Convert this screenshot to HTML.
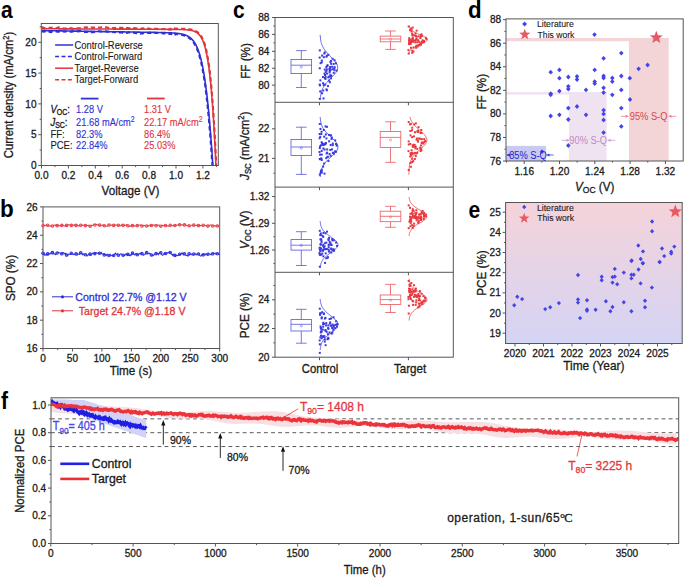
<!DOCTYPE html>
<html><head><meta charset="utf-8"><style>
html,body{margin:0;padding:0;background:#fff;width:685px;height:578px;overflow:hidden}
svg{display:block;font-family:'Liberation Sans', sans-serif}
text{stroke-width:0.28px}
</style></head><body>
<svg width="685" height="578" viewBox="0 0 685 578">
<rect width="685" height="578" fill="#fff"/>
<text transform="translate(1,17.5) scale(1,1.17)" font-size="21" text-anchor="start" fill="#000"  font-weight="bold" >a</text>
<text transform="translate(0,217.2) scale(1,1.05)" font-size="22.5" text-anchor="start" fill="#000"  font-weight="bold" >b</text>
<text transform="translate(233,18) scale(1,1.17)" font-size="21" text-anchor="start" fill="#000"  font-weight="bold" >c</text>
<text transform="translate(467.9,17.8) scale(1,1.04)" font-size="22.3" text-anchor="start" fill="#000"  font-weight="bold" >d</text>
<text transform="translate(468.5,217.5) scale(1,1.17)" font-size="21" text-anchor="start" fill="#000"  font-weight="bold" >e</text>
<text transform="translate(1,408.5) scale(1,1.17)" font-size="21" text-anchor="start" fill="#000"  font-weight="bold" >f</text>
<clipPath id="clipa"><rect x="41.3" y="23.5" width="177" height="142"/></clipPath>
<g clip-path="url(#clipa)">
<path d="M41.50,27.67 L42.58,27.39 L43.65,27.82 L44.73,28.16 L45.80,27.90 L46.88,27.75 L47.96,27.67 L49.03,27.87 L50.11,27.82 L51.18,27.78 L52.26,27.77 L53.34,28.07 L54.41,28.12 L55.49,28.20 L56.56,28.02 L57.64,27.67 L58.72,27.40 L59.79,27.48 L60.87,27.62 L61.94,27.86 L63.02,28.25 L64.10,28.58 L65.17,28.54 L66.25,28.62 L67.32,28.64 L68.40,28.27 L69.48,28.24 L70.55,28.18 L71.63,28.38 L72.70,28.70 L73.78,28.75 L74.86,28.94 L75.93,28.82 L77.01,28.35 L78.08,28.20 L79.16,28.44 L80.24,28.11 L81.31,27.91 L82.39,27.78 L83.46,27.55 L84.54,27.46 L85.62,27.36 L86.69,27.60 L87.77,27.34 L88.84,27.14 L89.92,27.56 L91.00,27.47 L92.07,27.43 L93.15,27.59 L94.22,27.67 L95.30,27.77 L96.38,27.53 L97.45,27.65 L98.53,27.50 L99.60,27.73 L100.68,27.53 L101.76,27.35 L102.83,27.53 L103.91,27.59 L104.98,27.39 L106.06,27.37 L107.14,27.52 L108.21,27.85 L109.29,28.06 L110.36,27.95 L111.44,28.26 L112.52,27.97 L113.59,28.20 L114.67,27.92 L115.74,28.13 L116.82,27.83 L117.90,27.76 L118.97,27.85 L120.05,27.92 L121.12,27.88 L122.20,27.90 L123.28,28.11 L124.35,28.37 L125.43,28.37 L126.50,28.06 L127.58,28.02 L128.66,28.40 L129.73,28.17 L130.81,28.04 L131.88,27.80 L132.96,28.13 L134.04,28.00 L135.11,28.39 L136.19,28.29 L137.26,28.49 L138.34,28.69 L139.42,28.38 L140.49,28.69 L141.57,28.64 L142.64,28.36 L143.72,28.57 L144.80,28.77 L145.87,28.45 L146.95,28.52 L148.02,28.36 L149.10,28.73 L150.18,28.80 L151.25,29.01 L152.33,28.81 L153.40,29.08 L154.48,28.66 L155.56,29.00 L156.63,28.76 L157.71,29.09 L158.78,29.19 L159.86,28.87 L160.94,29.08 L162.01,29.24 L163.09,29.00 L164.16,29.03 L165.24,29.30 L166.32,28.84 L167.39,29.06 L168.47,29.34 L169.54,29.35 L169.81,29.16 L170.08,28.90 L170.35,29.14 L170.62,29.18 L170.89,29.45 L171.16,29.36 L171.43,29.05 L171.70,28.81 L171.97,28.49 L172.23,28.32 L172.50,28.10 L172.77,28.03 L173.04,28.14 L173.31,28.42 L173.58,28.34 L173.85,28.52 L174.12,28.83 L174.39,28.85 L174.66,28.54 L174.92,28.83 L175.19,28.75 L175.46,28.81 L175.73,28.78 L176.00,28.66 L176.27,28.66 L176.54,28.67 L176.81,28.67 L177.08,28.67 L177.35,28.68 L177.61,28.68 L177.88,28.69 L178.15,28.69 L178.42,28.70 L178.69,28.70 L178.96,28.71 L179.23,28.71 L179.50,28.72 L179.77,28.72 L180.04,28.73 L180.30,28.73 L180.57,28.74 L180.84,28.75 L181.11,28.75 L181.38,28.76 L181.65,28.77 L181.92,28.78 L182.19,28.79 L182.46,28.80 L182.73,28.81 L182.99,28.82 L183.26,28.83 L183.53,28.84 L183.80,28.85 L184.07,28.86 L184.34,28.88 L184.61,28.89 L184.88,28.90 L185.15,28.92 L185.42,28.94 L185.68,28.95 L185.95,28.97 L186.22,28.99 L186.49,29.01 L186.76,29.03 L187.03,29.05 L187.30,29.08 L187.57,29.10 L187.84,29.13 L188.11,29.15 L188.37,29.18 L188.64,29.21 L188.91,29.25 L189.18,29.28 L189.45,29.32 L189.72,29.36 L189.99,29.40 L190.26,29.44 L190.53,29.48 L190.80,29.53 L191.06,29.58 L191.33,29.64 L191.60,29.69 L191.87,29.75 L192.14,29.81 L192.41,29.88 L192.68,29.95 L192.95,30.03 L193.22,30.11 L193.49,30.19 L193.75,30.28 L194.02,30.37 L194.29,30.47 L194.56,30.57 L194.83,30.68 L195.10,30.80 L195.37,30.92 L195.64,31.06 L195.91,31.19 L196.18,31.34 L196.44,31.49 L196.71,31.66 L196.98,31.83 L197.25,32.01 L197.52,32.21 L197.79,32.41 L198.06,32.63 L198.33,32.86 L198.60,33.10 L198.87,33.35 L199.13,33.62 L199.40,33.91 L199.67,34.21 L199.94,34.53 L200.21,34.87 L200.48,35.22 L200.75,35.60 L201.02,36.00 L201.29,36.42 L201.56,36.86 L201.82,37.33 L202.09,37.83 L202.36,38.35 L202.63,38.91 L202.90,39.49 L203.17,40.11 L203.44,40.76 L203.71,41.44 L203.98,42.17 L204.25,42.94 L204.51,43.74 L204.78,44.59 L205.05,45.49 L205.32,46.44 L205.59,47.44 L205.86,48.49 L206.13,49.59 L206.40,50.76 L206.67,51.99 L206.94,53.28 L207.20,54.64 L207.47,56.08 L207.74,57.58 L208.01,59.17 L208.28,60.83 L208.55,62.58 L208.82,64.42 L209.09,66.35 L209.36,68.37 L209.63,70.50 L209.89,72.72 L210.16,75.06 L210.43,77.50 L210.70,80.06 L210.97,82.74 L211.24,85.55 L211.51,88.48 L211.78,91.54 L212.05,94.74 L212.32,98.08 L212.58,101.57 L212.85,105.20 L213.12,108.99 L213.39,112.94 L213.66,117.04 L213.93,121.31 L214.20,125.75 L214.47,130.36 L214.74,135.15 L215.01,140.11 L215.27,145.26 L215.54,150.60 L215.81,156.12 L216.08,161.83 L216.35,167.74 L216.62,171.66" stroke="#e0353b" stroke-width="2.1" fill="none" stroke-dasharray="4.2,3"/>
<path d="M41.50,28.75 L42.58,28.75 L43.65,28.76 L44.73,28.76 L45.80,28.77 L46.88,28.77 L47.96,28.78 L49.03,28.78 L50.11,28.79 L51.18,28.79 L52.26,28.80 L53.34,28.80 L54.41,28.81 L55.49,28.81 L56.56,28.82 L57.64,28.82 L58.72,28.83 L59.79,28.83 L60.87,28.84 L61.94,28.84 L63.02,28.85 L64.10,28.85 L65.17,28.86 L66.25,28.86 L67.32,28.87 L68.40,28.87 L69.48,28.88 L70.55,28.88 L71.63,28.89 L72.70,28.89 L73.78,28.90 L74.86,28.90 L75.93,28.91 L77.01,28.91 L78.08,28.92 L79.16,28.92 L80.24,28.93 L81.31,28.93 L82.39,28.94 L83.46,28.94 L84.54,28.95 L85.62,28.95 L86.69,28.95 L87.77,28.96 L88.84,28.96 L89.92,28.97 L91.00,28.97 L92.07,28.98 L93.15,28.98 L94.22,28.99 L95.30,28.99 L96.38,29.00 L97.45,29.00 L98.53,29.01 L99.60,29.01 L100.68,29.02 L101.76,29.02 L102.83,29.03 L103.91,29.03 L104.98,29.04 L106.06,29.04 L107.14,29.05 L108.21,29.05 L109.29,29.06 L110.36,29.06 L111.44,29.07 L112.52,29.07 L113.59,29.08 L114.67,29.08 L115.74,29.09 L116.82,29.09 L117.90,29.10 L118.97,29.10 L120.05,29.11 L121.12,29.11 L122.20,29.12 L123.28,29.12 L124.35,29.13 L125.43,29.13 L126.50,29.14 L127.58,29.14 L128.66,29.15 L129.73,29.15 L130.81,29.16 L131.88,29.16 L132.96,29.17 L134.04,29.17 L135.11,29.18 L136.19,29.18 L137.26,29.19 L138.34,29.19 L139.42,29.20 L140.49,29.20 L141.57,29.21 L142.64,29.21 L143.72,29.22 L144.80,29.22 L145.87,29.23 L146.95,29.23 L148.02,29.24 L149.10,29.24 L150.18,29.25 L151.25,29.25 L152.33,29.26 L153.40,29.26 L154.48,29.27 L155.56,29.27 L156.63,29.28 L157.71,29.28 L158.78,29.29 L159.86,29.29 L160.94,29.30 L162.01,29.30 L163.09,29.31 L164.16,29.31 L165.24,29.32 L166.32,29.32 L167.39,29.33 L168.47,29.34 L169.54,29.34 L169.81,29.35 L170.08,29.35 L170.35,29.35 L170.62,29.35 L170.89,29.35 L171.16,29.36 L171.43,29.36 L171.70,29.36 L171.97,29.36 L172.23,29.36 L172.50,29.37 L172.77,29.37 L173.04,29.37 L173.31,29.37 L173.58,29.38 L173.85,29.38 L174.12,29.38 L174.39,29.38 L174.66,29.39 L174.92,29.39 L175.19,29.39 L175.46,29.40 L175.73,29.40 L176.00,29.40 L176.27,29.41 L176.54,29.41 L176.81,29.41 L177.08,29.42 L177.35,29.42 L177.61,29.43 L177.88,29.43 L178.15,29.43 L178.42,29.44 L178.69,29.44 L178.96,29.45 L179.23,29.46 L179.50,29.46 L179.77,29.47 L180.04,29.47 L180.30,29.48 L180.57,29.49 L180.84,29.49 L181.11,29.50 L181.38,29.51 L181.65,29.52 L181.92,29.53 L182.19,29.54 L182.46,29.55 L182.73,29.56 L182.99,29.57 L183.26,29.58 L183.53,29.59 L183.80,29.60 L184.07,29.61 L184.34,29.63 L184.61,29.64 L184.88,29.66 L185.15,29.67 L185.42,29.69 L185.68,29.71 L185.95,29.73 L186.22,29.75 L186.49,29.77 L186.76,29.79 L187.03,29.81 L187.30,29.84 L187.57,29.87 L187.84,29.89 L188.11,29.92 L188.37,29.95 L188.64,29.99 L188.91,30.02 L189.18,30.06 L189.45,30.09 L189.72,30.13 L189.99,30.18 L190.26,30.22 L190.53,30.27 L190.80,30.32 L191.06,30.37 L191.33,30.43 L191.60,30.49 L191.87,30.55 L192.14,30.62 L192.41,30.69 L192.68,30.77 L192.95,30.84 L193.22,30.93 L193.49,31.02 L193.75,31.11 L194.02,31.21 L194.29,31.31 L194.56,31.42 L194.83,31.54 L195.10,31.66 L195.37,31.79 L195.64,31.93 L195.91,32.08 L196.18,32.23 L196.44,32.40 L196.71,32.57 L196.98,32.75 L197.25,32.95 L197.52,33.15 L197.79,33.37 L198.06,33.59 L198.33,33.84 L198.60,34.09 L198.87,34.36 L199.13,34.65 L199.40,34.95 L199.67,35.27 L199.94,35.61 L200.21,35.96 L200.48,36.34 L200.75,36.74 L201.02,37.16 L201.29,37.60 L201.56,38.07 L201.82,38.57 L202.09,39.09 L202.36,39.64 L202.63,40.23 L202.90,40.85 L203.17,41.50 L203.44,42.18 L203.71,42.91 L203.98,43.67 L204.25,44.48 L204.51,45.33 L204.78,46.23 L205.05,47.18 L205.32,48.17 L205.59,49.23 L205.86,50.33 L206.13,51.50 L206.40,52.73 L206.67,54.02 L206.94,55.38 L207.20,56.82 L207.47,58.32 L207.74,59.91 L208.01,61.57 L208.28,63.32 L208.55,65.16 L208.82,67.09 L209.09,69.11 L209.36,71.23 L209.63,73.46 L209.89,75.80 L210.16,78.24 L210.43,80.80 L210.70,83.48 L210.97,86.29 L211.24,89.22 L211.51,92.28 L211.78,95.48 L212.05,98.82 L212.32,102.31 L212.58,105.94 L212.85,109.73 L213.12,113.68 L213.39,117.78 L213.66,122.05 L213.93,126.49 L214.20,131.10 L214.47,135.89 L214.74,140.85 L215.01,146.00 L215.27,151.33 L215.54,156.86 L215.81,162.57 L216.08,168.48 L216.35,171.66" stroke="#e0353b" stroke-width="1.6" fill="none" />
<path d="M41.50,30.60 L42.58,30.61 L43.65,30.63 L44.73,30.65 L45.80,30.66 L46.88,30.68 L47.96,30.70 L49.03,30.72 L50.11,30.73 L51.18,30.75 L52.26,30.77 L53.34,30.79 L54.41,30.80 L55.49,30.82 L56.56,30.84 L57.64,30.85 L58.72,30.87 L59.79,30.89 L60.87,30.91 L61.94,30.92 L63.02,30.94 L64.10,30.96 L65.17,30.98 L66.25,30.99 L67.32,31.01 L68.40,31.03 L69.48,31.04 L70.55,31.06 L71.63,31.08 L72.70,31.10 L73.78,31.11 L74.86,31.13 L75.93,31.15 L77.01,31.17 L78.08,31.18 L79.16,31.20 L80.24,31.22 L81.31,31.23 L82.39,31.25 L83.46,31.27 L84.54,31.29 L85.62,31.30 L86.69,31.32 L87.77,31.34 L88.84,31.35 L89.92,31.37 L91.00,31.39 L92.07,31.41 L93.15,31.42 L94.22,31.44 L95.30,31.46 L96.38,31.48 L97.45,31.49 L98.53,31.51 L99.60,31.53 L100.68,31.54 L101.76,31.56 L102.83,31.58 L103.91,31.60 L104.98,31.61 L106.06,31.63 L107.14,31.65 L108.21,31.67 L109.29,31.68 L110.36,31.70 L111.44,31.72 L112.52,31.73 L113.59,31.75 L114.67,31.77 L115.74,31.79 L116.82,31.80 L117.90,31.82 L118.97,31.84 L120.05,31.86 L121.12,31.87 L122.20,31.89 L123.28,31.91 L124.35,31.92 L125.43,31.94 L126.50,31.96 L127.58,31.98 L128.66,31.99 L129.73,32.01 L130.81,32.03 L131.88,32.05 L132.96,32.06 L134.04,32.08 L135.11,32.10 L136.19,32.11 L137.26,32.13 L138.34,32.15 L139.42,32.17 L140.49,32.18 L141.57,32.20 L142.64,32.22 L143.72,32.24 L144.80,32.25 L145.87,32.27 L146.95,32.29 L148.02,32.31 L149.10,32.33 L150.18,32.34 L151.25,32.36 L152.33,32.38 L153.40,32.40 L154.48,32.42 L155.56,32.44 L156.63,32.46 L157.71,32.48 L158.78,32.50 L159.86,32.53 L160.94,32.55 L162.01,32.57 L163.09,32.60 L164.16,32.63 L165.24,32.66 L166.32,32.69 L167.39,32.73 L168.47,32.76 L169.54,32.81 L169.81,32.82 L170.08,32.83 L170.35,32.84 L170.62,32.86 L170.89,32.87 L171.16,32.88 L171.43,32.90 L171.70,32.91 L171.97,32.92 L172.23,32.94 L172.50,32.95 L172.77,32.97 L173.04,32.99 L173.31,33.00 L173.58,33.02 L173.85,33.04 L174.12,33.06 L174.39,33.08 L174.66,33.10 L174.92,33.12 L175.19,33.14 L175.46,33.16 L175.73,33.19 L176.00,33.21 L176.27,33.24 L176.54,33.26 L176.81,33.29 L177.08,33.32 L177.35,33.35 L177.61,33.38 L177.88,33.41 L178.15,33.44 L178.42,33.48 L178.69,33.51 L178.96,33.55 L179.23,33.59 L179.50,33.63 L179.77,33.67 L180.04,33.71 L180.30,33.76 L180.57,33.80 L180.84,33.85 L181.11,33.90 L181.38,33.96 L181.65,34.01 L181.92,34.07 L182.19,34.13 L182.46,34.19 L182.73,34.25 L182.99,34.32 L183.26,34.39 L183.53,34.46 L183.80,34.54 L184.07,34.62 L184.34,34.70 L184.61,34.79 L184.88,34.88 L185.15,34.97 L185.42,35.07 L185.68,35.17 L185.95,35.28 L186.22,35.39 L186.49,35.51 L186.76,35.63 L187.03,35.75 L187.30,35.89 L187.57,36.02 L187.84,36.17 L188.11,36.31 L188.37,36.47 L188.64,36.63 L188.91,36.80 L189.18,36.98 L189.45,37.16 L189.72,37.36 L189.99,37.56 L190.26,37.77 L190.53,37.98 L190.80,38.21 L191.06,38.45 L191.33,38.70 L191.60,38.95 L191.87,39.22 L192.14,39.50 L192.41,39.80 L192.68,40.10 L192.95,40.42 L193.22,40.75 L193.49,41.10 L193.75,41.46 L194.02,41.84 L194.29,42.23 L194.56,42.64 L194.83,43.07 L195.10,43.51 L195.37,43.97 L195.64,44.45 L195.91,44.96 L196.18,45.48 L196.44,46.03 L196.71,46.59 L196.98,47.18 L197.25,47.80 L197.52,48.44 L197.79,49.11 L198.06,49.80 L198.33,50.52 L198.60,51.28 L198.87,52.06 L199.13,52.87 L199.40,53.72 L199.67,54.59 L199.94,55.51 L200.21,56.46 L200.48,57.44 L200.75,58.47 L201.02,59.53 L201.29,60.63 L201.56,61.78 L201.82,62.97 L202.09,64.20 L202.36,65.48 L202.63,66.81 L202.90,68.19 L203.17,69.61 L203.44,71.09 L203.71,72.62 L203.98,74.21 L204.25,75.85 L204.51,77.54 L204.78,79.30 L205.05,81.12 L205.32,82.99 L205.59,84.93 L205.86,86.94 L206.13,89.01 L206.40,91.14 L206.67,93.35 L206.94,95.62 L207.20,97.96 L207.47,100.38 L207.74,102.87 L208.01,105.43 L208.28,108.07 L208.55,110.79 L208.82,113.59 L209.09,116.46 L209.36,119.42 L209.63,122.45 L209.89,125.57 L210.16,128.77 L210.43,132.05 L210.70,135.42 L210.97,138.88 L211.24,142.42 L211.51,146.04 L211.78,149.76 L212.05,153.56 L212.32,157.45 L212.58,161.43 L212.85,165.50 L213.12,169.66 L213.39,171.66" stroke="#2f2fd6" stroke-width="1.6" fill="none" />
<path d="M41.50,31.54 L42.58,31.49 L43.65,31.58 L44.73,31.49 L45.80,31.40 L46.88,31.74 L47.96,32.07 L49.03,31.75 L50.11,31.90 L51.18,32.05 L52.26,31.62 L53.34,31.64 L54.41,31.39 L55.49,31.45 L56.56,31.38 L57.64,31.69 L58.72,31.59 L59.79,31.34 L60.87,31.39 L61.94,31.26 L63.02,31.22 L64.10,31.63 L65.17,31.46 L66.25,31.45 L67.32,31.66 L68.40,32.04 L69.48,31.75 L70.55,31.79 L71.63,31.65 L72.70,31.41 L73.78,31.33 L74.86,31.12 L75.93,31.33 L77.01,31.21 L78.08,31.37 L79.16,31.15 L80.24,31.01 L81.31,31.46 L82.39,31.83 L83.46,32.08 L84.54,31.74 L85.62,31.85 L86.69,31.80 L87.77,32.01 L88.84,32.03 L89.92,32.14 L91.00,32.27 L92.07,32.20 L93.15,32.15 L94.22,31.87 L95.30,31.80 L96.38,31.56 L97.45,31.41 L98.53,31.19 L99.60,31.24 L100.68,31.66 L101.76,31.51 L102.83,31.30 L103.91,31.17 L104.98,31.31 L106.06,31.33 L107.14,31.72 L108.21,31.59 L109.29,31.68 L110.36,31.97 L111.44,32.38 L112.52,32.15 L113.59,31.85 L114.67,32.27 L115.74,32.10 L116.82,32.25 L117.90,32.57 L118.97,32.74 L120.05,32.53 L121.12,32.29 L122.20,32.69 L123.28,32.61 L124.35,32.97 L125.43,32.78 L126.50,32.91 L127.58,32.62 L128.66,32.29 L129.73,32.37 L130.81,32.08 L131.88,32.34 L132.96,32.74 L134.04,32.69 L135.11,33.08 L136.19,33.28 L137.26,33.30 L138.34,33.18 L139.42,33.41 L140.49,33.69 L141.57,33.32 L142.64,33.42 L143.72,33.03 L144.80,32.75 L145.87,32.89 L146.95,32.96 L148.02,32.97 L149.10,32.90 L150.18,32.87 L151.25,32.88 L152.33,32.84 L153.40,32.58 L154.48,32.68 L155.56,32.82 L156.63,32.74 L157.71,33.02 L158.78,33.22 L159.86,32.90 L160.94,32.96 L162.01,33.00 L163.09,33.44 L164.16,33.51 L165.24,33.47 L166.32,33.85 L167.39,33.74 L168.47,33.64 L169.54,33.99 L169.81,33.85 L170.08,33.84 L170.35,33.68 L170.62,33.79 L170.89,33.63 L171.16,33.47 L171.43,33.86 L171.70,34.17 L171.97,33.98 L172.23,33.61 L172.50,33.82 L172.77,33.86 L173.04,33.79 L173.31,33.93 L173.58,34.03 L173.85,34.15 L174.12,34.22 L174.39,34.11 L174.66,34.24 L174.92,34.30 L175.19,34.06 L175.46,34.41 L175.73,34.31 L176.00,33.99 L176.27,34.02 L176.54,34.04 L176.81,34.07 L177.08,34.10 L177.35,34.13 L177.61,34.17 L177.88,34.20 L178.15,34.23 L178.42,34.27 L178.69,34.31 L178.96,34.35 L179.23,34.39 L179.50,34.43 L179.77,34.47 L180.04,34.52 L180.30,34.57 L180.57,34.62 L180.84,34.67 L181.11,34.72 L181.38,34.78 L181.65,34.84 L181.92,34.90 L182.19,34.96 L182.46,35.03 L182.73,35.10 L182.99,35.17 L183.26,35.24 L183.53,35.32 L183.80,35.40 L184.07,35.49 L184.34,35.57 L184.61,35.67 L184.88,35.76 L185.15,35.86 L185.42,35.97 L185.68,36.07 L185.95,36.19 L186.22,36.31 L186.49,36.43 L186.76,36.56 L187.03,36.69 L187.30,36.83 L187.57,36.98 L187.84,37.13 L188.11,37.29 L188.37,37.46 L188.64,37.63 L188.91,37.81 L189.18,38.00 L189.45,38.19 L189.72,38.40 L189.99,38.61 L190.26,38.84 L190.53,39.07 L190.80,39.31 L191.06,39.56 L191.33,39.83 L191.60,40.10 L191.87,40.39 L192.14,40.69 L192.41,41.00 L192.68,41.33 L192.95,41.66 L193.22,42.02 L193.49,42.39 L193.75,42.77 L194.02,43.17 L194.29,43.59 L194.56,44.02 L194.83,44.48 L195.10,44.95 L195.37,45.44 L195.64,45.96 L195.91,46.49 L196.18,47.05 L196.44,47.63 L196.71,48.23 L196.98,48.86 L197.25,49.51 L197.52,50.19 L197.79,50.90 L198.06,51.64 L198.33,52.40 L198.60,53.20 L198.87,54.03 L199.13,54.89 L199.40,55.79 L199.67,56.72 L199.94,57.68 L200.21,58.69 L200.48,59.73 L200.75,60.82 L201.02,61.94 L201.29,63.11 L201.56,64.32 L201.82,65.58 L202.09,66.88 L202.36,68.23 L202.63,69.63 L202.90,71.09 L203.17,72.59 L203.44,74.15 L203.71,75.76 L203.98,77.43 L204.25,79.15 L204.51,80.94 L204.78,82.79 L205.05,84.69 L205.32,86.67 L205.59,88.70 L205.86,90.80 L206.13,92.97 L206.40,95.21 L206.67,97.52 L206.94,99.90 L207.20,102.35 L207.47,104.88 L207.74,107.48 L208.01,110.16 L208.28,112.92 L208.55,115.75 L208.82,118.67 L209.09,121.66 L209.36,124.74 L209.63,127.90 L209.89,131.14 L210.16,134.47 L210.43,137.88 L210.70,141.38 L210.97,144.96 L211.24,148.63 L211.51,152.39 L211.78,156.23 L212.05,160.17 L212.32,164.19 L212.58,168.31 L212.85,171.66" stroke="#2f2fd6" stroke-width="2.1" fill="none" stroke-dasharray="4.2,3"/>
</g>
<rect x="41.3" y="23.5" width="177" height="142" fill="none" stroke="#555" stroke-width="1" />
<line x1="38.3" y1="165.5" x2="41.3" y2="165.5" stroke="#555" stroke-width="1" />
<text transform="translate(36.5,169.1) scale(1,1.06)" font-size="10.1" text-anchor="end" fill="#1a1a1a" stroke="#1a1a1a" font-weight="normal" >0</text>
<line x1="38.3" y1="134.7" x2="41.3" y2="134.7" stroke="#555" stroke-width="1" />
<text transform="translate(36.5,138.3) scale(1,1.06)" font-size="10.1" text-anchor="end" fill="#1a1a1a" stroke="#1a1a1a" font-weight="normal" >5</text>
<line x1="38.3" y1="103.9" x2="41.3" y2="103.9" stroke="#555" stroke-width="1" />
<text transform="translate(36.5,107.5) scale(1,1.06)" font-size="10.1" text-anchor="end" fill="#1a1a1a" stroke="#1a1a1a" font-weight="normal" >10</text>
<line x1="38.3" y1="73.1" x2="41.3" y2="73.1" stroke="#555" stroke-width="1" />
<text transform="translate(36.5,76.7) scale(1,1.06)" font-size="10.1" text-anchor="end" fill="#1a1a1a" stroke="#1a1a1a" font-weight="normal" >15</text>
<line x1="38.3" y1="42.3" x2="41.3" y2="42.3" stroke="#555" stroke-width="1" />
<text transform="translate(36.5,45.9) scale(1,1.06)" font-size="10.1" text-anchor="end" fill="#1a1a1a" stroke="#1a1a1a" font-weight="normal" >20</text>
<line x1="39.7" y1="150.1" x2="41.3" y2="150.1" stroke="#555" stroke-width="1" />
<line x1="39.7" y1="119.3" x2="41.3" y2="119.3" stroke="#555" stroke-width="1" />
<line x1="39.7" y1="88.5" x2="41.3" y2="88.5" stroke="#555" stroke-width="1" />
<line x1="39.7" y1="57.7" x2="41.3" y2="57.7" stroke="#555" stroke-width="1" />
<line x1="39.7" y1="26.9" x2="41.3" y2="26.9" stroke="#555" stroke-width="1" />
<line x1="41.5" y1="165.5" x2="41.5" y2="168.5" stroke="#555" stroke-width="1" />
<text transform="translate(41.5,179.1) scale(1,1.06)" font-size="10.1" text-anchor="middle" fill="#1a1a1a" stroke="#1a1a1a" font-weight="normal" >0.0</text>
<line x1="68.4" y1="165.5" x2="68.4" y2="168.5" stroke="#555" stroke-width="1" />
<text transform="translate(68.4,179.1) scale(1,1.06)" font-size="10.1" text-anchor="middle" fill="#1a1a1a" stroke="#1a1a1a" font-weight="normal" >0.2</text>
<line x1="95.3" y1="165.5" x2="95.3" y2="168.5" stroke="#555" stroke-width="1" />
<text transform="translate(95.3,179.1) scale(1,1.06)" font-size="10.1" text-anchor="middle" fill="#1a1a1a" stroke="#1a1a1a" font-weight="normal" >0.4</text>
<line x1="122.2" y1="165.5" x2="122.2" y2="168.5" stroke="#555" stroke-width="1" />
<text transform="translate(122.2,179.1) scale(1,1.06)" font-size="10.1" text-anchor="middle" fill="#1a1a1a" stroke="#1a1a1a" font-weight="normal" >0.6</text>
<line x1="149.1" y1="165.5" x2="149.1" y2="168.5" stroke="#555" stroke-width="1" />
<text transform="translate(149.1,179.1) scale(1,1.06)" font-size="10.1" text-anchor="middle" fill="#1a1a1a" stroke="#1a1a1a" font-weight="normal" >0.8</text>
<line x1="176" y1="165.5" x2="176" y2="168.5" stroke="#555" stroke-width="1" />
<text transform="translate(176,179.1) scale(1,1.06)" font-size="10.1" text-anchor="middle" fill="#1a1a1a" stroke="#1a1a1a" font-weight="normal" >1.0</text>
<line x1="202.9" y1="165.5" x2="202.9" y2="168.5" stroke="#555" stroke-width="1" />
<text transform="translate(202.9,179.1) scale(1,1.06)" font-size="10.1" text-anchor="middle" fill="#1a1a1a" stroke="#1a1a1a" font-weight="normal" >1.2</text>
<line x1="54.95" y1="165.5" x2="54.95" y2="167.1" stroke="#555" stroke-width="1" />
<line x1="81.85" y1="165.5" x2="81.85" y2="167.1" stroke="#555" stroke-width="1" />
<line x1="108.75" y1="165.5" x2="108.75" y2="167.1" stroke="#555" stroke-width="1" />
<line x1="135.65" y1="165.5" x2="135.65" y2="167.1" stroke="#555" stroke-width="1" />
<line x1="162.55" y1="165.5" x2="162.55" y2="167.1" stroke="#555" stroke-width="1" />
<line x1="189.45" y1="165.5" x2="189.45" y2="167.1" stroke="#555" stroke-width="1" />
<line x1="216.35" y1="165.5" x2="216.35" y2="167.1" stroke="#555" stroke-width="1" />
<text transform="translate(130.5,194.6) scale(1,1.08)" font-size="11.7" text-anchor="middle" fill="#1a1a1a" stroke="#1a1a1a" font-weight="normal" >Voltage (V)</text>
<text transform="translate(13.2,95) rotate(-90) scale(1,1.1)" font-size="11.3" text-anchor="middle" fill="#1a1a1a" stroke="#1a1a1a">Current density (mA/cm<tspan font-size="7.5" dy="-4">2</tspan><tspan dy="4">)</tspan></text>
<line x1="55.1" y1="45" x2="73.1" y2="45" stroke="#2f2fd6" stroke-width="1.5" />
<text transform="translate(74.5,48.6) scale(1,1.15)" font-size="9.4" text-anchor="start" fill="#1a1a1a" stroke="#1a1a1a" style="stroke-width:0.1px" font-weight="normal" >Control-Reverse</text>
<line x1="55.1" y1="56.6" x2="73.1" y2="56.6" stroke="#2f2fd6" stroke-width="1.5" stroke-dasharray="4,2.4"/>
<text transform="translate(74.5,60.2) scale(1,1.15)" font-size="9.4" text-anchor="start" fill="#1a1a1a" stroke="#1a1a1a" style="stroke-width:0.1px" font-weight="normal" >Control-Forward</text>
<line x1="55.1" y1="68.2" x2="73.1" y2="68.2" stroke="#e0353b" stroke-width="1.5" />
<text transform="translate(74.5,71.8) scale(1,1.15)" font-size="9.4" text-anchor="start" fill="#1a1a1a" stroke="#1a1a1a" style="stroke-width:0.1px" font-weight="normal" >Target-Reverse</text>
<line x1="55.1" y1="79.8" x2="73.1" y2="79.8" stroke="#e0353b" stroke-width="1.5" stroke-dasharray="4,2.4"/>
<text transform="translate(74.5,83.4) scale(1,1.15)" font-size="9.4" text-anchor="start" fill="#1a1a1a" stroke="#1a1a1a" style="stroke-width:0.1px" font-weight="normal" >Target-Forward</text>
<line x1="80.8" y1="98.6" x2="98.5" y2="98.6" stroke="#2f2fd6" stroke-width="1.8" />
<line x1="147" y1="98.5" x2="164.7" y2="98.5" stroke="#e0353b" stroke-width="1.8" />
<text transform="translate(50.4,112.6) scale(1,1.18)" font-size="9.5" fill="#1a1a1a" stroke="#1a1a1a"><tspan font-style="italic">V</tspan><tspan font-size="7" dy="2">OC</tspan><tspan dy="-2">:</tspan></text>
<text transform="translate(50.4,125.89999999999999) scale(1,1.18)" font-size="9.5" fill="#1a1a1a" stroke="#1a1a1a"><tspan font-style="italic">J</tspan><tspan font-size="7" dy="2">SC</tspan><tspan dy="-2">:</tspan></text>
<text transform="translate(50.4,137.7) scale(1,1.18)" font-size="9.5" text-anchor="start" fill="#1a1a1a" stroke="#1a1a1a" style="stroke-width:0.1px" font-weight="normal" >FF:</text>
<text transform="translate(50.4,149.3) scale(1,1.18)" font-size="9.5" text-anchor="start" fill="#1a1a1a" stroke="#1a1a1a" style="stroke-width:0.1px" font-weight="normal" >PCE:</text>
<text transform="translate(76.1,112.6) scale(1,1.18)" font-size="9.3" text-anchor="start" fill="#2f2fd6" stroke="#2f2fd6" style="stroke-width:0.1px" font-weight="normal" >1.28 V</text>
<text transform="translate(76.1,125.9) scale(1,1.18)" font-size="9.3" text-anchor="start" fill="#2f2fd6" stroke="#2f2fd6" style="stroke-width:0.1px" font-weight="normal" >21.68 mA/cm<tspan font-size="7" dy="-3.5">2</tspan></text>
<text transform="translate(76.1,137.7) scale(1,1.18)" font-size="9.3" text-anchor="start" fill="#2f2fd6" stroke="#2f2fd6" style="stroke-width:0.1px" font-weight="normal" >82.3%</text>
<text transform="translate(76.1,149.3) scale(1,1.18)" font-size="9.3" text-anchor="start" fill="#2f2fd6" stroke="#2f2fd6" style="stroke-width:0.1px" font-weight="normal" >22.84%</text>
<text transform="translate(144,112.6) scale(1,1.18)" font-size="9.3" text-anchor="start" fill="#e0353b" stroke="#e0353b" style="stroke-width:0.1px" font-weight="normal" >1.31 V</text>
<text transform="translate(144,125.9) scale(1,1.18)" font-size="9.3" text-anchor="start" fill="#e0353b" stroke="#e0353b" style="stroke-width:0.1px" font-weight="normal" >22.17 mA/cm<tspan font-size="7" dy="-3.5">2</tspan></text>
<text transform="translate(144,137.7) scale(1,1.18)" font-size="9.3" text-anchor="start" fill="#e0353b" stroke="#e0353b" style="stroke-width:0.1px" font-weight="normal" >86.4%</text>
<text transform="translate(144,149.3) scale(1,1.18)" font-size="9.3" text-anchor="start" fill="#e0353b" stroke="#e0353b" style="stroke-width:0.1px" font-weight="normal" >25.03%</text>
<rect x="43" y="206.9" width="176.7" height="141.6" fill="none" stroke="#555" stroke-width="1" />
<line x1="40" y1="348.5" x2="43" y2="348.5" stroke="#555" stroke-width="1" />
<text transform="translate(37.6,352.1) scale(1,1.06)" font-size="10.1" text-anchor="end" fill="#1a1a1a" stroke="#1a1a1a" font-weight="normal" >16</text>
<line x1="40" y1="320.18" x2="43" y2="320.18" stroke="#555" stroke-width="1" />
<text transform="translate(37.6,323.78) scale(1,1.06)" font-size="10.1" text-anchor="end" fill="#1a1a1a" stroke="#1a1a1a" font-weight="normal" >18</text>
<line x1="40" y1="291.86" x2="43" y2="291.86" stroke="#555" stroke-width="1" />
<text transform="translate(37.6,295.46) scale(1,1.06)" font-size="10.1" text-anchor="end" fill="#1a1a1a" stroke="#1a1a1a" font-weight="normal" >20</text>
<line x1="40" y1="263.54" x2="43" y2="263.54" stroke="#555" stroke-width="1" />
<text transform="translate(37.6,267.14) scale(1,1.06)" font-size="10.1" text-anchor="end" fill="#1a1a1a" stroke="#1a1a1a" font-weight="normal" >22</text>
<line x1="40" y1="235.22" x2="43" y2="235.22" stroke="#555" stroke-width="1" />
<text transform="translate(37.6,238.82) scale(1,1.06)" font-size="10.1" text-anchor="end" fill="#1a1a1a" stroke="#1a1a1a" font-weight="normal" >24</text>
<line x1="40" y1="206.9" x2="43" y2="206.9" stroke="#555" stroke-width="1" />
<text transform="translate(37.6,210.5) scale(1,1.06)" font-size="10.1" text-anchor="end" fill="#1a1a1a" stroke="#1a1a1a" font-weight="normal" >26</text>
<line x1="41.4" y1="334.34" x2="43" y2="334.34" stroke="#555" stroke-width="1" />
<line x1="41.4" y1="306.02" x2="43" y2="306.02" stroke="#555" stroke-width="1" />
<line x1="41.4" y1="277.7" x2="43" y2="277.7" stroke="#555" stroke-width="1" />
<line x1="41.4" y1="249.38" x2="43" y2="249.38" stroke="#555" stroke-width="1" />
<line x1="41.4" y1="221.06" x2="43" y2="221.06" stroke="#555" stroke-width="1" />
<line x1="43" y1="348.5" x2="43" y2="351.5" stroke="#555" stroke-width="1" />
<text transform="translate(43,362.1) scale(1,1.06)" font-size="10.1" text-anchor="middle" fill="#1a1a1a" stroke="#1a1a1a" font-weight="normal" >0</text>
<line x1="72.45" y1="348.5" x2="72.45" y2="351.5" stroke="#555" stroke-width="1" />
<text transform="translate(72.45,362.1) scale(1,1.06)" font-size="10.1" text-anchor="middle" fill="#1a1a1a" stroke="#1a1a1a" font-weight="normal" >50</text>
<line x1="101.9" y1="348.5" x2="101.9" y2="351.5" stroke="#555" stroke-width="1" />
<text transform="translate(101.9,362.1) scale(1,1.06)" font-size="10.1" text-anchor="middle" fill="#1a1a1a" stroke="#1a1a1a" font-weight="normal" >100</text>
<line x1="131.35" y1="348.5" x2="131.35" y2="351.5" stroke="#555" stroke-width="1" />
<text transform="translate(131.35,362.1) scale(1,1.06)" font-size="10.1" text-anchor="middle" fill="#1a1a1a" stroke="#1a1a1a" font-weight="normal" >150</text>
<line x1="160.8" y1="348.5" x2="160.8" y2="351.5" stroke="#555" stroke-width="1" />
<text transform="translate(160.8,362.1) scale(1,1.06)" font-size="10.1" text-anchor="middle" fill="#1a1a1a" stroke="#1a1a1a" font-weight="normal" >200</text>
<line x1="190.25" y1="348.5" x2="190.25" y2="351.5" stroke="#555" stroke-width="1" />
<text transform="translate(190.25,362.1) scale(1,1.06)" font-size="10.1" text-anchor="middle" fill="#1a1a1a" stroke="#1a1a1a" font-weight="normal" >250</text>
<line x1="219.7" y1="348.5" x2="219.7" y2="351.5" stroke="#555" stroke-width="1" />
<text transform="translate(219.7,362.1) scale(1,1.06)" font-size="10.1" text-anchor="middle" fill="#1a1a1a" stroke="#1a1a1a" font-weight="normal" >300</text>
<line x1="57.73" y1="348.5" x2="57.73" y2="350.1" stroke="#555" stroke-width="1" />
<line x1="87.17" y1="348.5" x2="87.17" y2="350.1" stroke="#555" stroke-width="1" />
<line x1="116.62" y1="348.5" x2="116.62" y2="350.1" stroke="#555" stroke-width="1" />
<line x1="146.07" y1="348.5" x2="146.07" y2="350.1" stroke="#555" stroke-width="1" />
<line x1="175.53" y1="348.5" x2="175.53" y2="350.1" stroke="#555" stroke-width="1" />
<line x1="204.97" y1="348.5" x2="204.97" y2="350.1" stroke="#555" stroke-width="1" />
<text transform="translate(131,374.6) scale(1,1.08)" font-size="11.7" text-anchor="middle" fill="#1a1a1a" stroke="#1a1a1a" font-weight="normal" >Time (s)</text>
<text transform="translate(14.5,278) rotate(-90) scale(1,1.15)" font-size="11.7" text-anchor="middle" fill="#1a1a1a" stroke="#1a1a1a">SPO (%)</text>
<path d="M43.00,225.78 L43.59,225.49 L44.18,225.35 L44.77,225.40 L45.36,225.70 L45.95,225.33 L46.53,225.06 L47.12,225.17 L47.71,225.25 L48.30,225.57 L48.89,226.03 L49.48,225.98 L50.07,225.74 L50.66,226.08 L51.25,225.60 L51.84,225.82 L52.42,225.97 L53.01,226.27 L53.60,225.53 L54.19,225.27 L54.78,224.95 L55.37,224.99 L55.96,225.59 L56.55,225.72 L57.14,225.64 L57.73,225.96 L58.31,225.36 L58.90,225.52 L59.49,225.84 L60.08,225.41 L60.67,225.79 L61.26,225.27 L61.85,225.37 L62.44,225.34 L63.03,225.53 L63.61,225.52 L64.20,225.81 L64.79,226.16 L65.38,225.58 L65.97,225.81 L66.56,225.42 L67.15,225.72 L67.74,225.17 L68.33,224.87 L68.92,224.79 L69.50,224.73 L70.09,224.86 L70.68,224.81 L71.27,225.38 L71.86,225.42 L72.45,225.11 L73.04,225.51 L73.63,225.07 L74.22,224.80 L74.81,225.08 L75.40,225.33 L75.98,225.41 L76.57,225.54 L77.16,225.02 L77.75,225.26 L78.34,225.79 L78.93,226.09 L79.52,225.68 L80.11,225.12 L80.70,225.22 L81.28,225.30 L81.87,225.30 L82.46,225.10 L83.05,225.48 L83.64,225.36 L84.23,225.33 L84.82,225.25 L85.41,225.62 L86.00,225.90 L86.59,225.91 L87.17,225.35 L87.76,225.53 L88.35,225.41 L88.94,225.61 L89.53,225.96 L90.12,226.24 L90.71,225.69 L91.30,225.34 L91.89,225.50 L92.48,225.30 L93.06,225.17 L93.65,224.86 L94.24,224.58 L94.83,224.93 L95.42,224.60 L96.01,224.40 L96.60,224.63 L97.19,224.49 L97.78,224.79 L98.37,225.11 L98.95,225.46 L99.54,225.09 L100.13,225.53 L100.72,225.93 L101.31,225.49 L101.90,225.20 L102.49,225.29 L103.08,225.01 L103.67,225.58 L104.26,225.78 L104.84,225.89 L105.43,225.84 L106.02,226.05 L106.61,226.30 L107.20,226.20 L107.79,225.58 L108.38,225.06 L108.97,224.93 L109.56,225.11 L110.15,225.46 L110.73,225.00 L111.32,225.11 L111.91,224.99 L112.50,225.59 L113.09,225.83 L113.68,225.38 L114.27,225.11 L114.86,224.83 L115.45,224.92 L116.04,225.15 L116.62,225.16 L117.21,224.90 L117.80,225.26 L118.39,225.28 L118.98,225.55 L119.57,225.26 L120.16,225.80 L120.75,225.51 L121.34,225.04 L121.93,225.64 L122.52,225.49 L123.10,225.33 L123.69,225.02 L124.28,225.07 L124.87,225.42 L125.46,225.52 L126.05,225.05 L126.64,224.77 L127.23,225.33 L127.82,225.77 L128.41,226.08 L128.99,226.36 L129.58,226.14 L130.17,226.29 L130.76,225.67 L131.35,225.45 L131.94,225.82 L132.53,225.67 L133.12,225.78 L133.71,225.69 L134.30,225.89 L134.88,226.09 L135.47,226.21 L136.06,226.10 L136.65,225.70 L137.24,225.58 L137.83,225.99 L138.42,225.62 L139.01,225.20 L139.60,225.00 L140.19,224.85 L140.77,225.52 L141.36,225.53 L141.95,225.94 L142.54,225.53 L143.13,225.83 L143.72,225.51 L144.31,225.73 L144.90,225.45 L145.49,225.64 L146.07,226.03 L146.66,225.97 L147.25,226.00 L147.84,225.44 L148.43,225.65 L149.02,225.58 L149.61,225.49 L150.20,225.04 L150.79,225.56 L151.38,225.43 L151.96,225.42 L152.55,225.20 L153.14,224.81 L153.73,225.19 L154.32,225.07 L154.91,225.16 L155.50,225.19 L156.09,225.70 L156.68,225.31 L157.27,224.88 L157.86,225.19 L158.44,225.45 L159.03,224.96 L159.62,225.50 L160.21,225.90 L160.80,226.19 L161.39,225.66 L161.98,225.34 L162.57,225.42 L163.16,225.31 L163.75,225.83 L164.33,225.57 L164.92,225.59 L165.51,225.53 L166.10,225.62 L166.69,225.66 L167.28,225.87 L167.87,226.19 L168.46,226.04 L169.05,226.11 L169.63,225.71 L170.22,225.32 L170.81,225.14 L171.40,225.27 L171.99,225.59 L172.58,225.66 L173.17,225.61 L173.76,225.43 L174.35,224.98 L174.94,225.53 L175.53,225.53 L176.11,225.51 L176.70,225.28 L177.29,224.94 L177.88,224.82 L178.47,224.88 L179.06,224.80 L179.65,224.83 L180.24,224.66 L180.83,224.70 L181.41,224.74 L182.00,225.21 L182.59,224.87 L183.18,225.15 L183.77,225.13 L184.36,224.90 L184.95,224.61 L185.54,224.38 L186.13,225.19 L186.72,225.45 L187.31,225.64 L187.89,225.69 L188.48,225.97 L189.07,225.76 L189.66,226.08 L190.25,226.09 L190.84,225.46 L191.43,225.22 L192.02,225.32 L192.61,225.75 L193.19,225.21 L193.78,225.08 L194.37,225.48 L194.96,225.63 L195.55,225.44 L196.14,225.26 L196.73,225.56 L197.32,225.08 L197.91,225.36 L198.50,225.63 L199.09,225.24 L199.67,225.64 L200.26,225.41 L200.85,225.72 L201.44,225.54 L202.03,225.73 L202.62,225.77 L203.21,225.24 L203.80,225.33 L204.39,225.43 L204.97,225.32 L205.56,225.58 L206.15,225.86 L206.74,225.85 L207.33,225.96 L207.92,226.11 L208.51,225.46 L209.10,225.92 L209.69,225.47 L210.28,225.03 L210.87,224.95 L211.45,225.58 L212.04,225.54 L212.63,225.97 L213.22,225.71 L213.81,225.43 L214.40,225.69 L214.99,226.11 L215.58,225.87 L216.17,226.14 L216.75,226.12 L217.34,225.97 L217.93,225.42 L218.52,225.56 L219.11,225.89 L219.70,225.47" stroke="#e8464e" stroke-width="1.1" fill="none" />
<circle cx="43.00" cy="225.78" r="1.25" fill="none" stroke="#e8464e" stroke-width="1.1"/>
<circle cx="47.71" cy="225.25" r="1.25" fill="none" stroke="#e8464e" stroke-width="1.1"/>
<circle cx="52.42" cy="225.97" r="1.25" fill="none" stroke="#e8464e" stroke-width="1.1"/>
<circle cx="57.14" cy="225.64" r="1.25" fill="none" stroke="#e8464e" stroke-width="1.1"/>
<circle cx="61.85" cy="225.37" r="1.25" fill="none" stroke="#e8464e" stroke-width="1.1"/>
<circle cx="66.56" cy="225.42" r="1.25" fill="none" stroke="#e8464e" stroke-width="1.1"/>
<circle cx="71.27" cy="225.38" r="1.25" fill="none" stroke="#e8464e" stroke-width="1.1"/>
<circle cx="75.98" cy="225.41" r="1.25" fill="none" stroke="#e8464e" stroke-width="1.1"/>
<circle cx="80.70" cy="225.22" r="1.25" fill="none" stroke="#e8464e" stroke-width="1.1"/>
<circle cx="85.41" cy="225.62" r="1.25" fill="none" stroke="#e8464e" stroke-width="1.1"/>
<circle cx="90.12" cy="226.24" r="1.25" fill="none" stroke="#e8464e" stroke-width="1.1"/>
<circle cx="94.83" cy="224.93" r="1.25" fill="none" stroke="#e8464e" stroke-width="1.1"/>
<circle cx="99.54" cy="225.09" r="1.25" fill="none" stroke="#e8464e" stroke-width="1.1"/>
<circle cx="104.26" cy="225.78" r="1.25" fill="none" stroke="#e8464e" stroke-width="1.1"/>
<circle cx="108.97" cy="224.93" r="1.25" fill="none" stroke="#e8464e" stroke-width="1.1"/>
<circle cx="113.68" cy="225.38" r="1.25" fill="none" stroke="#e8464e" stroke-width="1.1"/>
<circle cx="118.39" cy="225.28" r="1.25" fill="none" stroke="#e8464e" stroke-width="1.1"/>
<circle cx="123.10" cy="225.33" r="1.25" fill="none" stroke="#e8464e" stroke-width="1.1"/>
<circle cx="127.82" cy="225.77" r="1.25" fill="none" stroke="#e8464e" stroke-width="1.1"/>
<circle cx="132.53" cy="225.67" r="1.25" fill="none" stroke="#e8464e" stroke-width="1.1"/>
<circle cx="137.24" cy="225.58" r="1.25" fill="none" stroke="#e8464e" stroke-width="1.1"/>
<circle cx="141.95" cy="225.94" r="1.25" fill="none" stroke="#e8464e" stroke-width="1.1"/>
<circle cx="146.66" cy="225.97" r="1.25" fill="none" stroke="#e8464e" stroke-width="1.1"/>
<circle cx="151.38" cy="225.43" r="1.25" fill="none" stroke="#e8464e" stroke-width="1.1"/>
<circle cx="156.09" cy="225.70" r="1.25" fill="none" stroke="#e8464e" stroke-width="1.1"/>
<circle cx="160.80" cy="226.19" r="1.25" fill="none" stroke="#e8464e" stroke-width="1.1"/>
<circle cx="165.51" cy="225.53" r="1.25" fill="none" stroke="#e8464e" stroke-width="1.1"/>
<circle cx="170.22" cy="225.32" r="1.25" fill="none" stroke="#e8464e" stroke-width="1.1"/>
<circle cx="174.94" cy="225.53" r="1.25" fill="none" stroke="#e8464e" stroke-width="1.1"/>
<circle cx="179.65" cy="224.83" r="1.25" fill="none" stroke="#e8464e" stroke-width="1.1"/>
<circle cx="184.36" cy="224.90" r="1.25" fill="none" stroke="#e8464e" stroke-width="1.1"/>
<circle cx="189.07" cy="225.76" r="1.25" fill="none" stroke="#e8464e" stroke-width="1.1"/>
<circle cx="193.78" cy="225.08" r="1.25" fill="none" stroke="#e8464e" stroke-width="1.1"/>
<circle cx="198.50" cy="225.63" r="1.25" fill="none" stroke="#e8464e" stroke-width="1.1"/>
<circle cx="203.21" cy="225.24" r="1.25" fill="none" stroke="#e8464e" stroke-width="1.1"/>
<circle cx="207.92" cy="226.11" r="1.25" fill="none" stroke="#e8464e" stroke-width="1.1"/>
<circle cx="212.63" cy="225.97" r="1.25" fill="none" stroke="#e8464e" stroke-width="1.1"/>
<circle cx="217.34" cy="225.97" r="1.25" fill="none" stroke="#e8464e" stroke-width="1.1"/>
<path d="M43.00,253.29 L43.59,254.27 L44.18,255.19 L44.77,253.90 L45.36,254.62 L45.95,255.24 L46.53,254.63 L47.12,254.80 L47.71,253.85 L48.30,254.48 L48.89,253.49 L49.48,254.06 L50.07,253.90 L50.66,253.13 L51.25,253.08 L51.84,252.58 L52.42,252.65 L53.01,254.01 L53.60,253.31 L54.19,253.40 L54.78,254.01 L55.37,254.68 L55.96,253.84 L56.55,253.78 L57.14,253.04 L57.73,252.84 L58.31,252.33 L58.90,252.76 L59.49,252.80 L60.08,252.99 L60.67,253.83 L61.26,253.04 L61.85,253.76 L62.44,253.33 L63.03,252.69 L63.61,252.84 L64.20,253.96 L64.79,253.38 L65.38,253.29 L65.97,254.19 L66.56,255.08 L67.15,254.75 L67.74,255.51 L68.33,254.28 L68.92,254.24 L69.50,254.19 L70.09,254.37 L70.68,254.00 L71.27,253.23 L71.86,253.90 L72.45,254.24 L73.04,254.06 L73.63,254.50 L74.22,254.22 L74.81,254.13 L75.40,254.28 L75.98,253.91 L76.57,253.94 L77.16,254.83 L77.75,253.66 L78.34,254.10 L78.93,254.27 L79.52,254.44 L80.11,253.51 L80.70,252.82 L81.28,253.21 L81.87,253.70 L82.46,254.65 L83.05,253.73 L83.64,254.52 L84.23,254.33 L84.82,254.59 L85.41,254.81 L86.00,254.91 L86.59,255.31 L87.17,255.89 L87.76,255.31 L88.35,254.39 L88.94,254.04 L89.53,254.68 L90.12,254.15 L90.71,255.05 L91.30,254.97 L91.89,254.09 L92.48,253.28 L93.06,253.64 L93.65,253.12 L94.24,253.44 L94.83,253.62 L95.42,253.63 L96.01,252.82 L96.60,252.75 L97.19,253.24 L97.78,253.07 L98.37,253.13 L98.95,253.74 L99.54,253.31 L100.13,252.94 L100.72,253.10 L101.31,252.55 L101.90,254.00 L102.49,254.06 L103.08,253.83 L103.67,254.26 L104.26,254.89 L104.84,254.30 L105.43,254.40 L106.02,254.80 L106.61,255.52 L107.20,254.20 L107.79,254.49 L108.38,255.16 L108.97,255.43 L109.56,255.55 L110.15,254.41 L110.73,254.98 L111.32,255.19 L111.91,255.69 L112.50,255.30 L113.09,255.55 L113.68,255.45 L114.27,254.61 L114.86,253.64 L115.45,253.14 L116.04,254.38 L116.62,254.56 L117.21,253.76 L117.80,254.82 L118.39,255.22 L118.98,254.93 L119.57,254.94 L120.16,254.22 L120.75,253.78 L121.34,253.98 L121.93,254.54 L122.52,254.97 L123.10,255.20 L123.69,255.76 L124.28,254.96 L124.87,255.41 L125.46,254.27 L126.05,253.96 L126.64,254.91 L127.23,254.70 L127.82,254.34 L128.41,255.20 L128.99,254.93 L129.58,255.64 L130.17,254.68 L130.76,255.52 L131.35,254.86 L131.94,253.70 L132.53,253.16 L133.12,254.00 L133.71,253.99 L134.30,254.76 L134.88,254.91 L135.47,253.97 L136.06,253.41 L136.65,254.62 L137.24,254.73 L137.83,254.29 L138.42,254.90 L139.01,254.09 L139.60,253.34 L140.19,253.50 L140.77,253.98 L141.36,253.35 L141.95,253.58 L142.54,254.38 L143.13,254.77 L143.72,255.27 L144.31,254.28 L144.90,254.23 L145.49,253.83 L146.07,253.31 L146.66,252.64 L147.25,253.72 L147.84,254.05 L148.43,253.35 L149.02,253.08 L149.61,253.64 L150.20,253.50 L150.79,254.31 L151.38,254.95 L151.96,255.61 L152.55,255.43 L153.14,255.58 L153.73,255.13 L154.32,253.92 L154.91,254.69 L155.50,254.43 L156.09,253.63 L156.68,253.61 L157.27,253.73 L157.86,253.34 L158.44,254.54 L159.03,253.55 L159.62,253.37 L160.21,253.01 L160.80,252.72 L161.39,253.96 L161.98,254.89 L162.57,255.32 L163.16,254.97 L163.75,253.87 L164.33,253.16 L164.92,253.64 L165.51,253.56 L166.10,253.28 L166.69,253.89 L167.28,253.05 L167.87,252.51 L168.46,252.57 L169.05,252.26 L169.63,252.24 L170.22,252.53 L170.81,253.38 L171.40,254.06 L171.99,254.62 L172.58,255.37 L173.17,254.17 L173.76,254.58 L174.35,255.41 L174.94,255.41 L175.53,255.83 L176.11,255.45 L176.70,255.40 L177.29,255.69 L177.88,255.28 L178.47,255.13 L179.06,255.14 L179.65,254.23 L180.24,254.60 L180.83,254.40 L181.41,253.59 L182.00,252.86 L182.59,253.51 L183.18,254.63 L183.77,253.60 L184.36,253.75 L184.95,254.44 L185.54,255.11 L186.13,255.35 L186.72,255.38 L187.31,255.74 L187.89,256.17 L188.48,254.60 L189.07,253.84 L189.66,254.71 L190.25,254.60 L190.84,253.88 L191.43,253.96 L192.02,254.89 L192.61,255.00 L193.19,254.99 L193.78,253.93 L194.37,253.85 L194.96,254.03 L195.55,253.82 L196.14,254.83 L196.73,254.27 L197.32,253.64 L197.91,253.47 L198.50,253.96 L199.09,254.45 L199.67,255.35 L200.26,255.83 L200.85,256.02 L201.44,255.57 L202.03,254.60 L202.62,255.04 L203.21,254.84 L203.80,254.38 L204.39,254.07 L204.97,255.06 L205.56,253.96 L206.15,253.86 L206.74,254.35 L207.33,254.82 L207.92,254.26 L208.51,253.38 L209.10,253.95 L209.69,254.22 L210.28,254.10 L210.87,254.77 L211.45,254.79 L212.04,253.78 L212.63,253.79 L213.22,253.27 L213.81,254.02 L214.40,253.34 L214.99,253.04 L215.58,253.93 L216.17,253.95 L216.75,253.66 L217.34,253.68 L217.93,253.63 L218.52,254.31 L219.11,254.17 L219.70,254.47" stroke="#3434e0" stroke-width="1.1" fill="none" />
<circle cx="43.00" cy="253.29" r="1.25" fill="none" stroke="#3434e0" stroke-width="1.1"/>
<circle cx="47.71" cy="253.85" r="1.25" fill="none" stroke="#3434e0" stroke-width="1.1"/>
<circle cx="52.42" cy="252.65" r="1.25" fill="none" stroke="#3434e0" stroke-width="1.1"/>
<circle cx="57.14" cy="253.04" r="1.25" fill="none" stroke="#3434e0" stroke-width="1.1"/>
<circle cx="61.85" cy="253.76" r="1.25" fill="none" stroke="#3434e0" stroke-width="1.1"/>
<circle cx="66.56" cy="255.08" r="1.25" fill="none" stroke="#3434e0" stroke-width="1.1"/>
<circle cx="71.27" cy="253.23" r="1.25" fill="none" stroke="#3434e0" stroke-width="1.1"/>
<circle cx="75.98" cy="253.91" r="1.25" fill="none" stroke="#3434e0" stroke-width="1.1"/>
<circle cx="80.70" cy="252.82" r="1.25" fill="none" stroke="#3434e0" stroke-width="1.1"/>
<circle cx="85.41" cy="254.81" r="1.25" fill="none" stroke="#3434e0" stroke-width="1.1"/>
<circle cx="90.12" cy="254.15" r="1.25" fill="none" stroke="#3434e0" stroke-width="1.1"/>
<circle cx="94.83" cy="253.62" r="1.25" fill="none" stroke="#3434e0" stroke-width="1.1"/>
<circle cx="99.54" cy="253.31" r="1.25" fill="none" stroke="#3434e0" stroke-width="1.1"/>
<circle cx="104.26" cy="254.89" r="1.25" fill="none" stroke="#3434e0" stroke-width="1.1"/>
<circle cx="108.97" cy="255.43" r="1.25" fill="none" stroke="#3434e0" stroke-width="1.1"/>
<circle cx="113.68" cy="255.45" r="1.25" fill="none" stroke="#3434e0" stroke-width="1.1"/>
<circle cx="118.39" cy="255.22" r="1.25" fill="none" stroke="#3434e0" stroke-width="1.1"/>
<circle cx="123.10" cy="255.20" r="1.25" fill="none" stroke="#3434e0" stroke-width="1.1"/>
<circle cx="127.82" cy="254.34" r="1.25" fill="none" stroke="#3434e0" stroke-width="1.1"/>
<circle cx="132.53" cy="253.16" r="1.25" fill="none" stroke="#3434e0" stroke-width="1.1"/>
<circle cx="137.24" cy="254.73" r="1.25" fill="none" stroke="#3434e0" stroke-width="1.1"/>
<circle cx="141.95" cy="253.58" r="1.25" fill="none" stroke="#3434e0" stroke-width="1.1"/>
<circle cx="146.66" cy="252.64" r="1.25" fill="none" stroke="#3434e0" stroke-width="1.1"/>
<circle cx="151.38" cy="254.95" r="1.25" fill="none" stroke="#3434e0" stroke-width="1.1"/>
<circle cx="156.09" cy="253.63" r="1.25" fill="none" stroke="#3434e0" stroke-width="1.1"/>
<circle cx="160.80" cy="252.72" r="1.25" fill="none" stroke="#3434e0" stroke-width="1.1"/>
<circle cx="165.51" cy="253.56" r="1.25" fill="none" stroke="#3434e0" stroke-width="1.1"/>
<circle cx="170.22" cy="252.53" r="1.25" fill="none" stroke="#3434e0" stroke-width="1.1"/>
<circle cx="174.94" cy="255.41" r="1.25" fill="none" stroke="#3434e0" stroke-width="1.1"/>
<circle cx="179.65" cy="254.23" r="1.25" fill="none" stroke="#3434e0" stroke-width="1.1"/>
<circle cx="184.36" cy="253.75" r="1.25" fill="none" stroke="#3434e0" stroke-width="1.1"/>
<circle cx="189.07" cy="253.84" r="1.25" fill="none" stroke="#3434e0" stroke-width="1.1"/>
<circle cx="193.78" cy="253.93" r="1.25" fill="none" stroke="#3434e0" stroke-width="1.1"/>
<circle cx="198.50" cy="253.96" r="1.25" fill="none" stroke="#3434e0" stroke-width="1.1"/>
<circle cx="203.21" cy="254.84" r="1.25" fill="none" stroke="#3434e0" stroke-width="1.1"/>
<circle cx="207.92" cy="254.26" r="1.25" fill="none" stroke="#3434e0" stroke-width="1.1"/>
<circle cx="212.63" cy="253.79" r="1.25" fill="none" stroke="#3434e0" stroke-width="1.1"/>
<circle cx="217.34" cy="253.68" r="1.25" fill="none" stroke="#3434e0" stroke-width="1.1"/>
<line x1="52" y1="296.8" x2="73" y2="296.8" stroke="#2f2fd6" stroke-width="1" />
<circle cx="62.5" cy="296.8" r="1.6" fill="#2f2fd6"/>
<text transform="translate(75.3,300.6) scale(1,1.08)" font-size="10.6" text-anchor="start" fill="#2f2fd6" stroke="#2f2fd6" font-weight="normal" >Control 22.7% @1.12 V</text>
<line x1="52" y1="310.8" x2="73" y2="310.8" stroke="#e0353b" stroke-width="1" />
<circle cx="62.5" cy="310.8" r="1.6" fill="#e0353b"/>
<text transform="translate(78.8,314.6) scale(1,1.08)" font-size="10.6" text-anchor="start" fill="#e0353b" stroke="#e0353b" font-weight="normal" >Target 24.7% @1.18 V</text>
<rect x="275" y="17.5" width="178.3" height="339.7" fill="none" stroke="#555" stroke-width="1" />
<line x1="275" y1="102.3" x2="453.3" y2="102.3" stroke="#555" stroke-width="1" />
<line x1="275" y1="187.1" x2="453.3" y2="187.1" stroke="#555" stroke-width="1" />
<line x1="275" y1="272.3" x2="453.3" y2="272.3" stroke="#555" stroke-width="1" />
<line x1="319.5" y1="102.3" x2="319.5" y2="105.3" stroke="#555" stroke-width="1" />
<line x1="408.4" y1="102.3" x2="408.4" y2="105.3" stroke="#555" stroke-width="1" />
<line x1="319.5" y1="187.1" x2="319.5" y2="190.1" stroke="#555" stroke-width="1" />
<line x1="408.4" y1="187.1" x2="408.4" y2="190.1" stroke="#555" stroke-width="1" />
<line x1="319.5" y1="272.3" x2="319.5" y2="275.3" stroke="#555" stroke-width="1" />
<line x1="408.4" y1="272.3" x2="408.4" y2="275.3" stroke="#555" stroke-width="1" />
<line x1="319.5" y1="357.2" x2="319.5" y2="360.2" stroke="#555" stroke-width="1" />
<line x1="408.4" y1="357.2" x2="408.4" y2="360.2" stroke="#555" stroke-width="1" />
<line x1="272" y1="85.18" x2="275" y2="85.18" stroke="#555" stroke-width="1" />
<text transform="translate(269.4,88.78) scale(1,1.06)" font-size="10.1" text-anchor="end" fill="#1a1a1a" stroke="#1a1a1a" font-weight="normal" >80</text>
<line x1="272" y1="68.26" x2="275" y2="68.26" stroke="#555" stroke-width="1" />
<text transform="translate(269.4,71.86) scale(1,1.06)" font-size="10.1" text-anchor="end" fill="#1a1a1a" stroke="#1a1a1a" font-weight="normal" >82</text>
<line x1="272" y1="51.34" x2="275" y2="51.34" stroke="#555" stroke-width="1" />
<text transform="translate(269.4,54.94) scale(1,1.06)" font-size="10.1" text-anchor="end" fill="#1a1a1a" stroke="#1a1a1a" font-weight="normal" >84</text>
<line x1="272" y1="34.42" x2="275" y2="34.42" stroke="#555" stroke-width="1" />
<text transform="translate(269.4,38.02) scale(1,1.06)" font-size="10.1" text-anchor="end" fill="#1a1a1a" stroke="#1a1a1a" font-weight="normal" >86</text>
<line x1="272" y1="17.5" x2="275" y2="17.5" stroke="#555" stroke-width="1" />
<text transform="translate(269.4,21.1) scale(1,1.06)" font-size="10.1" text-anchor="end" fill="#1a1a1a" stroke="#1a1a1a" font-weight="normal" >88</text>
<line x1="273.4" y1="93.64" x2="275" y2="93.64" stroke="#555" stroke-width="1" />
<line x1="273.4" y1="76.72" x2="275" y2="76.72" stroke="#555" stroke-width="1" />
<line x1="273.4" y1="59.8" x2="275" y2="59.8" stroke="#555" stroke-width="1" />
<line x1="273.4" y1="42.88" x2="275" y2="42.88" stroke="#555" stroke-width="1" />
<line x1="273.4" y1="25.96" x2="275" y2="25.96" stroke="#555" stroke-width="1" />
<rect x="291" y="59.5" width="20.6" height="14.1" fill="none" stroke="#5555e4" stroke-width="0.8" />
<line x1="291" y1="65.2" x2="311.6" y2="65.2" stroke="#5555e4" stroke-width="0.8" />
<line x1="301.3" y1="50.6" x2="301.3" y2="59.5" stroke="#5555e4" stroke-width="0.8" />
<line x1="301.3" y1="73.6" x2="301.3" y2="87.5" stroke="#5555e4" stroke-width="0.8" />
<line x1="296" y1="50.6" x2="306.6" y2="50.6" stroke="#5555e4" stroke-width="0.8" />
<line x1="296" y1="87.5" x2="306.6" y2="87.5" stroke="#5555e4" stroke-width="0.8" />
<circle cx="301.30" cy="67.05" r="1.1" fill="none" stroke="#5555e4" stroke-width="0.5"/>
<path d="M320.18,34.80 L320.24,35.88 L320.32,36.96 L320.42,38.03 L320.55,39.11 L320.72,40.19 L320.92,41.27 L321.17,42.35 L321.46,43.43 L321.82,44.50 L322.24,45.58 L322.74,46.66 L323.30,47.74 L323.95,48.82 L324.67,49.90 L325.47,50.97 L326.34,52.05 L327.29,53.13 L328.28,54.21 L329.32,55.29 L330.39,56.37 L331.46,57.44 L332.52,58.52 L333.54,59.60 L334.49,60.68 L335.36,61.76 L336.12,62.84 L336.75,63.91 L337.23,64.99 L337.55,66.07 L337.69,67.15 L337.66,68.23 L337.45,69.31 L337.08,70.38 L336.54,71.46 L335.87,72.54 L335.07,73.62 L334.16,74.70 L333.18,75.78 L332.15,76.85 L331.08,77.93 L330.01,79.01 L328.95,80.09 L327.93,81.17 L326.95,82.25 L326.03,83.32 L325.18,84.40 L324.41,85.48 L323.71,86.56 L323.09,87.64 L322.55,88.72 L322.09,89.80 L321.69,90.87 L321.35,91.95 L321.07,93.03 L320.84,94.11 L320.66,95.19 L320.50,96.27 L320.38,97.34 L320.29,98.42 L320.22,99.50" stroke="#3a3ae2" stroke-width="0.75" fill="none" />
<rect x="318.80" y="49.40" width="2" height="2" fill="#3a3ae2"/>
<rect x="318.80" y="97.90" width="2" height="2" fill="#3a3ae2"/>
<rect x="324.68" y="71.10" width="2" height="2" fill="#3a3ae2"/>
<rect x="324.23" y="83.55" width="2" height="2" fill="#3a3ae2"/>
<rect x="318.73" y="67.28" width="2" height="2" fill="#3a3ae2"/>
<rect x="333.30" y="67.26" width="2" height="2" fill="#3a3ae2"/>
<rect x="335.66" y="69.61" width="2" height="2" fill="#3a3ae2"/>
<rect x="324.50" y="77.94" width="2" height="2" fill="#3a3ae2"/>
<rect x="327.28" y="76.41" width="2" height="2" fill="#3a3ae2"/>
<rect x="320.84" y="59.58" width="2" height="2" fill="#3a3ae2"/>
<rect x="325.39" y="55.72" width="2" height="2" fill="#3a3ae2"/>
<rect x="327.36" y="53.82" width="2" height="2" fill="#3a3ae2"/>
<rect x="331.81" y="68.22" width="2" height="2" fill="#3a3ae2"/>
<rect x="328.96" y="66.62" width="2" height="2" fill="#3a3ae2"/>
<rect x="333.51" y="69.22" width="2" height="2" fill="#3a3ae2"/>
<rect x="326.05" y="72.64" width="2" height="2" fill="#3a3ae2"/>
<rect x="331.12" y="65.77" width="2" height="2" fill="#3a3ae2"/>
<rect x="327.88" y="79.58" width="2" height="2" fill="#3a3ae2"/>
<rect x="326.32" y="64.94" width="2" height="2" fill="#3a3ae2"/>
<rect x="319.20" y="90.43" width="2" height="2" fill="#3a3ae2"/>
<rect x="320.74" y="61.36" width="2" height="2" fill="#3a3ae2"/>
<rect x="324.65" y="75.83" width="2" height="2" fill="#3a3ae2"/>
<rect x="322.50" y="97.44" width="2" height="2" fill="#3a3ae2"/>
<rect x="325.33" y="66.03" width="2" height="2" fill="#3a3ae2"/>
<rect x="322.06" y="82.24" width="2" height="2" fill="#3a3ae2"/>
<rect x="331.61" y="57.79" width="2" height="2" fill="#3a3ae2"/>
<rect x="330.12" y="62.80" width="2" height="2" fill="#3a3ae2"/>
<rect x="325.88" y="89.23" width="2" height="2" fill="#3a3ae2"/>
<rect x="329.41" y="60.91" width="2" height="2" fill="#3a3ae2"/>
<rect x="328.87" y="81.19" width="2" height="2" fill="#3a3ae2"/>
<rect x="325.44" y="88.36" width="2" height="2" fill="#3a3ae2"/>
<rect x="321.13" y="54.61" width="2" height="2" fill="#3a3ae2"/>
<rect x="332.70" y="62.90" width="2" height="2" fill="#3a3ae2"/>
<rect x="319.57" y="62.17" width="2" height="2" fill="#3a3ae2"/>
<rect x="333.61" y="66.14" width="2" height="2" fill="#3a3ae2"/>
<rect x="330.36" y="74.71" width="2" height="2" fill="#3a3ae2"/>
<rect x="325.55" y="69.78" width="2" height="2" fill="#3a3ae2"/>
<rect x="329.59" y="75.32" width="2" height="2" fill="#3a3ae2"/>
<rect x="329.95" y="77.37" width="2" height="2" fill="#3a3ae2"/>
<rect x="318.91" y="84.39" width="2" height="2" fill="#3a3ae2"/>
<rect x="329.38" y="74.15" width="2" height="2" fill="#3a3ae2"/>
<rect x="333.57" y="59.25" width="2" height="2" fill="#3a3ae2"/>
<rect x="322.23" y="89.49" width="2" height="2" fill="#3a3ae2"/>
<rect x="319.41" y="79.35" width="2" height="2" fill="#3a3ae2"/>
<rect x="328.76" y="69.99" width="2" height="2" fill="#3a3ae2"/>
<rect x="323.93" y="77.08" width="2" height="2" fill="#3a3ae2"/>
<rect x="328.60" y="71.47" width="2" height="2" fill="#3a3ae2"/>
<rect x="332.71" y="71.84" width="2" height="2" fill="#3a3ae2"/>
<rect x="323.50" y="72.71" width="2" height="2" fill="#3a3ae2"/>
<rect x="321.09" y="92.27" width="2" height="2" fill="#3a3ae2"/>
<rect x="326.53" y="64.18" width="2" height="2" fill="#3a3ae2"/>
<rect x="325.96" y="54.71" width="2" height="2" fill="#3a3ae2"/>
<rect x="328.33" y="68.13" width="2" height="2" fill="#3a3ae2"/>
<rect x="323.83" y="51.42" width="2" height="2" fill="#3a3ae2"/>
<rect x="323.31" y="52.53" width="2" height="2" fill="#3a3ae2"/>
<rect x="323.76" y="68.60" width="2" height="2" fill="#3a3ae2"/>
<rect x="334.98" y="62.27" width="2" height="2" fill="#3a3ae2"/>
<rect x="318.66" y="56.60" width="2" height="2" fill="#3a3ae2"/>
<rect x="325.78" y="68.28" width="2" height="2" fill="#3a3ae2"/>
<rect x="329.31" y="68.17" width="2" height="2" fill="#3a3ae2"/>
<rect x="329.49" y="69.03" width="2" height="2" fill="#3a3ae2"/>
<rect x="322.79" y="84.15" width="2" height="2" fill="#3a3ae2"/>
<rect x="328.16" y="75.66" width="2" height="2" fill="#3a3ae2"/>
<rect x="330.12" y="59.93" width="2" height="2" fill="#3a3ae2"/>
<rect x="318.71" y="83.57" width="2" height="2" fill="#3a3ae2"/>
<rect x="326.97" y="85.10" width="2" height="2" fill="#3a3ae2"/>
<rect x="322.00" y="76.09" width="2" height="2" fill="#3a3ae2"/>
<rect x="322.81" y="56.17" width="2" height="2" fill="#3a3ae2"/>
<rect x="324.04" y="73.99" width="2" height="2" fill="#3a3ae2"/>
<rect x="329.04" y="66.11" width="2" height="2" fill="#3a3ae2"/>
<rect x="380.2" y="36.1" width="20.6" height="5.7" fill="none" stroke="#e9575c" stroke-width="0.8" />
<line x1="380.2" y1="39" x2="400.8" y2="39" stroke="#e9575c" stroke-width="0.8" />
<line x1="390.5" y1="31" x2="390.5" y2="36.1" stroke="#e9575c" stroke-width="0.8" />
<line x1="390.5" y1="41.8" x2="390.5" y2="49.4" stroke="#e9575c" stroke-width="0.8" />
<line x1="385.2" y1="31" x2="395.8" y2="31" stroke="#e9575c" stroke-width="0.8" />
<line x1="385.2" y1="49.4" x2="395.8" y2="49.4" stroke="#e9575c" stroke-width="0.8" />
<circle cx="390.50" cy="39.45" r="1.1" fill="none" stroke="#e9575c" stroke-width="0.5"/>
<path d="M409.17,25.70 L409.26,26.18 L409.37,26.65 L409.52,27.12 L409.70,27.60 L409.92,28.07 L410.19,28.55 L410.52,29.02 L410.91,29.50 L411.36,29.98 L411.90,30.45 L412.51,30.93 L413.20,31.40 L413.97,31.88 L414.83,32.35 L415.75,32.83 L416.75,33.30 L417.80,33.77 L418.89,34.25 L420.00,34.73 L421.11,35.20 L422.20,35.67 L423.25,36.15 L424.22,36.62 L425.10,37.10 L425.85,37.58 L426.46,38.05 L426.92,38.52 L427.20,39.00 L427.30,39.48 L427.22,39.95 L426.95,40.42 L426.52,40.90 L425.92,41.38 L425.18,41.85 L424.32,42.33 L423.35,42.80 L422.32,43.28 L421.23,43.75 L420.12,44.23 L419.01,44.70 L417.91,45.18 L416.86,45.65 L415.86,46.12 L414.92,46.60 L414.06,47.08 L413.28,47.55 L412.58,48.03 L411.96,48.50 L411.42,48.98 L410.95,49.45 L410.56,49.93 L410.22,50.40 L409.95,50.88 L409.72,51.35 L409.54,51.83 L409.39,52.30 L409.27,52.78 L409.18,53.25 L409.11,53.73 L409.05,54.20" stroke="#e8393f" stroke-width="0.75" fill="none" />
<rect x="407.70" y="25.50" width="2" height="2" fill="#e8393f"/>
<rect x="407.70" y="52.50" width="2" height="2" fill="#e8393f"/>
<rect x="414.66" y="39.00" width="2" height="2" fill="#e8393f"/>
<rect x="409.91" y="41.54" width="2" height="2" fill="#e8393f"/>
<rect x="418.51" y="44.31" width="2" height="2" fill="#e8393f"/>
<rect x="420.68" y="41.22" width="2" height="2" fill="#e8393f"/>
<rect x="417.21" y="39.15" width="2" height="2" fill="#e8393f"/>
<rect x="411.51" y="34.52" width="2" height="2" fill="#e8393f"/>
<rect x="411.21" y="40.08" width="2" height="2" fill="#e8393f"/>
<rect x="422.74" y="41.26" width="2" height="2" fill="#e8393f"/>
<rect x="417.54" y="43.93" width="2" height="2" fill="#e8393f"/>
<rect x="408.98" y="29.18" width="2" height="2" fill="#e8393f"/>
<rect x="419.43" y="35.66" width="2" height="2" fill="#e8393f"/>
<rect x="415.30" y="46.59" width="2" height="2" fill="#e8393f"/>
<rect x="417.86" y="40.61" width="2" height="2" fill="#e8393f"/>
<rect x="419.37" y="37.00" width="2" height="2" fill="#e8393f"/>
<rect x="414.77" y="35.00" width="2" height="2" fill="#e8393f"/>
<rect x="409.04" y="38.61" width="2" height="2" fill="#e8393f"/>
<rect x="411.32" y="49.77" width="2" height="2" fill="#e8393f"/>
<rect x="411.60" y="33.95" width="2" height="2" fill="#e8393f"/>
<rect x="416.84" y="45.32" width="2" height="2" fill="#e8393f"/>
<rect x="419.99" y="34.51" width="2" height="2" fill="#e8393f"/>
<rect x="414.53" y="32.56" width="2" height="2" fill="#e8393f"/>
<rect x="415.33" y="38.42" width="2" height="2" fill="#e8393f"/>
<rect x="420.64" y="41.46" width="2" height="2" fill="#e8393f"/>
<rect x="408.00" y="43.10" width="2" height="2" fill="#e8393f"/>
<rect x="409.93" y="46.81" width="2" height="2" fill="#e8393f"/>
<rect x="416.31" y="41.17" width="2" height="2" fill="#e8393f"/>
<rect x="420.44" y="33.34" width="2" height="2" fill="#e8393f"/>
<rect x="410.92" y="39.74" width="2" height="2" fill="#e8393f"/>
<rect x="417.51" y="35.30" width="2" height="2" fill="#e8393f"/>
<rect x="412.10" y="40.85" width="2" height="2" fill="#e8393f"/>
<rect x="411.24" y="32.61" width="2" height="2" fill="#e8393f"/>
<rect x="412.57" y="46.58" width="2" height="2" fill="#e8393f"/>
<rect x="408.44" y="41.03" width="2" height="2" fill="#e8393f"/>
<rect x="411.51" y="37.18" width="2" height="2" fill="#e8393f"/>
<rect x="411.70" y="39.54" width="2" height="2" fill="#e8393f"/>
<rect x="410.49" y="30.49" width="2" height="2" fill="#e8393f"/>
<rect x="408.09" y="41.67" width="2" height="2" fill="#e8393f"/>
<rect x="415.43" y="44.72" width="2" height="2" fill="#e8393f"/>
<rect x="412.48" y="50.60" width="2" height="2" fill="#e8393f"/>
<rect x="415.62" y="29.67" width="2" height="2" fill="#e8393f"/>
<rect x="420.01" y="43.67" width="2" height="2" fill="#e8393f"/>
<rect x="421.53" y="39.32" width="2" height="2" fill="#e8393f"/>
<rect x="411.72" y="26.59" width="2" height="2" fill="#e8393f"/>
<rect x="415.10" y="46.42" width="2" height="2" fill="#e8393f"/>
<rect x="415.50" y="37.70" width="2" height="2" fill="#e8393f"/>
<rect x="409.42" y="42.52" width="2" height="2" fill="#e8393f"/>
<rect x="409.80" y="27.47" width="2" height="2" fill="#e8393f"/>
<rect x="407.47" y="49.13" width="2" height="2" fill="#e8393f"/>
<rect x="419.30" y="42.26" width="2" height="2" fill="#e8393f"/>
<rect x="413.92" y="39.77" width="2" height="2" fill="#e8393f"/>
<rect x="425.42" y="38.07" width="2" height="2" fill="#e8393f"/>
<rect x="414.35" y="41.38" width="2" height="2" fill="#e8393f"/>
<rect x="408.41" y="39.30" width="2" height="2" fill="#e8393f"/>
<rect x="410.28" y="40.78" width="2" height="2" fill="#e8393f"/>
<rect x="408.14" y="37.23" width="2" height="2" fill="#e8393f"/>
<rect x="415.49" y="35.69" width="2" height="2" fill="#e8393f"/>
<rect x="409.65" y="38.87" width="2" height="2" fill="#e8393f"/>
<rect x="410.59" y="28.58" width="2" height="2" fill="#e8393f"/>
<rect x="424.89" y="36.86" width="2" height="2" fill="#e8393f"/>
<rect x="413.38" y="34.33" width="2" height="2" fill="#e8393f"/>
<rect x="408.07" y="39.37" width="2" height="2" fill="#e8393f"/>
<rect x="420.93" y="34.76" width="2" height="2" fill="#e8393f"/>
<rect x="421.50" y="40.90" width="2" height="2" fill="#e8393f"/>
<rect x="411.97" y="37.23" width="2" height="2" fill="#e8393f"/>
<rect x="411.86" y="38.76" width="2" height="2" fill="#e8393f"/>
<rect x="422.97" y="39.88" width="2" height="2" fill="#e8393f"/>
<rect x="409.40" y="42.95" width="2" height="2" fill="#e8393f"/>
<rect x="411.17" y="51.81" width="2" height="2" fill="#e8393f"/>
<text transform="translate(249.5,61) rotate(-90) scale(1,1.15)" font-size="11.7" text-anchor="middle" fill="#1a1a1a" stroke="#1a1a1a">FF (%)</text>
<line x1="272" y1="158.4" x2="275" y2="158.4" stroke="#555" stroke-width="1" />
<text transform="translate(269.4,162) scale(1,1.06)" font-size="10.1" text-anchor="end" fill="#1a1a1a" stroke="#1a1a1a" font-weight="normal" >21</text>
<line x1="272" y1="128.8" x2="275" y2="128.8" stroke="#555" stroke-width="1" />
<text transform="translate(269.4,132.4) scale(1,1.06)" font-size="10.1" text-anchor="end" fill="#1a1a1a" stroke="#1a1a1a" font-weight="normal" >22</text>
<line x1="273.4" y1="173.2" x2="275" y2="173.2" stroke="#555" stroke-width="1" />
<line x1="273.4" y1="143.6" x2="275" y2="143.6" stroke="#555" stroke-width="1" />
<line x1="273.4" y1="114" x2="275" y2="114" stroke="#555" stroke-width="1" />
<rect x="291" y="139.5" width="20.6" height="15.9" fill="none" stroke="#5555e4" stroke-width="0.8" />
<line x1="291" y1="147" x2="311.6" y2="147" stroke="#5555e4" stroke-width="0.8" />
<line x1="301.3" y1="127.2" x2="301.3" y2="139.5" stroke="#5555e4" stroke-width="0.8" />
<line x1="301.3" y1="155.4" x2="301.3" y2="174.4" stroke="#5555e4" stroke-width="0.8" />
<line x1="296" y1="127.2" x2="306.6" y2="127.2" stroke="#5555e4" stroke-width="0.8" />
<line x1="296" y1="174.4" x2="306.6" y2="174.4" stroke="#5555e4" stroke-width="0.8" />
<circle cx="301.30" cy="147.95" r="1.1" fill="none" stroke="#5555e4" stroke-width="0.5"/>
<path d="M320.20,116.90 L320.26,117.90 L320.35,118.90 L320.46,119.91 L320.60,120.91 L320.78,121.91 L321.00,122.91 L321.26,123.91 L321.58,124.91 L321.96,125.92 L322.41,126.92 L322.93,127.92 L323.53,128.92 L324.21,129.92 L324.96,130.92 L325.80,131.93 L326.71,132.93 L327.68,133.93 L328.71,134.93 L329.78,135.93 L330.86,136.93 L331.95,137.94 L333.02,138.94 L334.04,139.94 L334.99,140.94 L335.85,141.94 L336.58,142.94 L337.18,143.94 L337.63,144.95 L337.90,145.95 L338.00,146.95 L337.92,147.95 L337.66,148.95 L337.23,149.95 L336.65,150.96 L335.92,151.96 L335.08,152.96 L334.14,153.96 L333.12,154.96 L332.06,155.97 L330.97,156.97 L329.88,157.97 L328.81,158.97 L327.78,159.97 L326.80,160.97 L325.89,161.97 L325.04,162.98 L324.28,163.98 L323.59,164.98 L322.99,165.98 L322.46,166.98 L322.01,167.99 L321.62,168.99 L321.29,169.99 L321.02,170.99 L320.80,171.99 L320.62,172.99 L320.48,174.00 L320.36,175.00 L320.27,176.00 L320.20,177.00" stroke="#3a3ae2" stroke-width="0.75" fill="none" />
<rect x="318.80" y="123.00" width="2" height="2" fill="#3a3ae2"/>
<rect x="318.80" y="173.70" width="2" height="2" fill="#3a3ae2"/>
<rect x="327.99" y="133.89" width="2" height="2" fill="#3a3ae2"/>
<rect x="329.97" y="134.24" width="2" height="2" fill="#3a3ae2"/>
<rect x="319.02" y="145.56" width="2" height="2" fill="#3a3ae2"/>
<rect x="328.55" y="152.96" width="2" height="2" fill="#3a3ae2"/>
<rect x="326.13" y="151.66" width="2" height="2" fill="#3a3ae2"/>
<rect x="322.88" y="143.95" width="2" height="2" fill="#3a3ae2"/>
<rect x="318.65" y="133.01" width="2" height="2" fill="#3a3ae2"/>
<rect x="322.30" y="143.18" width="2" height="2" fill="#3a3ae2"/>
<rect x="331.77" y="142.55" width="2" height="2" fill="#3a3ae2"/>
<rect x="319.57" y="171.84" width="2" height="2" fill="#3a3ae2"/>
<rect x="329.30" y="148.97" width="2" height="2" fill="#3a3ae2"/>
<rect x="320.63" y="141.28" width="2" height="2" fill="#3a3ae2"/>
<rect x="319.96" y="169.99" width="2" height="2" fill="#3a3ae2"/>
<rect x="322.35" y="147.43" width="2" height="2" fill="#3a3ae2"/>
<rect x="320.52" y="169.90" width="2" height="2" fill="#3a3ae2"/>
<rect x="335.71" y="144.65" width="2" height="2" fill="#3a3ae2"/>
<rect x="320.54" y="130.73" width="2" height="2" fill="#3a3ae2"/>
<rect x="334.97" y="143.04" width="2" height="2" fill="#3a3ae2"/>
<rect x="330.78" y="136.47" width="2" height="2" fill="#3a3ae2"/>
<rect x="321.45" y="143.96" width="2" height="2" fill="#3a3ae2"/>
<rect x="320.32" y="157.34" width="2" height="2" fill="#3a3ae2"/>
<rect x="326.62" y="155.93" width="2" height="2" fill="#3a3ae2"/>
<rect x="318.56" y="150.97" width="2" height="2" fill="#3a3ae2"/>
<rect x="323.89" y="142.70" width="2" height="2" fill="#3a3ae2"/>
<rect x="330.60" y="137.97" width="2" height="2" fill="#3a3ae2"/>
<rect x="325.44" y="137.43" width="2" height="2" fill="#3a3ae2"/>
<rect x="330.96" y="148.36" width="2" height="2" fill="#3a3ae2"/>
<rect x="318.78" y="157.91" width="2" height="2" fill="#3a3ae2"/>
<rect x="318.82" y="147.15" width="2" height="2" fill="#3a3ae2"/>
<rect x="324.58" y="125.42" width="2" height="2" fill="#3a3ae2"/>
<rect x="318.63" y="137.30" width="2" height="2" fill="#3a3ae2"/>
<rect x="319.05" y="158.21" width="2" height="2" fill="#3a3ae2"/>
<rect x="320.73" y="158.98" width="2" height="2" fill="#3a3ae2"/>
<rect x="323.52" y="172.65" width="2" height="2" fill="#3a3ae2"/>
<rect x="320.83" y="171.48" width="2" height="2" fill="#3a3ae2"/>
<rect x="323.18" y="135.67" width="2" height="2" fill="#3a3ae2"/>
<rect x="319.43" y="127.93" width="2" height="2" fill="#3a3ae2"/>
<rect x="331.83" y="144.16" width="2" height="2" fill="#3a3ae2"/>
<rect x="319.05" y="153.70" width="2" height="2" fill="#3a3ae2"/>
<rect x="325.91" y="125.82" width="2" height="2" fill="#3a3ae2"/>
<rect x="326.77" y="155.82" width="2" height="2" fill="#3a3ae2"/>
<rect x="332.84" y="152.75" width="2" height="2" fill="#3a3ae2"/>
<rect x="324.85" y="133.47" width="2" height="2" fill="#3a3ae2"/>
<rect x="320.74" y="168.79" width="2" height="2" fill="#3a3ae2"/>
<rect x="319.89" y="144.31" width="2" height="2" fill="#3a3ae2"/>
<rect x="320.74" y="153.61" width="2" height="2" fill="#3a3ae2"/>
<rect x="320.33" y="132.96" width="2" height="2" fill="#3a3ae2"/>
<rect x="325.23" y="157.12" width="2" height="2" fill="#3a3ae2"/>
<rect x="328.15" y="140.29" width="2" height="2" fill="#3a3ae2"/>
<rect x="331.88" y="151.80" width="2" height="2" fill="#3a3ae2"/>
<rect x="319.24" y="135.84" width="2" height="2" fill="#3a3ae2"/>
<rect x="334.00" y="150.42" width="2" height="2" fill="#3a3ae2"/>
<rect x="327.45" y="160.04" width="2" height="2" fill="#3a3ae2"/>
<rect x="320.74" y="149.86" width="2" height="2" fill="#3a3ae2"/>
<rect x="329.70" y="144.01" width="2" height="2" fill="#3a3ae2"/>
<rect x="326.17" y="148.44" width="2" height="2" fill="#3a3ae2"/>
<rect x="321.05" y="141.98" width="2" height="2" fill="#3a3ae2"/>
<rect x="325.66" y="152.46" width="2" height="2" fill="#3a3ae2"/>
<rect x="334.19" y="139.38" width="2" height="2" fill="#3a3ae2"/>
<rect x="322.14" y="165.61" width="2" height="2" fill="#3a3ae2"/>
<rect x="322.85" y="129.01" width="2" height="2" fill="#3a3ae2"/>
<rect x="323.63" y="148.53" width="2" height="2" fill="#3a3ae2"/>
<rect x="324.94" y="141.96" width="2" height="2" fill="#3a3ae2"/>
<rect x="335.05" y="150.78" width="2" height="2" fill="#3a3ae2"/>
<rect x="323.15" y="162.50" width="2" height="2" fill="#3a3ae2"/>
<rect x="324.44" y="143.22" width="2" height="2" fill="#3a3ae2"/>
<rect x="329.65" y="154.79" width="2" height="2" fill="#3a3ae2"/>
<rect x="332.47" y="151.95" width="2" height="2" fill="#3a3ae2"/>
<rect x="380.2" y="131.4" width="20.6" height="16.2" fill="none" stroke="#e9575c" stroke-width="0.8" />
<line x1="380.2" y1="137.4" x2="400.8" y2="137.4" stroke="#e9575c" stroke-width="0.8" />
<line x1="390.5" y1="121.8" x2="390.5" y2="131.4" stroke="#e9575c" stroke-width="0.8" />
<line x1="390.5" y1="147.6" x2="390.5" y2="162.4" stroke="#e9575c" stroke-width="0.8" />
<line x1="385.2" y1="121.8" x2="395.8" y2="121.8" stroke="#e9575c" stroke-width="0.8" />
<line x1="385.2" y1="162.4" x2="395.8" y2="162.4" stroke="#e9575c" stroke-width="0.8" />
<circle cx="390.50" cy="140.00" r="1.1" fill="none" stroke="#e9575c" stroke-width="0.5"/>
<path d="M409.92,116.90 L410.18,117.86 L410.51,118.83 L410.89,119.79 L411.35,120.75 L411.87,121.72 L412.48,122.68 L413.16,123.64 L413.92,124.61 L414.76,125.57 L415.68,126.53 L416.65,127.50 L417.68,128.46 L418.75,129.42 L419.84,130.39 L420.93,131.35 L421.99,132.31 L423.01,133.28 L423.95,134.24 L424.80,135.20 L425.53,136.17 L426.12,137.13 L426.55,138.09 L426.81,139.06 L426.90,140.02 L426.81,140.98 L426.54,141.95 L426.10,142.91 L425.50,143.87 L424.77,144.84 L423.92,145.80 L422.97,146.76 L421.95,147.73 L420.88,148.69 L419.79,149.65 L418.71,150.62 L417.64,151.58 L416.61,152.54 L415.64,153.51 L414.73,154.47 L413.89,155.43 L413.13,156.40 L412.45,157.36 L411.85,158.32 L411.33,159.29 L410.88,160.25 L410.49,161.21 L410.17,162.18 L409.91,163.14 L409.69,164.10 L409.51,165.07 L409.37,166.03 L409.26,166.99 L409.17,167.96 L409.10,168.92 L409.05,169.88 L409.01,170.85 L408.98,171.81 L408.96,172.77 L408.94,173.74 L408.93,174.70" stroke="#e8393f" stroke-width="0.75" fill="none" />
<rect x="407.70" y="121.00" width="2" height="2" fill="#e8393f"/>
<rect x="407.70" y="169.00" width="2" height="2" fill="#e8393f"/>
<rect x="414.36" y="147.33" width="2" height="2" fill="#e8393f"/>
<rect x="409.81" y="122.91" width="2" height="2" fill="#e8393f"/>
<rect x="411.19" y="157.73" width="2" height="2" fill="#e8393f"/>
<rect x="420.64" y="142.04" width="2" height="2" fill="#e8393f"/>
<rect x="411.02" y="129.22" width="2" height="2" fill="#e8393f"/>
<rect x="414.78" y="155.08" width="2" height="2" fill="#e8393f"/>
<rect x="417.00" y="140.61" width="2" height="2" fill="#e8393f"/>
<rect x="417.38" y="131.06" width="2" height="2" fill="#e8393f"/>
<rect x="419.29" y="146.75" width="2" height="2" fill="#e8393f"/>
<rect x="409.90" y="154.69" width="2" height="2" fill="#e8393f"/>
<rect x="419.51" y="147.34" width="2" height="2" fill="#e8393f"/>
<rect x="411.25" y="126.68" width="2" height="2" fill="#e8393f"/>
<rect x="413.83" y="157.96" width="2" height="2" fill="#e8393f"/>
<rect x="412.13" y="152.58" width="2" height="2" fill="#e8393f"/>
<rect x="416.26" y="147.88" width="2" height="2" fill="#e8393f"/>
<rect x="411.86" y="145.93" width="2" height="2" fill="#e8393f"/>
<rect x="409.20" y="155.56" width="2" height="2" fill="#e8393f"/>
<rect x="419.13" y="137.72" width="2" height="2" fill="#e8393f"/>
<rect x="417.51" y="126.16" width="2" height="2" fill="#e8393f"/>
<rect x="411.08" y="161.06" width="2" height="2" fill="#e8393f"/>
<rect x="419.63" y="131.85" width="2" height="2" fill="#e8393f"/>
<rect x="420.21" y="128.99" width="2" height="2" fill="#e8393f"/>
<rect x="414.05" y="151.94" width="2" height="2" fill="#e8393f"/>
<rect x="412.46" y="143.79" width="2" height="2" fill="#e8393f"/>
<rect x="423.19" y="138.08" width="2" height="2" fill="#e8393f"/>
<rect x="416.84" y="139.54" width="2" height="2" fill="#e8393f"/>
<rect x="410.51" y="153.68" width="2" height="2" fill="#e8393f"/>
<rect x="409.49" y="152.53" width="2" height="2" fill="#e8393f"/>
<rect x="411.08" y="136.21" width="2" height="2" fill="#e8393f"/>
<rect x="422.30" y="142.59" width="2" height="2" fill="#e8393f"/>
<rect x="421.11" y="141.46" width="2" height="2" fill="#e8393f"/>
<rect x="407.70" y="140.40" width="2" height="2" fill="#e8393f"/>
<rect x="416.22" y="130.50" width="2" height="2" fill="#e8393f"/>
<rect x="409.53" y="162.05" width="2" height="2" fill="#e8393f"/>
<rect x="409.52" y="134.40" width="2" height="2" fill="#e8393f"/>
<rect x="420.25" y="149.37" width="2" height="2" fill="#e8393f"/>
<rect x="415.35" y="152.55" width="2" height="2" fill="#e8393f"/>
<rect x="413.56" y="145.71" width="2" height="2" fill="#e8393f"/>
<rect x="419.58" y="149.95" width="2" height="2" fill="#e8393f"/>
<rect x="423.23" y="141.05" width="2" height="2" fill="#e8393f"/>
<rect x="414.00" y="131.24" width="2" height="2" fill="#e8393f"/>
<rect x="414.83" y="122.37" width="2" height="2" fill="#e8393f"/>
<rect x="414.70" y="145.67" width="2" height="2" fill="#e8393f"/>
<rect x="417.01" y="129.67" width="2" height="2" fill="#e8393f"/>
<rect x="420.81" y="138.20" width="2" height="2" fill="#e8393f"/>
<rect x="411.73" y="144.45" width="2" height="2" fill="#e8393f"/>
<rect x="409.03" y="123.38" width="2" height="2" fill="#e8393f"/>
<rect x="407.77" y="143.45" width="2" height="2" fill="#e8393f"/>
<rect x="411.34" y="152.16" width="2" height="2" fill="#e8393f"/>
<rect x="410.23" y="151.97" width="2" height="2" fill="#e8393f"/>
<rect x="410.68" y="149.33" width="2" height="2" fill="#e8393f"/>
<rect x="413.20" y="123.44" width="2" height="2" fill="#e8393f"/>
<rect x="410.07" y="153.69" width="2" height="2" fill="#e8393f"/>
<rect x="409.37" y="129.98" width="2" height="2" fill="#e8393f"/>
<rect x="413.65" y="143.93" width="2" height="2" fill="#e8393f"/>
<rect x="412.96" y="135.39" width="2" height="2" fill="#e8393f"/>
<rect x="412.25" y="160.11" width="2" height="2" fill="#e8393f"/>
<rect x="409.86" y="165.75" width="2" height="2" fill="#e8393f"/>
<rect x="418.18" y="137.59" width="2" height="2" fill="#e8393f"/>
<rect x="416.11" y="137.42" width="2" height="2" fill="#e8393f"/>
<rect x="416.28" y="151.72" width="2" height="2" fill="#e8393f"/>
<rect x="407.48" y="150.15" width="2" height="2" fill="#e8393f"/>
<rect x="415.48" y="138.57" width="2" height="2" fill="#e8393f"/>
<rect x="419.98" y="144.47" width="2" height="2" fill="#e8393f"/>
<rect x="409.31" y="142.93" width="2" height="2" fill="#e8393f"/>
<rect x="424.23" y="140.01" width="2" height="2" fill="#e8393f"/>
<rect x="420.49" y="132.08" width="2" height="2" fill="#e8393f"/>
<rect x="420.22" y="148.45" width="2" height="2" fill="#e8393f"/>
<text transform="translate(248.5,145.8) rotate(-90) scale(1,1.15)" font-size="11.7" text-anchor="middle" fill="#1a1a1a" stroke="#1a1a1a"><tspan font-style="italic">J</tspan><tspan font-size="7.8" dy="2">SC</tspan><tspan dy="-2"> (mA/cm</tspan><tspan font-size="7.5" dy="-4">2</tspan><tspan dy="4">)</tspan></text>
<line x1="272" y1="250.05" x2="275" y2="250.05" stroke="#555" stroke-width="1" />
<text transform="translate(269.4,253.65) scale(1,1.06)" font-size="10.1" text-anchor="end" fill="#1a1a1a" stroke="#1a1a1a" font-weight="normal" >1.26</text>
<line x1="272" y1="223.3" x2="275" y2="223.3" stroke="#555" stroke-width="1" />
<text transform="translate(269.4,226.9) scale(1,1.06)" font-size="10.1" text-anchor="end" fill="#1a1a1a" stroke="#1a1a1a" font-weight="normal" >1.29</text>
<line x1="272" y1="196.55" x2="275" y2="196.55" stroke="#555" stroke-width="1" />
<text transform="translate(269.4,200.15) scale(1,1.06)" font-size="10.1" text-anchor="end" fill="#1a1a1a" stroke="#1a1a1a" font-weight="normal" >1.32</text>
<line x1="273.4" y1="263.43" x2="275" y2="263.43" stroke="#555" stroke-width="1" />
<line x1="273.4" y1="236.68" x2="275" y2="236.68" stroke="#555" stroke-width="1" />
<line x1="273.4" y1="209.92" x2="275" y2="209.92" stroke="#555" stroke-width="1" />
<rect x="291" y="239.6" width="20.6" height="10.5" fill="none" stroke="#5555e4" stroke-width="0.8" />
<line x1="291" y1="245.2" x2="311.6" y2="245.2" stroke="#5555e4" stroke-width="0.8" />
<line x1="301.3" y1="231.7" x2="301.3" y2="239.6" stroke="#5555e4" stroke-width="0.8" />
<line x1="301.3" y1="250.1" x2="301.3" y2="265.5" stroke="#5555e4" stroke-width="0.8" />
<line x1="296" y1="231.7" x2="306.6" y2="231.7" stroke="#5555e4" stroke-width="0.8" />
<line x1="296" y1="265.5" x2="306.6" y2="265.5" stroke="#5555e4" stroke-width="0.8" />
<circle cx="301.30" cy="245.35" r="1.1" fill="none" stroke="#5555e4" stroke-width="0.5"/>
<path d="M320.19,221.20 L320.25,221.98 L320.33,222.76 L320.44,223.54 L320.57,224.32 L320.74,225.10 L320.95,225.88 L321.20,226.66 L321.51,227.44 L321.88,228.22 L322.31,229.00 L322.82,229.78 L323.40,230.56 L324.06,231.34 L324.80,232.12 L325.62,232.90 L326.52,233.68 L327.48,234.46 L328.49,235.24 L329.55,236.02 L330.64,236.80 L331.73,237.58 L332.80,238.36 L333.83,239.14 L334.80,239.92 L335.68,240.70 L336.44,241.48 L337.07,242.26 L337.55,243.04 L337.86,243.82 L337.99,244.60 L337.95,245.38 L337.73,246.16 L337.34,246.94 L336.78,247.72 L336.08,248.50 L335.26,249.28 L334.34,250.06 L333.34,250.84 L332.28,251.62 L331.20,252.40 L330.11,253.18 L329.03,253.96 L327.99,254.74 L327.00,255.52 L326.07,256.30 L325.21,257.08 L324.43,257.86 L323.73,258.64 L323.11,259.42 L322.56,260.20 L322.09,260.98 L321.69,261.76 L321.36,262.54 L321.07,263.32 L320.84,264.10 L320.65,264.88 L320.50,265.66 L320.38,266.44 L320.29,267.22 L320.22,268.00" stroke="#3a3ae2" stroke-width="0.75" fill="none" />
<rect x="318.80" y="229.80" width="2" height="2" fill="#3a3ae2"/>
<rect x="318.80" y="265.70" width="2" height="2" fill="#3a3ae2"/>
<rect x="330.22" y="243.73" width="2" height="2" fill="#3a3ae2"/>
<rect x="319.58" y="249.86" width="2" height="2" fill="#3a3ae2"/>
<rect x="319.40" y="238.36" width="2" height="2" fill="#3a3ae2"/>
<rect x="327.63" y="244.07" width="2" height="2" fill="#3a3ae2"/>
<rect x="319.28" y="254.05" width="2" height="2" fill="#3a3ae2"/>
<rect x="320.00" y="247.76" width="2" height="2" fill="#3a3ae2"/>
<rect x="319.79" y="232.48" width="2" height="2" fill="#3a3ae2"/>
<rect x="321.29" y="252.60" width="2" height="2" fill="#3a3ae2"/>
<rect x="324.41" y="232.28" width="2" height="2" fill="#3a3ae2"/>
<rect x="322.44" y="231.86" width="2" height="2" fill="#3a3ae2"/>
<rect x="332.47" y="248.21" width="2" height="2" fill="#3a3ae2"/>
<rect x="323.64" y="245.41" width="2" height="2" fill="#3a3ae2"/>
<rect x="323.51" y="248.24" width="2" height="2" fill="#3a3ae2"/>
<rect x="331.34" y="248.92" width="2" height="2" fill="#3a3ae2"/>
<rect x="327.86" y="250.22" width="2" height="2" fill="#3a3ae2"/>
<rect x="322.31" y="255.32" width="2" height="2" fill="#3a3ae2"/>
<rect x="319.57" y="243.03" width="2" height="2" fill="#3a3ae2"/>
<rect x="322.18" y="244.93" width="2" height="2" fill="#3a3ae2"/>
<rect x="324.08" y="242.21" width="2" height="2" fill="#3a3ae2"/>
<rect x="327.45" y="238.14" width="2" height="2" fill="#3a3ae2"/>
<rect x="331.39" y="239.33" width="2" height="2" fill="#3a3ae2"/>
<rect x="330.11" y="247.73" width="2" height="2" fill="#3a3ae2"/>
<rect x="327.68" y="246.16" width="2" height="2" fill="#3a3ae2"/>
<rect x="326.91" y="256.20" width="2" height="2" fill="#3a3ae2"/>
<rect x="336.02" y="244.93" width="2" height="2" fill="#3a3ae2"/>
<rect x="320.41" y="239.26" width="2" height="2" fill="#3a3ae2"/>
<rect x="320.28" y="234.09" width="2" height="2" fill="#3a3ae2"/>
<rect x="324.70" y="252.38" width="2" height="2" fill="#3a3ae2"/>
<rect x="325.33" y="257.27" width="2" height="2" fill="#3a3ae2"/>
<rect x="327.63" y="248.66" width="2" height="2" fill="#3a3ae2"/>
<rect x="328.39" y="250.68" width="2" height="2" fill="#3a3ae2"/>
<rect x="328.73" y="240.89" width="2" height="2" fill="#3a3ae2"/>
<rect x="331.29" y="238.06" width="2" height="2" fill="#3a3ae2"/>
<rect x="335.05" y="241.54" width="2" height="2" fill="#3a3ae2"/>
<rect x="319.21" y="234.15" width="2" height="2" fill="#3a3ae2"/>
<rect x="330.17" y="247.68" width="2" height="2" fill="#3a3ae2"/>
<rect x="325.98" y="230.62" width="2" height="2" fill="#3a3ae2"/>
<rect x="330.53" y="244.08" width="2" height="2" fill="#3a3ae2"/>
<rect x="318.76" y="253.47" width="2" height="2" fill="#3a3ae2"/>
<rect x="320.53" y="241.08" width="2" height="2" fill="#3a3ae2"/>
<rect x="319.51" y="246.93" width="2" height="2" fill="#3a3ae2"/>
<rect x="322.82" y="246.25" width="2" height="2" fill="#3a3ae2"/>
<rect x="325.36" y="241.60" width="2" height="2" fill="#3a3ae2"/>
<rect x="325.87" y="248.03" width="2" height="2" fill="#3a3ae2"/>
<rect x="328.38" y="243.41" width="2" height="2" fill="#3a3ae2"/>
<rect x="326.49" y="256.74" width="2" height="2" fill="#3a3ae2"/>
<rect x="322.21" y="235.90" width="2" height="2" fill="#3a3ae2"/>
<rect x="332.83" y="239.29" width="2" height="2" fill="#3a3ae2"/>
<rect x="333.04" y="249.59" width="2" height="2" fill="#3a3ae2"/>
<rect x="322.19" y="248.67" width="2" height="2" fill="#3a3ae2"/>
<rect x="322.00" y="249.81" width="2" height="2" fill="#3a3ae2"/>
<rect x="321.83" y="235.18" width="2" height="2" fill="#3a3ae2"/>
<rect x="318.57" y="246.78" width="2" height="2" fill="#3a3ae2"/>
<rect x="327.59" y="239.09" width="2" height="2" fill="#3a3ae2"/>
<rect x="333.04" y="249.51" width="2" height="2" fill="#3a3ae2"/>
<rect x="329.48" y="242.27" width="2" height="2" fill="#3a3ae2"/>
<rect x="328.07" y="236.83" width="2" height="2" fill="#3a3ae2"/>
<rect x="324.03" y="261.90" width="2" height="2" fill="#3a3ae2"/>
<rect x="330.32" y="251.47" width="2" height="2" fill="#3a3ae2"/>
<rect x="325.01" y="248.13" width="2" height="2" fill="#3a3ae2"/>
<rect x="320.09" y="238.17" width="2" height="2" fill="#3a3ae2"/>
<rect x="319.71" y="243.87" width="2" height="2" fill="#3a3ae2"/>
<rect x="322.26" y="243.64" width="2" height="2" fill="#3a3ae2"/>
<rect x="319.30" y="249.58" width="2" height="2" fill="#3a3ae2"/>
<rect x="318.50" y="251.97" width="2" height="2" fill="#3a3ae2"/>
<rect x="324.49" y="247.92" width="2" height="2" fill="#3a3ae2"/>
<rect x="318.90" y="248.78" width="2" height="2" fill="#3a3ae2"/>
<rect x="320.23" y="253.53" width="2" height="2" fill="#3a3ae2"/>
<rect x="380.2" y="211.2" width="20.6" height="10.5" fill="none" stroke="#e9575c" stroke-width="0.8" />
<line x1="380.2" y1="216.3" x2="400.8" y2="216.3" stroke="#e9575c" stroke-width="0.8" />
<line x1="390.5" y1="206.3" x2="390.5" y2="211.2" stroke="#e9575c" stroke-width="0.8" />
<line x1="390.5" y1="221.7" x2="390.5" y2="227.3" stroke="#e9575c" stroke-width="0.8" />
<line x1="385.2" y1="206.3" x2="395.8" y2="206.3" stroke="#e9575c" stroke-width="0.8" />
<line x1="385.2" y1="227.3" x2="395.8" y2="227.3" stroke="#e9575c" stroke-width="0.8" />
<circle cx="390.50" cy="216.95" r="1.1" fill="none" stroke="#e9575c" stroke-width="0.5"/>
<path d="M409.10,197.00 L409.17,197.65 L409.26,198.30 L409.37,198.95 L409.51,199.60 L409.69,200.25 L409.91,200.90 L410.18,201.55 L410.50,202.20 L410.88,202.85 L411.34,203.50 L411.86,204.15 L412.46,204.80 L413.14,205.45 L413.90,206.10 L414.74,206.75 L415.66,207.40 L416.63,208.05 L417.66,208.70 L418.73,209.35 L419.82,210.00 L420.91,210.65 L421.97,211.30 L422.99,211.95 L423.93,212.60 L424.78,213.25 L425.52,213.90 L426.11,214.55 L426.54,215.20 L426.81,215.85 L426.90,216.50 L426.81,217.15 L426.54,217.80 L426.11,218.45 L425.52,219.10 L424.78,219.75 L423.93,220.40 L422.99,221.05 L421.97,221.70 L420.91,222.35 L419.82,223.00 L418.73,223.65 L417.66,224.30 L416.63,224.95 L415.66,225.60 L414.74,226.25 L413.90,226.90 L413.14,227.55 L412.46,228.20 L411.86,228.85 L411.34,229.50 L410.88,230.15 L410.50,230.80 L410.18,231.45 L409.91,232.10 L409.69,232.75 L409.51,233.40 L409.37,234.05 L409.26,234.70 L409.17,235.35 L409.10,236.00" stroke="#e8393f" stroke-width="0.75" fill="none" />
<rect x="407.70" y="204.40" width="2" height="2" fill="#e8393f"/>
<rect x="407.70" y="227.20" width="2" height="2" fill="#e8393f"/>
<rect x="409.60" y="217.54" width="2" height="2" fill="#e8393f"/>
<rect x="411.85" y="215.05" width="2" height="2" fill="#e8393f"/>
<rect x="424.89" y="213.60" width="2" height="2" fill="#e8393f"/>
<rect x="415.42" y="217.48" width="2" height="2" fill="#e8393f"/>
<rect x="413.14" y="222.68" width="2" height="2" fill="#e8393f"/>
<rect x="421.27" y="212.34" width="2" height="2" fill="#e8393f"/>
<rect x="409.01" y="215.75" width="2" height="2" fill="#e8393f"/>
<rect x="412.20" y="215.75" width="2" height="2" fill="#e8393f"/>
<rect x="414.66" y="216.66" width="2" height="2" fill="#e8393f"/>
<rect x="409.20" y="219.69" width="2" height="2" fill="#e8393f"/>
<rect x="411.80" y="212.79" width="2" height="2" fill="#e8393f"/>
<rect x="418.24" y="217.48" width="2" height="2" fill="#e8393f"/>
<rect x="414.19" y="215.55" width="2" height="2" fill="#e8393f"/>
<rect x="419.35" y="213.20" width="2" height="2" fill="#e8393f"/>
<rect x="415.46" y="211.75" width="2" height="2" fill="#e8393f"/>
<rect x="415.33" y="209.22" width="2" height="2" fill="#e8393f"/>
<rect x="408.98" y="206.84" width="2" height="2" fill="#e8393f"/>
<rect x="411.70" y="226.91" width="2" height="2" fill="#e8393f"/>
<rect x="410.31" y="220.47" width="2" height="2" fill="#e8393f"/>
<rect x="417.22" y="221.93" width="2" height="2" fill="#e8393f"/>
<rect x="422.75" y="213.43" width="2" height="2" fill="#e8393f"/>
<rect x="423.11" y="214.59" width="2" height="2" fill="#e8393f"/>
<rect x="409.45" y="220.29" width="2" height="2" fill="#e8393f"/>
<rect x="419.81" y="215.86" width="2" height="2" fill="#e8393f"/>
<rect x="419.61" y="213.36" width="2" height="2" fill="#e8393f"/>
<rect x="412.63" y="224.93" width="2" height="2" fill="#e8393f"/>
<rect x="410.74" y="212.63" width="2" height="2" fill="#e8393f"/>
<rect x="415.64" y="219.30" width="2" height="2" fill="#e8393f"/>
<rect x="408.46" y="220.68" width="2" height="2" fill="#e8393f"/>
<rect x="417.85" y="220.60" width="2" height="2" fill="#e8393f"/>
<rect x="411.05" y="212.21" width="2" height="2" fill="#e8393f"/>
<rect x="413.58" y="215.68" width="2" height="2" fill="#e8393f"/>
<rect x="412.17" y="216.43" width="2" height="2" fill="#e8393f"/>
<rect x="420.56" y="211.28" width="2" height="2" fill="#e8393f"/>
<rect x="422.74" y="217.93" width="2" height="2" fill="#e8393f"/>
<rect x="410.26" y="217.95" width="2" height="2" fill="#e8393f"/>
<rect x="417.56" y="220.19" width="2" height="2" fill="#e8393f"/>
<rect x="419.98" y="219.01" width="2" height="2" fill="#e8393f"/>
<rect x="412.79" y="215.11" width="2" height="2" fill="#e8393f"/>
<rect x="411.17" y="224.23" width="2" height="2" fill="#e8393f"/>
<rect x="410.45" y="216.36" width="2" height="2" fill="#e8393f"/>
<rect x="414.22" y="212.27" width="2" height="2" fill="#e8393f"/>
<rect x="415.27" y="217.10" width="2" height="2" fill="#e8393f"/>
<rect x="411.51" y="209.78" width="2" height="2" fill="#e8393f"/>
<rect x="408.96" y="218.98" width="2" height="2" fill="#e8393f"/>
<rect x="416.43" y="217.72" width="2" height="2" fill="#e8393f"/>
<rect x="413.79" y="216.88" width="2" height="2" fill="#e8393f"/>
<rect x="419.65" y="217.78" width="2" height="2" fill="#e8393f"/>
<rect x="421.62" y="210.03" width="2" height="2" fill="#e8393f"/>
<rect x="409.91" y="216.51" width="2" height="2" fill="#e8393f"/>
<rect x="414.34" y="216.01" width="2" height="2" fill="#e8393f"/>
<rect x="411.79" y="208.17" width="2" height="2" fill="#e8393f"/>
<rect x="423.18" y="211.92" width="2" height="2" fill="#e8393f"/>
<rect x="409.52" y="225.28" width="2" height="2" fill="#e8393f"/>
<rect x="423.14" y="215.83" width="2" height="2" fill="#e8393f"/>
<rect x="420.25" y="218.36" width="2" height="2" fill="#e8393f"/>
<rect x="409.72" y="222.31" width="2" height="2" fill="#e8393f"/>
<rect x="424.85" y="215.25" width="2" height="2" fill="#e8393f"/>
<rect x="418.02" y="213.68" width="2" height="2" fill="#e8393f"/>
<rect x="416.29" y="216.41" width="2" height="2" fill="#e8393f"/>
<rect x="409.47" y="212.76" width="2" height="2" fill="#e8393f"/>
<rect x="417.82" y="216.14" width="2" height="2" fill="#e8393f"/>
<rect x="414.98" y="213.13" width="2" height="2" fill="#e8393f"/>
<rect x="420.37" y="216.42" width="2" height="2" fill="#e8393f"/>
<rect x="414.42" y="214.42" width="2" height="2" fill="#e8393f"/>
<rect x="412.65" y="210.06" width="2" height="2" fill="#e8393f"/>
<rect x="415.40" y="216.16" width="2" height="2" fill="#e8393f"/>
<rect x="409.18" y="218.97" width="2" height="2" fill="#e8393f"/>
<text transform="translate(248.5,229.8) rotate(-90) scale(1,1.15)" font-size="11.7" text-anchor="middle" fill="#1a1a1a" stroke="#1a1a1a"><tspan font-style="italic">V</tspan><tspan font-size="7.8" dy="2">OC</tspan><tspan dy="-2"> (V)</tspan></text>
<line x1="272" y1="357.2" x2="275" y2="357.2" stroke="#555" stroke-width="1" />
<text transform="translate(269.4,360.8) scale(1,1.06)" font-size="10.1" text-anchor="end" fill="#1a1a1a" stroke="#1a1a1a" font-weight="normal" >20</text>
<line x1="272" y1="328.5" x2="275" y2="328.5" stroke="#555" stroke-width="1" />
<text transform="translate(269.4,332.1) scale(1,1.06)" font-size="10.1" text-anchor="end" fill="#1a1a1a" stroke="#1a1a1a" font-weight="normal" >22</text>
<line x1="272" y1="299.8" x2="275" y2="299.8" stroke="#555" stroke-width="1" />
<text transform="translate(269.4,303.4) scale(1,1.06)" font-size="10.1" text-anchor="end" fill="#1a1a1a" stroke="#1a1a1a" font-weight="normal" >24</text>
<line x1="273.4" y1="342.85" x2="275" y2="342.85" stroke="#555" stroke-width="1" />
<line x1="273.4" y1="314.15" x2="275" y2="314.15" stroke="#555" stroke-width="1" />
<line x1="273.4" y1="285.45" x2="275" y2="285.45" stroke="#555" stroke-width="1" />
<rect x="291" y="319.6" width="20.6" height="11.4" fill="none" stroke="#5555e4" stroke-width="0.8" />
<line x1="291" y1="324.3" x2="311.6" y2="324.3" stroke="#5555e4" stroke-width="0.8" />
<line x1="301.3" y1="309.3" x2="301.3" y2="319.6" stroke="#5555e4" stroke-width="0.8" />
<line x1="301.3" y1="331" x2="301.3" y2="343.2" stroke="#5555e4" stroke-width="0.8" />
<line x1="296" y1="309.3" x2="306.6" y2="309.3" stroke="#5555e4" stroke-width="0.8" />
<line x1="296" y1="343.2" x2="306.6" y2="343.2" stroke="#5555e4" stroke-width="0.8" />
<circle cx="301.30" cy="325.80" r="1.1" fill="none" stroke="#5555e4" stroke-width="0.5"/>
<path d="M320.20,298.90 L320.26,299.75 L320.35,300.60 L320.46,301.45 L320.60,302.31 L320.78,303.16 L321.00,304.01 L321.26,304.86 L321.58,305.71 L321.96,306.56 L322.41,307.42 L322.93,308.27 L323.52,309.12 L324.20,309.97 L324.96,310.82 L325.79,311.67 L326.70,312.53 L327.67,313.38 L328.70,314.23 L329.77,315.08 L330.85,315.93 L331.94,316.78 L333.01,317.64 L334.03,318.49 L334.98,319.34 L335.84,320.19 L336.58,321.04 L337.18,321.89 L337.62,322.75 L337.90,323.60 L338.00,324.45 L337.92,325.30 L337.66,326.15 L337.24,327.00 L336.65,327.86 L335.93,328.71 L335.09,329.56 L334.15,330.41 L333.13,331.26 L332.07,332.12 L330.98,332.97 L329.89,333.82 L328.82,334.67 L327.79,335.52 L326.81,336.37 L325.90,337.23 L325.05,338.08 L324.29,338.93 L323.60,339.78 L322.99,340.63 L322.46,341.48 L322.01,342.33 L321.62,343.19 L321.30,344.04 L321.02,344.89 L320.80,345.74 L320.62,346.59 L320.48,347.44 L320.36,348.30 L320.27,349.15 L320.20,350.00" stroke="#3a3ae2" stroke-width="0.75" fill="none" />
<rect x="318.80" y="307.70" width="2" height="2" fill="#3a3ae2"/>
<rect x="318.80" y="351.90" width="2" height="2" fill="#3a3ae2"/>
<rect x="320.63" y="317.41" width="2" height="2" fill="#3a3ae2"/>
<rect x="332.29" y="328.84" width="2" height="2" fill="#3a3ae2"/>
<rect x="326.50" y="338.25" width="2" height="2" fill="#3a3ae2"/>
<rect x="319.87" y="327.12" width="2" height="2" fill="#3a3ae2"/>
<rect x="319.01" y="313.83" width="2" height="2" fill="#3a3ae2"/>
<rect x="325.26" y="322.10" width="2" height="2" fill="#3a3ae2"/>
<rect x="331.55" y="323.55" width="2" height="2" fill="#3a3ae2"/>
<rect x="320.78" y="316.33" width="2" height="2" fill="#3a3ae2"/>
<rect x="327.13" y="327.01" width="2" height="2" fill="#3a3ae2"/>
<rect x="331.35" y="331.40" width="2" height="2" fill="#3a3ae2"/>
<rect x="322.83" y="312.37" width="2" height="2" fill="#3a3ae2"/>
<rect x="330.03" y="317.53" width="2" height="2" fill="#3a3ae2"/>
<rect x="326.88" y="333.19" width="2" height="2" fill="#3a3ae2"/>
<rect x="328.53" y="331.51" width="2" height="2" fill="#3a3ae2"/>
<rect x="323.29" y="322.94" width="2" height="2" fill="#3a3ae2"/>
<rect x="321.87" y="328.64" width="2" height="2" fill="#3a3ae2"/>
<rect x="322.09" y="323.17" width="2" height="2" fill="#3a3ae2"/>
<rect x="324.63" y="344.19" width="2" height="2" fill="#3a3ae2"/>
<rect x="324.47" y="329.04" width="2" height="2" fill="#3a3ae2"/>
<rect x="327.32" y="324.38" width="2" height="2" fill="#3a3ae2"/>
<rect x="327.31" y="336.87" width="2" height="2" fill="#3a3ae2"/>
<rect x="320.33" y="328.17" width="2" height="2" fill="#3a3ae2"/>
<rect x="328.87" y="322.55" width="2" height="2" fill="#3a3ae2"/>
<rect x="334.61" y="323.80" width="2" height="2" fill="#3a3ae2"/>
<rect x="319.92" y="327.02" width="2" height="2" fill="#3a3ae2"/>
<rect x="327.44" y="327.86" width="2" height="2" fill="#3a3ae2"/>
<rect x="325.67" y="330.76" width="2" height="2" fill="#3a3ae2"/>
<rect x="334.15" y="327.10" width="2" height="2" fill="#3a3ae2"/>
<rect x="328.58" y="317.97" width="2" height="2" fill="#3a3ae2"/>
<rect x="319.80" y="331.41" width="2" height="2" fill="#3a3ae2"/>
<rect x="329.24" y="321.35" width="2" height="2" fill="#3a3ae2"/>
<rect x="335.75" y="323.74" width="2" height="2" fill="#3a3ae2"/>
<rect x="323.85" y="338.43" width="2" height="2" fill="#3a3ae2"/>
<rect x="320.65" y="330.82" width="2" height="2" fill="#3a3ae2"/>
<rect x="336.44" y="322.99" width="2" height="2" fill="#3a3ae2"/>
<rect x="327.23" y="337.76" width="2" height="2" fill="#3a3ae2"/>
<rect x="320.74" y="337.26" width="2" height="2" fill="#3a3ae2"/>
<rect x="325.06" y="324.42" width="2" height="2" fill="#3a3ae2"/>
<rect x="330.55" y="324.78" width="2" height="2" fill="#3a3ae2"/>
<rect x="319.48" y="312.35" width="2" height="2" fill="#3a3ae2"/>
<rect x="323.87" y="317.54" width="2" height="2" fill="#3a3ae2"/>
<rect x="323.40" y="335.20" width="2" height="2" fill="#3a3ae2"/>
<rect x="324.50" y="316.84" width="2" height="2" fill="#3a3ae2"/>
<rect x="318.65" y="339.44" width="2" height="2" fill="#3a3ae2"/>
<rect x="332.63" y="325.53" width="2" height="2" fill="#3a3ae2"/>
<rect x="322.29" y="321.68" width="2" height="2" fill="#3a3ae2"/>
<rect x="323.11" y="335.87" width="2" height="2" fill="#3a3ae2"/>
<rect x="329.75" y="324.73" width="2" height="2" fill="#3a3ae2"/>
<rect x="320.02" y="330.43" width="2" height="2" fill="#3a3ae2"/>
<rect x="331.76" y="327.12" width="2" height="2" fill="#3a3ae2"/>
<rect x="332.97" y="324.47" width="2" height="2" fill="#3a3ae2"/>
<rect x="321.09" y="311.21" width="2" height="2" fill="#3a3ae2"/>
<rect x="331.11" y="326.91" width="2" height="2" fill="#3a3ae2"/>
<rect x="335.09" y="320.31" width="2" height="2" fill="#3a3ae2"/>
<rect x="324.57" y="329.88" width="2" height="2" fill="#3a3ae2"/>
<rect x="322.86" y="313.06" width="2" height="2" fill="#3a3ae2"/>
<rect x="323.75" y="340.59" width="2" height="2" fill="#3a3ae2"/>
<rect x="321.23" y="335.65" width="2" height="2" fill="#3a3ae2"/>
<rect x="318.86" y="343.28" width="2" height="2" fill="#3a3ae2"/>
<rect x="330.70" y="332.63" width="2" height="2" fill="#3a3ae2"/>
<rect x="335.87" y="325.71" width="2" height="2" fill="#3a3ae2"/>
<rect x="319.58" y="325.46" width="2" height="2" fill="#3a3ae2"/>
<rect x="322.17" y="325.71" width="2" height="2" fill="#3a3ae2"/>
<rect x="332.50" y="316.30" width="2" height="2" fill="#3a3ae2"/>
<rect x="322.31" y="335.33" width="2" height="2" fill="#3a3ae2"/>
<rect x="320.05" y="334.65" width="2" height="2" fill="#3a3ae2"/>
<rect x="319.37" y="336.41" width="2" height="2" fill="#3a3ae2"/>
<rect x="319.24" y="312.42" width="2" height="2" fill="#3a3ae2"/>
<rect x="380.2" y="295" width="20.6" height="9.4" fill="none" stroke="#e9575c" stroke-width="0.8" />
<line x1="380.2" y1="299.6" x2="400.8" y2="299.6" stroke="#e9575c" stroke-width="0.8" />
<line x1="390.5" y1="284.4" x2="390.5" y2="295" stroke="#e9575c" stroke-width="0.8" />
<line x1="390.5" y1="304.4" x2="390.5" y2="312.5" stroke="#e9575c" stroke-width="0.8" />
<line x1="385.2" y1="284.4" x2="395.8" y2="284.4" stroke="#e9575c" stroke-width="0.8" />
<line x1="385.2" y1="312.5" x2="395.8" y2="312.5" stroke="#e9575c" stroke-width="0.8" />
<circle cx="390.50" cy="300.20" r="1.1" fill="none" stroke="#e9575c" stroke-width="0.5"/>
<path d="M409.11,278.70 L409.18,279.40 L409.27,280.09 L409.39,280.79 L409.54,281.49 L409.72,282.18 L409.95,282.88 L410.22,283.58 L410.55,284.27 L410.95,284.97 L411.41,285.67 L411.94,286.36 L412.56,287.06 L413.25,287.76 L414.02,288.45 L414.87,289.15 L415.79,289.85 L416.78,290.54 L417.81,291.24 L418.88,291.94 L419.97,292.63 L421.06,293.33 L422.12,294.03 L423.13,294.72 L424.06,295.42 L424.90,296.12 L425.61,296.81 L426.18,297.51 L426.59,298.21 L426.83,298.90 L426.90,299.60 L426.78,300.30 L426.49,300.99 L426.03,301.69 L425.42,302.39 L424.67,303.08 L423.80,303.78 L422.85,304.48 L421.82,305.17 L420.75,305.87 L419.66,306.57 L418.57,307.26 L417.51,307.96 L416.49,308.66 L415.52,309.35 L414.62,310.05 L413.79,310.75 L413.04,311.44 L412.37,312.14 L411.78,312.84 L411.27,313.53 L410.83,314.23 L410.45,314.93 L410.14,315.62 L409.88,316.32 L409.66,317.02 L409.49,317.71 L409.35,318.41 L409.24,319.11 L409.16,319.80 L409.09,320.50" stroke="#e8393f" stroke-width="0.75" fill="none" />
<rect x="407.70" y="280.00" width="2" height="2" fill="#e8393f"/>
<rect x="407.70" y="312.50" width="2" height="2" fill="#e8393f"/>
<rect x="414.53" y="290.49" width="2" height="2" fill="#e8393f"/>
<rect x="410.67" y="294.06" width="2" height="2" fill="#e8393f"/>
<rect x="417.95" y="302.59" width="2" height="2" fill="#e8393f"/>
<rect x="408.69" y="284.97" width="2" height="2" fill="#e8393f"/>
<rect x="410.61" y="290.99" width="2" height="2" fill="#e8393f"/>
<rect x="424.12" y="296.54" width="2" height="2" fill="#e8393f"/>
<rect x="422.77" y="299.56" width="2" height="2" fill="#e8393f"/>
<rect x="418.16" y="297.33" width="2" height="2" fill="#e8393f"/>
<rect x="417.46" y="293.03" width="2" height="2" fill="#e8393f"/>
<rect x="415.19" y="301.37" width="2" height="2" fill="#e8393f"/>
<rect x="409.40" y="293.20" width="2" height="2" fill="#e8393f"/>
<rect x="414.87" y="287.59" width="2" height="2" fill="#e8393f"/>
<rect x="417.71" y="295.27" width="2" height="2" fill="#e8393f"/>
<rect x="409.81" y="298.00" width="2" height="2" fill="#e8393f"/>
<rect x="424.24" y="297.55" width="2" height="2" fill="#e8393f"/>
<rect x="422.40" y="295.13" width="2" height="2" fill="#e8393f"/>
<rect x="412.11" y="303.89" width="2" height="2" fill="#e8393f"/>
<rect x="408.17" y="290.01" width="2" height="2" fill="#e8393f"/>
<rect x="417.13" y="295.03" width="2" height="2" fill="#e8393f"/>
<rect x="411.40" y="299.72" width="2" height="2" fill="#e8393f"/>
<rect x="413.88" y="293.88" width="2" height="2" fill="#e8393f"/>
<rect x="418.24" y="305.61" width="2" height="2" fill="#e8393f"/>
<rect x="419.19" y="299.32" width="2" height="2" fill="#e8393f"/>
<rect x="408.52" y="283.49" width="2" height="2" fill="#e8393f"/>
<rect x="416.56" y="294.41" width="2" height="2" fill="#e8393f"/>
<rect x="408.79" y="290.49" width="2" height="2" fill="#e8393f"/>
<rect x="418.67" y="304.34" width="2" height="2" fill="#e8393f"/>
<rect x="421.37" y="300.95" width="2" height="2" fill="#e8393f"/>
<rect x="424.25" y="299.86" width="2" height="2" fill="#e8393f"/>
<rect x="410.45" y="290.55" width="2" height="2" fill="#e8393f"/>
<rect x="412.23" y="300.42" width="2" height="2" fill="#e8393f"/>
<rect x="409.29" y="294.02" width="2" height="2" fill="#e8393f"/>
<rect x="414.73" y="294.33" width="2" height="2" fill="#e8393f"/>
<rect x="420.59" y="302.70" width="2" height="2" fill="#e8393f"/>
<rect x="417.11" y="306.37" width="2" height="2" fill="#e8393f"/>
<rect x="412.88" y="290.75" width="2" height="2" fill="#e8393f"/>
<rect x="407.49" y="298.21" width="2" height="2" fill="#e8393f"/>
<rect x="412.89" y="295.86" width="2" height="2" fill="#e8393f"/>
<rect x="408.43" y="291.07" width="2" height="2" fill="#e8393f"/>
<rect x="411.43" y="288.33" width="2" height="2" fill="#e8393f"/>
<rect x="422.67" y="300.44" width="2" height="2" fill="#e8393f"/>
<rect x="416.08" y="294.89" width="2" height="2" fill="#e8393f"/>
<rect x="420.59" y="292.62" width="2" height="2" fill="#e8393f"/>
<rect x="408.01" y="287.65" width="2" height="2" fill="#e8393f"/>
<rect x="415.89" y="296.14" width="2" height="2" fill="#e8393f"/>
<rect x="412.50" y="290.28" width="2" height="2" fill="#e8393f"/>
<rect x="417.90" y="299.13" width="2" height="2" fill="#e8393f"/>
<rect x="409.25" y="289.24" width="2" height="2" fill="#e8393f"/>
<rect x="414.85" y="295.36" width="2" height="2" fill="#e8393f"/>
<rect x="407.90" y="304.71" width="2" height="2" fill="#e8393f"/>
<rect x="407.45" y="295.91" width="2" height="2" fill="#e8393f"/>
<rect x="408.95" y="295.11" width="2" height="2" fill="#e8393f"/>
<rect x="409.32" y="296.86" width="2" height="2" fill="#e8393f"/>
<rect x="414.70" y="303.82" width="2" height="2" fill="#e8393f"/>
<rect x="413.29" y="289.90" width="2" height="2" fill="#e8393f"/>
<rect x="415.41" y="299.36" width="2" height="2" fill="#e8393f"/>
<rect x="419.03" y="295.08" width="2" height="2" fill="#e8393f"/>
<rect x="410.38" y="282.12" width="2" height="2" fill="#e8393f"/>
<rect x="408.95" y="288.03" width="2" height="2" fill="#e8393f"/>
<rect x="409.27" y="284.59" width="2" height="2" fill="#e8393f"/>
<rect x="414.60" y="289.31" width="2" height="2" fill="#e8393f"/>
<rect x="414.31" y="289.88" width="2" height="2" fill="#e8393f"/>
<rect x="421.19" y="301.32" width="2" height="2" fill="#e8393f"/>
<rect x="418.94" y="290.13" width="2" height="2" fill="#e8393f"/>
<rect x="412.96" y="284.25" width="2" height="2" fill="#e8393f"/>
<rect x="421.42" y="303.02" width="2" height="2" fill="#e8393f"/>
<rect x="420.17" y="301.95" width="2" height="2" fill="#e8393f"/>
<rect x="411.53" y="292.60" width="2" height="2" fill="#e8393f"/>
<text transform="translate(249.2,315.5) rotate(-90) scale(1,1.15)" font-size="11.7" text-anchor="middle" fill="#1a1a1a" stroke="#1a1a1a">PCE (%)</text>
<text transform="translate(320,372.7) scale(1,1.1)" font-size="11.3" text-anchor="middle" fill="#1a1a1a" stroke="#1a1a1a" font-weight="normal" >Control</text>
<text transform="translate(410,372.7) scale(1,1.1)" font-size="11.6" text-anchor="middle" fill="#1a1a1a" stroke="#1a1a1a" font-weight="normal" >Target</text>
<rect x="506" y="38" width="162.7" height="3.2" fill="#f3d5d8" stroke="none" stroke-width="1" />
<rect x="628.9" y="38" width="39.8" height="123" fill="#f3d5d8" stroke="none" stroke-width="1" />
<rect x="506" y="92.1" width="100.7" height="2.5" fill="#efe3f2" stroke="none" stroke-width="1" />
<rect x="568.9" y="92.1" width="37.8" height="68.9" fill="#efe3f2" stroke="none" stroke-width="1" />
<rect x="506" y="145.9" width="39.9" height="15.1" fill="#c9c9f2" stroke="none" stroke-width="1" />
<rect x="506" y="18.9" width="177.2" height="142.1" fill="none" stroke="#555" stroke-width="1" />
<line x1="503" y1="161" x2="506" y2="161" stroke="#555" stroke-width="1" />
<text transform="translate(501.2,164.6) scale(1,1.06)" font-size="10.1" text-anchor="end" fill="#1a1a1a" stroke="#1a1a1a" font-weight="normal" >76</text>
<line x1="503" y1="137.44" x2="506" y2="137.44" stroke="#555" stroke-width="1" />
<text transform="translate(501.2,141.04) scale(1,1.06)" font-size="10.1" text-anchor="end" fill="#1a1a1a" stroke="#1a1a1a" font-weight="normal" >78</text>
<line x1="503" y1="113.88" x2="506" y2="113.88" stroke="#555" stroke-width="1" />
<text transform="translate(501.2,117.48) scale(1,1.06)" font-size="10.1" text-anchor="end" fill="#1a1a1a" stroke="#1a1a1a" font-weight="normal" >80</text>
<line x1="503" y1="90.32" x2="506" y2="90.32" stroke="#555" stroke-width="1" />
<text transform="translate(501.2,93.92) scale(1,1.06)" font-size="10.1" text-anchor="end" fill="#1a1a1a" stroke="#1a1a1a" font-weight="normal" >82</text>
<line x1="503" y1="66.76" x2="506" y2="66.76" stroke="#555" stroke-width="1" />
<text transform="translate(501.2,70.36) scale(1,1.06)" font-size="10.1" text-anchor="end" fill="#1a1a1a" stroke="#1a1a1a" font-weight="normal" >84</text>
<line x1="503" y1="43.2" x2="506" y2="43.2" stroke="#555" stroke-width="1" />
<text transform="translate(501.2,46.8) scale(1,1.06)" font-size="10.1" text-anchor="end" fill="#1a1a1a" stroke="#1a1a1a" font-weight="normal" >86</text>
<line x1="503" y1="19.64" x2="506" y2="19.64" stroke="#555" stroke-width="1" />
<text transform="translate(501.2,23.24) scale(1,1.06)" font-size="10.1" text-anchor="end" fill="#1a1a1a" stroke="#1a1a1a" font-weight="normal" >88</text>
<line x1="504.4" y1="149.22" x2="506" y2="149.22" stroke="#555" stroke-width="1" />
<line x1="504.4" y1="125.66" x2="506" y2="125.66" stroke="#555" stroke-width="1" />
<line x1="504.4" y1="102.1" x2="506" y2="102.1" stroke="#555" stroke-width="1" />
<line x1="504.4" y1="78.54" x2="506" y2="78.54" stroke="#555" stroke-width="1" />
<line x1="504.4" y1="54.98" x2="506" y2="54.98" stroke="#555" stroke-width="1" />
<line x1="504.4" y1="31.42" x2="506" y2="31.42" stroke="#555" stroke-width="1" />
<line x1="524.2" y1="161" x2="524.2" y2="164" stroke="#555" stroke-width="1" />
<text transform="translate(524.2,174.6) scale(1,1.06)" font-size="10.1" text-anchor="middle" fill="#1a1a1a" stroke="#1a1a1a" font-weight="normal" >1.16</text>
<line x1="559.5" y1="161" x2="559.5" y2="164" stroke="#555" stroke-width="1" />
<text transform="translate(559.5,174.6) scale(1,1.06)" font-size="10.1" text-anchor="middle" fill="#1a1a1a" stroke="#1a1a1a" font-weight="normal" >1.20</text>
<line x1="594.8" y1="161" x2="594.8" y2="164" stroke="#555" stroke-width="1" />
<text transform="translate(594.8,174.6) scale(1,1.06)" font-size="10.1" text-anchor="middle" fill="#1a1a1a" stroke="#1a1a1a" font-weight="normal" >1.24</text>
<line x1="630.1" y1="161" x2="630.1" y2="164" stroke="#555" stroke-width="1" />
<text transform="translate(630.1,174.6) scale(1,1.06)" font-size="10.1" text-anchor="middle" fill="#1a1a1a" stroke="#1a1a1a" font-weight="normal" >1.28</text>
<line x1="665.4" y1="161" x2="665.4" y2="164" stroke="#555" stroke-width="1" />
<text transform="translate(665.4,174.6) scale(1,1.06)" font-size="10.1" text-anchor="middle" fill="#1a1a1a" stroke="#1a1a1a" font-weight="normal" >1.32</text>
<line x1="506.55" y1="161" x2="506.55" y2="162.6" stroke="#555" stroke-width="1" />
<line x1="541.85" y1="161" x2="541.85" y2="162.6" stroke="#555" stroke-width="1" />
<line x1="577.15" y1="161" x2="577.15" y2="162.6" stroke="#555" stroke-width="1" />
<line x1="612.45" y1="161" x2="612.45" y2="162.6" stroke="#555" stroke-width="1" />
<line x1="647.75" y1="161" x2="647.75" y2="162.6" stroke="#555" stroke-width="1" />
<path d="M621.30,50.70 L623.58,53.10 L621.30,55.50 L619.02,53.10 Z" fill="#4444ea"/>
<path d="M603.60,55.90 L605.88,58.30 L603.60,60.70 L601.32,58.30 Z" fill="#4444ea"/>
<path d="M550.70,69.80 L552.98,72.20 L550.70,74.60 L548.42,72.20 Z" fill="#4444ea"/>
<path d="M559.40,67.50 L561.68,69.90 L559.40,72.30 L557.12,69.90 Z" fill="#4444ea"/>
<path d="M594.70,67.50 L596.98,69.90 L594.70,72.30 L592.42,69.90 Z" fill="#4444ea"/>
<path d="M559.40,75.80 L561.68,78.20 L559.40,80.60 L557.12,78.20 Z" fill="#4444ea"/>
<path d="M568.30,74.60 L570.58,77.00 L568.30,79.40 L566.02,77.00 Z" fill="#4444ea"/>
<path d="M577.00,74.00 L579.28,76.40 L577.00,78.80 L574.72,76.40 Z" fill="#4444ea"/>
<path d="M577.00,77.10 L579.28,79.50 L577.00,81.90 L574.72,79.50 Z" fill="#4444ea"/>
<path d="M594.70,79.20 L596.98,81.60 L594.70,84.00 L592.42,81.60 Z" fill="#4444ea"/>
<path d="M594.70,81.20 L596.98,83.60 L594.70,86.00 L592.42,83.60 Z" fill="#4444ea"/>
<path d="M603.60,73.60 L605.88,76.00 L603.60,78.40 L601.32,76.00 Z" fill="#4444ea"/>
<path d="M603.60,75.60 L605.88,78.00 L603.60,80.40 L601.32,78.00 Z" fill="#4444ea"/>
<path d="M612.30,75.60 L614.58,78.00 L612.30,80.40 L610.02,78.00 Z" fill="#4444ea"/>
<path d="M612.30,79.20 L614.58,81.60 L612.30,84.00 L610.02,81.60 Z" fill="#4444ea"/>
<path d="M621.30,73.60 L623.58,76.00 L621.30,78.40 L619.02,76.00 Z" fill="#4444ea"/>
<path d="M568.30,83.90 L570.58,86.30 L568.30,88.70 L566.02,86.30 Z" fill="#4444ea"/>
<path d="M568.30,86.60 L570.58,89.00 L568.30,91.40 L566.02,89.00 Z" fill="#4444ea"/>
<path d="M559.40,88.70 L561.68,91.10 L559.40,93.50 L557.12,91.10 Z" fill="#4444ea"/>
<path d="M586.00,87.50 L588.28,89.90 L586.00,92.30 L583.72,89.90 Z" fill="#4444ea"/>
<path d="M603.60,85.40 L605.88,87.80 L603.60,90.20 L601.32,87.80 Z" fill="#4444ea"/>
<path d="M603.60,90.20 L605.88,92.60 L603.60,95.00 L601.32,92.60 Z" fill="#4444ea"/>
<path d="M621.30,87.50 L623.58,89.90 L621.30,92.30 L619.02,89.90 Z" fill="#4444ea"/>
<path d="M550.70,91.20 L552.98,93.60 L550.70,96.00 L548.42,93.60 Z" fill="#4444ea"/>
<path d="M550.70,92.40 L552.98,94.80 L550.70,97.20 L548.42,94.80 Z" fill="#4444ea"/>
<path d="M612.30,92.40 L614.58,94.80 L612.30,97.20 L610.02,94.80 Z" fill="#4444ea"/>
<path d="M577.00,104.10 L579.28,106.50 L577.00,108.90 L574.72,106.50 Z" fill="#4444ea"/>
<path d="M568.30,105.70 L570.58,108.10 L568.30,110.50 L566.02,108.10 Z" fill="#4444ea"/>
<path d="M603.60,107.80 L605.88,110.20 L603.60,112.60 L601.32,110.20 Z" fill="#4444ea"/>
<path d="M603.60,111.50 L605.88,113.90 L603.60,116.30 L601.32,113.90 Z" fill="#4444ea"/>
<path d="M621.30,105.70 L623.58,108.10 L621.30,110.50 L619.02,108.10 Z" fill="#4444ea"/>
<path d="M550.70,113.60 L552.98,116.00 L550.70,118.40 L548.42,116.00 Z" fill="#4444ea"/>
<path d="M559.40,112.40 L561.68,114.80 L559.40,117.20 L557.12,114.80 Z" fill="#4444ea"/>
<path d="M586.00,112.40 L588.28,114.80 L586.00,117.20 L583.72,114.80 Z" fill="#4444ea"/>
<path d="M568.30,117.10 L570.58,119.50 L568.30,121.90 L566.02,119.50 Z" fill="#4444ea"/>
<path d="M603.60,117.60 L605.88,120.00 L603.60,122.40 L601.32,120.00 Z" fill="#4444ea"/>
<path d="M621.30,124.00 L623.58,126.40 L621.30,128.80 L619.02,126.40 Z" fill="#4444ea"/>
<path d="M603.60,130.20 L605.88,132.60 L603.60,135.00 L601.32,132.60 Z" fill="#4444ea"/>
<path d="M568.30,143.10 L570.58,145.50 L568.30,147.90 L566.02,145.50 Z" fill="#4444ea"/>
<path d="M542.00,149.30 L544.28,151.70 L542.00,154.10 L539.72,151.70 Z" fill="#4444ea"/>
<path d="M594.50,32.20 L596.78,34.60 L594.50,37.00 L592.22,34.60 Z" fill="#4444ea"/>
<path d="M647.60,62.60 L649.88,65.00 L647.60,67.40 L645.32,65.00 Z" fill="#4444ea"/>
<path d="M638.60,66.40 L640.88,68.80 L638.60,71.20 L636.32,68.80 Z" fill="#4444ea"/>
<path d="M629.80,75.80 L632.08,78.20 L629.80,80.60 L627.52,78.20 Z" fill="#4444ea"/>
<path d="M630.00,97.10 L632.28,99.50 L630.00,101.90 L627.72,99.50 Z" fill="#4444ea"/>
<path d="M656.30,30.80 L657.98,35.29 L662.77,35.50 L659.02,38.48 L660.30,43.10 L656.30,40.46 L652.30,43.10 L653.58,38.48 L649.83,35.50 L654.62,35.29 Z" fill="#e85a62"/>
<path d="M524.60,21.40 L527.07,24.00 L524.60,26.60 L522.13,24.00 Z" fill="#4444ea"/>
<text transform="translate(536.9,27.2) scale(1,1.12)" font-size="8.75" text-anchor="start" fill="#1a1a1a" stroke="#1a1a1a" style="stroke-width:0.1px" font-weight="normal" >Literature</text>
<path d="M524.80,28.70 L526.26,32.60 L530.41,32.78 L527.16,35.37 L528.27,39.37 L524.80,37.08 L521.33,39.37 L522.44,35.37 L519.19,32.78 L523.34,32.60 Z" fill="#e85a62"/>
<text transform="translate(537.6,37.9) scale(1,1.12)" font-size="8.6" text-anchor="start" fill="#1a1a1a" stroke="#1a1a1a" style="stroke-width:0.1px" font-weight="normal" >This work</text>
<text transform="translate(486.3,91.7) rotate(-90) scale(1,1.15)" font-size="11.7" text-anchor="middle" fill="#1a1a1a" stroke="#1a1a1a">FF (%)</text>
<text transform="translate(594.7,190.6) scale(1,1.08)" font-size="11.7" text-anchor="middle" fill="#1a1a1a" stroke="#1a1a1a"><tspan font-style="italic">V</tspan><tspan font-size="8.5" dy="2">OC</tspan><tspan dy="-2"> (V)</tspan></text>
<line x1="621" y1="116.3" x2="628.5" y2="116.3" stroke="#f0868e" stroke-width="0.8" />
<path d="M628.50,116.30 L625.50,114.70 L625.50,117.90 Z" fill="#f0868e"/>
<line x1="676.5" y1="116.3" x2="668.5" y2="116.3" stroke="#f0868e" stroke-width="0.8" />
<path d="M668.50,116.30 L671.50,114.70 L671.50,117.90 Z" fill="#f0868e"/>
<text transform="translate(648.6,120.3) scale(1,1.12)" font-size="9.3" text-anchor="middle" fill="#d8454b"  font-weight="normal" stroke="none">95% S-Q</text>
<line x1="561.5" y1="140.3" x2="569.4" y2="140.3" stroke="#d0a0d6" stroke-width="0.8" />
<path d="M569.40,140.30 L566.40,138.70 L566.40,141.90 Z" fill="#d0a0d6"/>
<line x1="615.4" y1="140.3" x2="607.5" y2="140.3" stroke="#d0a0d6" stroke-width="0.8" />
<path d="M607.50,140.30 L610.50,138.70 L610.50,141.90 Z" fill="#d0a0d6"/>
<text transform="translate(588.2,144) scale(1,1.12)" font-size="9.3" text-anchor="middle" fill="#c088c8"  font-weight="normal" stroke="none">90% S-Q</text>
<line x1="510" y1="155" x2="506.8" y2="155" stroke="#2a2ae0" stroke-width="0.8" />
<path d="M506.80,155.00 L509.80,153.40 L509.80,156.60 Z" fill="#2a2ae0"/>
<line x1="553.6" y1="155" x2="546.5" y2="155" stroke="#3a3ae8" stroke-width="0.8" />
<path d="M546.50,155.00 L549.50,153.40 L549.50,156.60 Z" fill="#3a3ae8"/>
<text transform="translate(528,158.7) scale(1,1.12)" font-size="9.3" text-anchor="middle" fill="#2424c8"  font-weight="normal" stroke="none">85% S-Q</text>
<linearGradient id="ge" x1="0" y1="0" x2="0" y2="1"><stop offset="0" stop-color="#f5d3da"/><stop offset="1" stop-color="#d4d4f4"/></linearGradient>
<rect x="505.6" y="202.5" width="176.6" height="141" fill="url(#ge)" stroke="none" stroke-width="1" />
<rect x="505.6" y="202.5" width="176.6" height="141" fill="none" stroke="#555" stroke-width="1" />
<line x1="502.6" y1="333.22" x2="505.6" y2="333.22" stroke="#555" stroke-width="1" />
<text transform="translate(500.8,336.82) scale(1,1.06)" font-size="10.1" text-anchor="end" fill="#1a1a1a" stroke="#1a1a1a" font-weight="normal" >19</text>
<line x1="502.6" y1="313.05" x2="505.6" y2="313.05" stroke="#555" stroke-width="1" />
<text transform="translate(500.8,316.65) scale(1,1.06)" font-size="10.1" text-anchor="end" fill="#1a1a1a" stroke="#1a1a1a" font-weight="normal" >20</text>
<line x1="502.6" y1="292.88" x2="505.6" y2="292.88" stroke="#555" stroke-width="1" />
<text transform="translate(500.8,296.48) scale(1,1.06)" font-size="10.1" text-anchor="end" fill="#1a1a1a" stroke="#1a1a1a" font-weight="normal" >21</text>
<line x1="502.6" y1="272.71" x2="505.6" y2="272.71" stroke="#555" stroke-width="1" />
<text transform="translate(500.8,276.31) scale(1,1.06)" font-size="10.1" text-anchor="end" fill="#1a1a1a" stroke="#1a1a1a" font-weight="normal" >22</text>
<line x1="502.6" y1="252.54" x2="505.6" y2="252.54" stroke="#555" stroke-width="1" />
<text transform="translate(500.8,256.14) scale(1,1.06)" font-size="10.1" text-anchor="end" fill="#1a1a1a" stroke="#1a1a1a" font-weight="normal" >23</text>
<line x1="502.6" y1="232.37" x2="505.6" y2="232.37" stroke="#555" stroke-width="1" />
<text transform="translate(500.8,235.97) scale(1,1.06)" font-size="10.1" text-anchor="end" fill="#1a1a1a" stroke="#1a1a1a" font-weight="normal" >24</text>
<line x1="502.6" y1="212.2" x2="505.6" y2="212.2" stroke="#555" stroke-width="1" />
<text transform="translate(500.8,215.8) scale(1,1.06)" font-size="10.1" text-anchor="end" fill="#1a1a1a" stroke="#1a1a1a" font-weight="normal" >25</text>
<line x1="504" y1="323.13" x2="505.6" y2="323.13" stroke="#555" stroke-width="1" />
<line x1="504" y1="302.97" x2="505.6" y2="302.97" stroke="#555" stroke-width="1" />
<line x1="504" y1="282.79" x2="505.6" y2="282.79" stroke="#555" stroke-width="1" />
<line x1="504" y1="262.62" x2="505.6" y2="262.62" stroke="#555" stroke-width="1" />
<line x1="504" y1="242.45" x2="505.6" y2="242.45" stroke="#555" stroke-width="1" />
<line x1="504" y1="222.28" x2="505.6" y2="222.28" stroke="#555" stroke-width="1" />
<line x1="515" y1="343.5" x2="515" y2="346.5" stroke="#555" stroke-width="1" />
<text transform="translate(515,357.1) scale(1,1.06)" font-size="10.1" text-anchor="middle" fill="#1a1a1a" stroke="#1a1a1a" font-weight="normal" >2020</text>
<line x1="543.5" y1="343.5" x2="543.5" y2="346.5" stroke="#555" stroke-width="1" />
<text transform="translate(543.5,357.1) scale(1,1.06)" font-size="10.1" text-anchor="middle" fill="#1a1a1a" stroke="#1a1a1a" font-weight="normal" >2021</text>
<line x1="572" y1="343.5" x2="572" y2="346.5" stroke="#555" stroke-width="1" />
<text transform="translate(572,357.1) scale(1,1.06)" font-size="10.1" text-anchor="middle" fill="#1a1a1a" stroke="#1a1a1a" font-weight="normal" >2022</text>
<line x1="600.5" y1="343.5" x2="600.5" y2="346.5" stroke="#555" stroke-width="1" />
<text transform="translate(600.5,357.1) scale(1,1.06)" font-size="10.1" text-anchor="middle" fill="#1a1a1a" stroke="#1a1a1a" font-weight="normal" >2023</text>
<line x1="629" y1="343.5" x2="629" y2="346.5" stroke="#555" stroke-width="1" />
<text transform="translate(629,357.1) scale(1,1.06)" font-size="10.1" text-anchor="middle" fill="#1a1a1a" stroke="#1a1a1a" font-weight="normal" >2024</text>
<line x1="657.5" y1="343.5" x2="657.5" y2="346.5" stroke="#555" stroke-width="1" />
<text transform="translate(657.5,357.1) scale(1,1.06)" font-size="10.1" text-anchor="middle" fill="#1a1a1a" stroke="#1a1a1a" font-weight="normal" >2025</text>
<line x1="529.25" y1="343.5" x2="529.25" y2="345.1" stroke="#555" stroke-width="1" />
<line x1="557.75" y1="343.5" x2="557.75" y2="345.1" stroke="#555" stroke-width="1" />
<line x1="586.25" y1="343.5" x2="586.25" y2="345.1" stroke="#555" stroke-width="1" />
<line x1="614.75" y1="343.5" x2="614.75" y2="345.1" stroke="#555" stroke-width="1" />
<line x1="643.25" y1="343.5" x2="643.25" y2="345.1" stroke="#555" stroke-width="1" />
<line x1="671.75" y1="343.5" x2="671.75" y2="345.1" stroke="#555" stroke-width="1" />
<path d="M514.20,303.00 L516.29,305.20 L514.20,307.40 L512.11,305.20 Z" fill="#4444ea"/>
<path d="M517.30,294.60 L519.39,296.80 L517.30,299.00 L515.21,296.80 Z" fill="#4444ea"/>
<path d="M522.10,296.90 L524.19,299.10 L522.10,301.30 L520.01,299.10 Z" fill="#4444ea"/>
<path d="M545.20,306.90 L547.29,309.10 L545.20,311.30 L543.11,309.10 Z" fill="#4444ea"/>
<path d="M550.20,305.10 L552.29,307.30 L550.20,309.50 L548.11,307.30 Z" fill="#4444ea"/>
<path d="M558.90,300.90 L560.99,303.10 L558.90,305.30 L556.81,303.10 Z" fill="#4444ea"/>
<path d="M578.00,272.80 L580.09,275.00 L578.00,277.20 L575.91,275.00 Z" fill="#4444ea"/>
<path d="M578.00,297.20 L580.09,299.40 L578.00,301.60 L575.91,299.40 Z" fill="#4444ea"/>
<path d="M578.00,300.40 L580.09,302.60 L578.00,304.80 L575.91,302.60 Z" fill="#4444ea"/>
<path d="M580.10,315.90 L582.19,318.10 L580.10,320.30 L578.01,318.10 Z" fill="#4444ea"/>
<path d="M587.00,298.00 L589.09,300.20 L587.00,302.40 L584.91,300.20 Z" fill="#4444ea"/>
<path d="M587.00,307.20 L589.09,309.40 L587.00,311.60 L584.91,309.40 Z" fill="#4444ea"/>
<path d="M587.00,308.50 L589.09,310.70 L587.00,312.90 L584.91,310.70 Z" fill="#4444ea"/>
<path d="M595.60,307.50 L597.69,309.70 L595.60,311.90 L593.51,309.70 Z" fill="#4444ea"/>
<path d="M601.70,274.60 L603.79,276.80 L601.70,279.00 L599.61,276.80 Z" fill="#4444ea"/>
<path d="M601.70,278.00 L603.79,280.20 L601.70,282.40 L599.61,280.20 Z" fill="#4444ea"/>
<path d="M605.90,299.10 L607.99,301.30 L605.90,303.50 L603.81,301.30 Z" fill="#4444ea"/>
<path d="M610.40,309.00 L612.49,311.20 L610.40,313.40 L608.31,311.20 Z" fill="#4444ea"/>
<path d="M612.50,274.90 L614.59,277.10 L612.50,279.30 L610.41,277.10 Z" fill="#4444ea"/>
<path d="M612.50,280.40 L614.59,282.60 L612.50,284.80 L610.41,282.60 Z" fill="#4444ea"/>
<path d="M612.50,304.80 L614.59,307.00 L612.50,309.20 L610.41,307.00 Z" fill="#4444ea"/>
<path d="M614.80,266.70 L616.89,268.90 L614.80,271.10 L612.71,268.90 Z" fill="#4444ea"/>
<path d="M614.80,274.40 L616.89,276.60 L614.80,278.80 L612.71,276.60 Z" fill="#4444ea"/>
<path d="M617.20,282.00 L619.29,284.20 L617.20,286.40 L615.11,284.20 Z" fill="#4444ea"/>
<path d="M623.80,270.40 L625.89,272.60 L623.80,274.80 L621.71,272.60 Z" fill="#4444ea"/>
<path d="M623.80,300.10 L625.89,302.30 L623.80,304.50 L621.71,302.30 Z" fill="#4444ea"/>
<path d="M631.40,258.80 L633.49,261.00 L631.40,263.20 L629.31,261.00 Z" fill="#4444ea"/>
<path d="M631.40,272.50 L633.49,274.70 L631.40,276.90 L629.31,274.70 Z" fill="#4444ea"/>
<path d="M631.40,276.20 L633.49,278.40 L631.40,280.60 L629.31,278.40 Z" fill="#4444ea"/>
<path d="M633.70,272.50 L635.79,274.70 L633.70,276.90 L631.61,274.70 Z" fill="#4444ea"/>
<path d="M631.40,309.00 L633.49,311.20 L631.40,313.40 L629.31,311.20 Z" fill="#4444ea"/>
<path d="M638.50,267.30 L640.59,269.50 L638.50,271.70 L636.41,269.50 Z" fill="#4444ea"/>
<path d="M640.60,281.20 L642.69,283.40 L640.60,285.60 L638.51,283.40 Z" fill="#4444ea"/>
<path d="M642.70,261.00 L644.79,263.20 L642.70,265.40 L640.61,263.20 Z" fill="#4444ea"/>
<path d="M645.00,298.50 L647.09,300.70 L645.00,302.90 L642.91,300.70 Z" fill="#4444ea"/>
<path d="M645.00,305.10 L647.09,307.30 L645.00,309.50 L642.91,307.30 Z" fill="#4444ea"/>
<path d="M651.90,285.40 L653.99,287.60 L651.90,289.80 L649.81,287.60 Z" fill="#4444ea"/>
<path d="M659.50,259.90 L661.59,262.10 L659.50,264.30 L657.41,262.10 Z" fill="#4444ea"/>
<path d="M652.10,219.30 L654.19,221.50 L652.10,223.70 L650.01,221.50 Z" fill="#4444ea"/>
<path d="M652.10,229.10 L654.19,231.30 L652.10,233.50 L650.01,231.30 Z" fill="#4444ea"/>
<path d="M638.30,243.30 L640.39,245.50 L638.30,247.70 L636.21,245.50 Z" fill="#4444ea"/>
<path d="M643.00,249.20 L645.09,251.40 L643.00,253.60 L640.91,251.40 Z" fill="#4444ea"/>
<path d="M640.70,256.80 L642.79,259.00 L640.70,261.20 L638.61,259.00 Z" fill="#4444ea"/>
<path d="M643.00,261.10 L645.09,263.30 L643.00,265.50 L640.91,263.30 Z" fill="#4444ea"/>
<path d="M631.70,258.20 L633.79,260.40 L631.70,262.60 L629.61,260.40 Z" fill="#4444ea"/>
<path d="M662.00,246.30 L664.09,248.50 L662.00,250.70 L659.91,248.50 Z" fill="#4444ea"/>
<path d="M664.20,253.90 L666.29,256.10 L664.20,258.30 L662.11,256.10 Z" fill="#4444ea"/>
<path d="M659.70,259.80 L661.79,262.00 L659.70,264.20 L657.61,262.00 Z" fill="#4444ea"/>
<path d="M671.20,249.50 L673.29,251.70 L671.20,253.90 L669.11,251.70 Z" fill="#4444ea"/>
<path d="M671.20,251.30 L673.29,253.50 L671.20,255.70 L669.11,253.50 Z" fill="#4444ea"/>
<path d="M674.30,244.40 L676.39,246.60 L674.30,248.80 L672.21,246.60 Z" fill="#4444ea"/>
<path d="M675.30,204.60 L677.03,209.22 L681.96,209.44 L678.10,212.51 L679.41,217.26 L675.30,214.54 L671.19,217.26 L672.50,212.51 L668.64,209.44 L673.57,209.22 Z" fill="#e85a62"/>
<path d="M524.20,204.80 L526.29,207.00 L524.20,209.20 L522.11,207.00 Z" fill="#4444ea"/>
<text transform="translate(536.9,210.7) scale(1,1.12)" font-size="8.75" text-anchor="start" fill="#1a1a1a" stroke="#1a1a1a" style="stroke-width:0.1px" font-weight="normal" >Literature</text>
<path d="M524.20,212.80 L525.56,216.43 L529.43,216.60 L526.40,219.01 L527.43,222.75 L524.20,220.61 L520.97,222.75 L522.00,219.01 L518.97,216.60 L522.84,216.43 Z" fill="#e85a62"/>
<text transform="translate(537.2,221.3) scale(1,1.12)" font-size="8.6" text-anchor="start" fill="#1a1a1a" stroke="#1a1a1a" style="stroke-width:0.1px" font-weight="normal" >This work</text>
<text transform="translate(486,273) rotate(-90) scale(1,1.15)" font-size="11.7" text-anchor="middle" fill="#1a1a1a" stroke="#1a1a1a">PCE (%)</text>
<text transform="translate(593.8,369.5) scale(1,1.1)" font-size="11.9" text-anchor="middle" fill="#1a1a1a" stroke="#1a1a1a" font-weight="normal" >Time (Year)</text>
<line x1="51" y1="418.85" x2="678.7" y2="418.85" stroke="#444" stroke-width="0.9" stroke-dasharray="3.8,3.3"/>
<line x1="51" y1="432.7" x2="678.7" y2="432.7" stroke="#444" stroke-width="0.9" stroke-dasharray="3.8,3.3"/>
<line x1="51" y1="446.55" x2="678.7" y2="446.55" stroke="#444" stroke-width="0.9" stroke-dasharray="3.8,3.3"/>
<clipPath id="clipf"><rect x="51" y="397.8" width="627.7" height="145.7"/></clipPath>
<g clip-path="url(#clipf)">
<path d="M50.80,399.10 L57.38,398.87 L63.97,398.94 L70.55,399.46 L77.14,400.45 L83.72,401.79 L90.30,403.26 L96.89,404.65 L103.47,405.71 L110.06,406.37 L116.64,406.75 L123.22,407.02 L129.81,407.38 L136.39,408.00 L142.98,408.95 L149.56,410.18 L156.14,411.33 L162.73,412.34 L169.31,413.00 L175.90,413.20 L182.48,412.95 L189.06,412.40 L195.65,411.76 L202.23,411.28 L208.82,411.10 L215.40,411.29 L221.98,411.74 L228.57,412.28 L235.15,412.70 L241.74,412.78 L248.32,412.55 L254.90,412.09 L261.49,411.58 L268.07,411.26 L274.66,411.32 L281.24,411.85 L287.82,412.92 L294.41,414.27 L300.99,415.64 L307.58,416.79 L314.16,417.60 L320.74,418.05 L327.33,418.24 L333.91,418.38 L340.50,418.65 L347.08,419.21 L353.66,420.06 L360.25,421.11 L366.83,422.14 L373.42,422.95 L380.00,423.34 L386.58,423.14 L393.17,422.55 L399.75,421.77 L406.34,421.04 L412.92,420.58 L419.50,420.49 L426.09,420.77 L432.67,421.28 L439.26,421.82 L445.84,422.19 L452.42,422.30 L459.01,422.17 L465.59,421.89 L472.18,421.67 L478.76,421.72 L485.34,422.19 L491.93,423.11 L498.51,424.37 L505.10,425.76 L511.68,427.03 L518.26,427.98 L524.85,428.53 L531.43,428.72 L538.02,428.70 L544.60,428.69 L551.18,428.86 L557.77,429.32 L564.35,430.04 L570.94,430.87 L577.52,431.60 L584.10,432.09 L590.69,432.26 L597.27,432.01 L603.86,431.48 L610.44,430.89 L617.02,430.47 L623.61,430.42 L630.19,430.72 L636.78,431.29 L643.36,432.04 L649.94,432.75 L656.53,433.24 L663.11,433.44 L669.70,433.41 L676.28,433.30 L676.28,444.14 L669.70,443.96 L663.11,443.22 L656.53,442.00 L649.94,440.64 L643.36,439.58 L636.78,439.14 L630.19,439.32 L623.61,439.75 L617.02,439.98 L610.44,439.74 L603.86,438.97 L597.27,437.94 L590.69,437.05 L584.10,436.69 L577.52,437.06 L570.94,437.89 L564.35,438.68 L557.77,439.02 L551.18,438.74 L544.60,437.99 L538.02,437.16 L531.43,436.68 L524.85,436.74 L518.26,437.22 L511.68,437.75 L505.10,437.89 L498.51,437.38 L491.93,436.29 L485.34,434.96 L478.76,433.85 L472.18,433.26 L465.59,433.19 L459.01,433.35 L452.42,433.29 L445.84,432.75 L439.26,431.66 L432.67,430.27 L426.09,429.03 L419.50,428.33 L412.92,428.27 L406.34,428.63 L399.75,429.00 L393.17,428.98 L386.58,428.42 L380.00,427.50 L373.42,426.48 L366.83,425.91 L360.25,425.99 L353.66,426.59 L347.08,427.31 L340.50,427.73 L333.91,427.57 L327.33,426.90 L320.74,426.05 L314.16,425.46 L307.58,425.40 L300.99,425.86 L294.41,426.51 L287.82,426.91 L281.24,426.73 L274.66,426.04 L268.07,424.98 L261.49,423.99 L254.90,423.45 L248.32,423.44 L241.74,423.75 L235.15,423.95 L228.57,423.59 L221.98,422.60 L215.40,421.18 L208.82,419.75 L202.23,418.72 L195.65,418.32 L189.06,418.41 L182.48,418.62 L175.90,418.53 L169.31,417.90 L162.73,416.82 L156.14,415.64 L149.56,414.80 L142.98,414.42 L136.39,414.66 L129.81,415.17 L123.22,415.53 L116.64,415.38 L110.06,414.69 L103.47,413.74 L96.89,412.89 L90.30,412.51 L83.72,412.71 L77.14,413.24 L70.55,413.68 L63.97,413.62 L57.38,412.91 L50.80,411.74 Z" stroke="none" stroke-width="1" fill="#f8dfe3" />
<path d="M50.80,399.88 L52.45,399.88 L54.09,399.88 L55.74,399.88 L57.38,399.88 L59.03,399.88 L60.68,399.88 L62.32,399.88 L63.97,399.88 L65.61,399.88 L67.26,399.88 L68.91,399.88 L70.55,399.88 L72.20,399.88 L73.84,399.88 L75.49,399.88 L77.14,399.88 L78.78,399.88 L80.43,399.88 L82.07,399.88 L83.72,399.88 L85.37,400.41 L87.01,400.94 L88.66,401.47 L90.30,402.01 L91.95,402.54 L93.60,403.07 L95.24,403.61 L96.89,404.14 L98.53,404.67 L100.18,405.21 L101.83,405.74 L103.47,406.27 L105.12,406.80 L106.76,407.34 L108.41,407.87 L110.06,408.40 L111.70,408.94 L113.35,409.47 L114.99,410.00 L116.64,410.53 L118.29,411.07 L119.93,411.60 L121.58,412.13 L123.22,412.67 L124.87,413.20 L126.52,413.73 L128.16,414.27 L129.81,414.80 L131.45,415.33 L133.10,415.86 L134.75,416.40 L136.39,416.93 L138.04,417.46 L139.68,418.00 L141.33,418.53 L142.98,419.06 L144.62,419.60 L146.27,420.13 L146.27,438.13 L144.62,437.55 L142.98,436.98 L141.33,436.41 L139.68,435.84 L138.04,435.27 L136.39,434.70 L134.75,434.13 L133.10,433.56 L131.45,432.99 L129.81,432.41 L128.16,431.84 L126.52,431.27 L124.87,430.70 L123.22,430.13 L121.58,429.56 L119.93,428.99 L118.29,428.42 L116.64,427.85 L114.99,427.27 L113.35,426.70 L111.70,426.13 L110.06,425.56 L108.41,424.99 L106.76,424.42 L105.12,423.85 L103.47,423.28 L101.83,422.71 L100.18,422.13 L98.53,421.56 L96.89,420.99 L95.24,420.42 L93.60,419.85 L91.95,419.28 L90.30,418.71 L88.66,418.14 L87.01,417.56 L85.37,416.99 L83.72,416.42 L82.07,415.85 L80.43,415.28 L78.78,414.71 L77.14,414.14 L75.49,413.57 L73.84,413.00 L72.20,412.42 L70.55,411.85 L68.91,411.28 L67.26,410.71 L65.61,410.14 L63.97,409.57 L62.32,409.00 L60.68,408.43 L59.03,407.86 L57.38,407.28 L55.74,406.71 L54.09,406.14 L52.45,405.57 L50.80,405.00 Z" stroke="none" stroke-width="1" fill="#d2d2f6" />
<path d="M50.80,402.06 L51.46,402.13 L52.12,401.48 L52.78,402.29 L53.43,402.74 L54.09,402.91 L54.75,404.01 L55.41,403.96 L56.07,403.80 L56.73,403.49 L57.38,405.00 L58.04,405.43 L58.70,406.23 L59.36,405.17 L60.02,405.02 L60.68,406.52 L61.33,405.31 L61.99,404.86 L62.65,405.43 L63.31,405.92 L63.97,407.30 L64.63,408.42 L65.28,407.96 L65.94,408.89 L66.60,409.18 L67.26,409.33 L67.92,409.99 L68.58,409.47 L69.24,409.39 L69.89,408.57 L70.55,408.99 L71.21,409.05 L71.87,409.51 L72.53,409.50 L73.19,410.06 L73.84,410.83 L74.50,409.71 L75.16,409.25 L75.82,409.47 L76.48,409.97 L77.14,411.18 L77.79,412.08 L78.45,412.49 L79.11,413.28 L79.77,412.23 L80.43,412.61 L81.09,411.91 L81.74,412.68 L82.40,411.90 L83.06,411.85 L83.72,413.79 L84.38,414.40 L85.04,413.25 L85.70,413.72 L86.35,412.90 L87.01,413.87 L87.67,415.15 L88.33,414.64 L88.99,414.14 L89.65,415.10 L90.30,416.06 L90.96,416.09 L91.62,414.78 L92.28,414.66 L92.94,416.11 L93.60,416.62 L94.25,417.29 L94.91,417.79 L95.57,416.49 L96.23,417.30 L96.89,416.94 L97.55,417.09 L98.20,417.81 L98.86,417.06 L99.52,418.09 L100.18,417.56 L100.84,418.54 L101.50,418.44 L102.16,418.93 L102.81,419.13 L103.47,417.76 L104.13,417.53 L104.79,418.60 L105.45,417.93 L106.11,419.17 L106.76,419.47 L107.42,418.68 L108.08,418.84 L108.74,420.21 L109.40,419.04 L110.06,420.27 L110.71,420.88 L111.37,420.14 L112.03,420.86 L112.69,421.38 L113.35,422.24 L114.01,422.72 L114.66,421.97 L115.32,422.45 L115.98,421.99 L116.64,422.37 L117.30,422.47 L117.96,421.50 L118.62,422.17 L119.27,422.40 L119.93,421.96 L120.59,423.30 L121.25,424.08 L121.91,422.86 L122.57,422.52 L123.22,423.66 L123.88,424.43 L124.54,423.65 L125.20,422.88 L125.86,424.20 L126.52,423.25 L127.17,422.99 L127.83,423.53 L128.49,424.27 L129.15,425.40 L129.81,426.17 L130.47,424.56 L131.12,425.41 L131.78,424.86 L132.44,425.63 L133.10,424.82 L133.76,424.97 L134.42,425.77 L135.08,426.49 L135.73,425.69 L136.39,426.79 L137.05,427.05 L137.71,426.49 L138.37,425.62 L139.03,425.77 L139.68,426.64 L140.34,425.72 L141.00,426.89 L141.66,427.95 L142.32,427.97 L142.98,427.65 L143.63,428.39 L144.29,428.56 L144.95,428.28 L145.61,427.74 L146.27,428.50" stroke="#1e1ee6" stroke-width="3.4" fill="none" />
<path d="M50.80,405.23 L51.62,404.54 L52.45,404.08 L53.27,404.43 L54.09,404.58 L54.91,404.87 L55.74,405.79 L56.56,406.46 L57.38,406.87 L58.21,405.62 L59.03,405.38 L59.85,404.87 L60.68,406.21 L61.50,405.89 L62.32,406.03 L63.14,405.72 L63.97,406.29 L64.79,405.48 L65.61,406.65 L66.44,406.49 L67.26,406.12 L68.08,405.71 L68.91,405.81 L69.73,405.95 L70.55,405.91 L71.38,405.73 L72.20,406.61 L73.02,406.53 L73.84,406.17 L74.67,406.08 L75.49,406.82 L76.31,406.61 L77.14,406.42 L77.96,406.84 L78.78,407.01 L79.60,407.53 L80.43,407.49 L81.25,407.47 L82.07,408.37 L82.90,407.93 L83.72,407.16 L84.54,407.00 L85.37,407.21 L86.19,407.91 L87.01,407.73 L87.83,407.93 L88.66,408.30 L89.48,407.86 L90.30,408.93 L91.13,408.40 L91.95,409.36 L92.77,408.93 L93.60,408.96 L94.42,409.42 L95.24,408.91 L96.06,409.03 L96.89,408.93 L97.71,408.41 L98.53,409.29 L99.36,410.17 L100.18,410.17 L101.00,409.57 L101.83,410.08 L102.65,410.43 L103.47,409.41 L104.29,409.34 L105.12,409.69 L105.94,409.15 L106.76,409.85 L107.59,409.67 L108.41,410.38 L109.23,410.39 L110.06,409.79 L110.88,409.35 L111.70,409.21 L112.53,410.00 L113.35,410.09 L114.17,410.61 L114.99,411.20 L115.82,410.93 L116.64,410.26 L117.46,409.93 L118.29,410.03 L119.11,409.71 L119.93,410.70 L120.75,411.40 L121.58,411.32 L122.40,411.60 L123.22,411.87 L124.05,411.70 L124.87,411.30 L125.69,411.34 L126.52,411.69 L127.34,411.03 L128.16,410.49 L128.99,411.13 L129.81,412.11 L130.63,412.70 L131.45,411.63 L132.28,412.50 L133.10,411.86 L133.92,411.80 L134.75,412.24 L135.57,411.68 L136.39,412.72 L137.21,413.07 L138.04,412.75 L138.86,413.34 L139.68,412.32 L140.51,412.83 L141.33,413.27 L142.15,413.68 L142.98,412.95 L143.80,412.91 L144.62,412.62 L145.44,412.47 L146.27,412.16 L147.09,411.79 L147.91,412.09 L148.74,413.08 L149.56,413.14 L150.38,413.69 L151.21,414.26 L152.03,413.79 L152.85,413.18 L153.68,413.78 L154.50,413.94 L155.32,413.92 L156.14,413.35 L156.97,413.37 L157.79,413.25 L158.61,412.97 L159.44,413.45 L160.26,413.05 L161.08,412.68 L161.91,413.88 L162.73,413.09 L163.55,413.06 L164.37,414.05 L165.20,414.03 L166.02,413.75 L166.84,413.16 L167.67,413.77 L168.49,413.78 L169.31,413.28 L170.13,413.19 L170.96,412.92 L171.78,413.60 L172.60,413.65 L173.43,414.44 L174.25,413.99 L175.07,413.63 L175.90,413.76 L176.72,413.72 L177.54,414.55 L178.37,413.85 L179.19,413.38 L180.01,413.17 L180.83,413.82 L181.66,413.74 L182.48,414.50 L183.30,413.92 L184.13,413.74 L184.95,414.52 L185.77,415.36 L186.59,415.21 L187.42,414.97 L188.24,414.51 L189.06,414.77 L189.89,415.68 L190.71,414.85 L191.53,415.70 L192.36,414.92 L193.18,415.59 L194.00,415.68 L194.82,414.98 L195.65,415.73 L196.47,416.12 L197.29,415.71 L198.12,415.19 L198.94,414.75 L199.76,414.80 L200.59,414.42 L201.41,415.00 L202.23,414.56 L203.06,415.79 L203.88,416.19 L204.70,415.91 L205.52,416.18 L206.35,415.61 L207.17,415.49 L207.99,415.64 L208.82,415.21 L209.64,415.48 L210.46,416.05 L211.28,416.23 L212.11,415.58 L212.93,415.17 L213.75,416.14 L214.58,415.58 L215.40,415.12 L216.22,415.65 L217.05,415.85 L217.87,416.59 L218.69,416.42 L219.51,416.41 L220.34,416.26 L221.16,417.16 L221.98,416.07 L222.81,416.29 L223.63,416.61 L224.45,416.13 L225.28,416.30 L226.10,416.53 L226.92,416.33 L227.75,417.29 L228.57,417.00 L229.39,417.08 L230.21,416.24 L231.04,415.90 L231.86,416.83 L232.68,416.98 L233.51,417.65 L234.33,417.49 L235.15,416.79 L235.97,416.32 L236.80,416.80 L237.62,417.32 L238.44,417.80 L239.27,417.35 L240.09,416.63 L240.91,417.61 L241.74,417.03 L242.56,418.01 L243.38,418.24 L244.20,418.31 L245.03,417.60 L245.85,417.86 L246.67,417.95 L247.50,417.57 L248.32,418.26 L249.14,417.57 L249.97,418.25 L250.79,417.97 L251.61,418.27 L252.44,418.53 L253.26,418.11 L254.08,418.08 L254.90,418.18 L255.73,418.18 L256.55,418.01 L257.37,418.55 L258.20,418.76 L259.02,418.17 L259.84,417.88 L260.67,417.93 L261.49,417.43 L262.31,417.60 L263.13,417.29 L263.96,418.19 L264.78,417.81 L265.60,417.52 L266.43,417.23 L267.25,418.08 L268.07,418.52 L268.89,417.75 L269.72,418.55 L270.54,417.67 L271.36,417.42 L272.19,418.57 L273.01,418.98 L273.83,418.40 L274.66,418.89 L275.48,419.43 L276.30,418.49 L277.12,418.71 L277.95,418.23 L278.77,419.11 L279.59,419.10 L280.42,418.64 L281.24,419.54 L282.06,419.70 L282.89,419.00 L283.71,418.30 L284.53,417.88 L285.36,419.11 L286.18,419.10 L287.00,418.70 L287.82,418.95 L288.65,418.80 L289.47,419.57 L290.29,420.18 L291.12,420.44 L291.94,420.72 L292.76,420.02 L293.58,419.76 L294.41,419.57 L295.23,420.19 L296.05,420.47 L296.88,420.60 L297.70,419.63 L298.52,418.92 L299.35,418.69 L300.17,419.99 L300.99,420.72 L301.81,419.62 L302.64,419.92 L303.46,419.58 L304.28,420.17 L305.11,420.25 L305.93,420.24 L306.75,420.40 L307.58,420.22 L308.40,421.13 L309.22,420.47 L310.05,419.92 L310.87,420.77 L311.69,420.77 L312.51,420.32 L313.34,420.68 L314.16,421.23 L314.98,421.58 L315.81,421.20 L316.63,421.86 L317.45,420.75 L318.27,420.38 L319.10,420.38 L319.92,420.14 L320.74,420.43 L321.57,420.97 L322.39,420.95 L323.21,421.11 L324.04,420.43 L324.86,420.40 L325.68,421.32 L326.50,420.72 L327.33,420.73 L328.15,420.69 L328.97,420.64 L329.80,421.32 L330.62,420.87 L331.44,420.69 L332.27,420.94 L333.09,420.96 L333.91,421.01 L334.74,421.65 L335.56,421.47 L336.38,422.48 L337.20,422.57 L338.03,422.42 L338.85,423.13 L339.67,422.94 L340.50,422.40 L341.32,422.18 L342.14,422.74 L342.97,421.86 L343.79,421.91 L344.61,422.50 L345.43,422.29 L346.26,422.36 L347.08,422.48 L347.90,422.80 L348.73,421.97 L349.55,422.17 L350.37,422.20 L351.19,422.14 L352.02,421.77 L352.84,423.20 L353.66,422.95 L354.49,422.65 L355.31,423.33 L356.13,423.45 L356.96,424.11 L357.78,424.23 L358.60,424.01 L359.43,424.39 L360.25,424.35 L361.07,423.27 L361.89,423.34 L362.72,423.47 L363.54,422.80 L364.36,423.15 L365.19,422.64 L366.01,423.00 L366.83,422.92 L367.66,424.12 L368.48,423.88 L369.30,423.52 L370.12,424.55 L370.95,423.61 L371.77,424.45 L372.59,424.38 L373.42,424.87 L374.24,424.59 L375.06,424.29 L375.88,425.08 L376.71,424.03 L377.53,424.40 L378.35,424.43 L379.18,424.35 L380.00,424.72 L380.82,425.05 L381.65,424.61 L382.47,424.57 L383.29,425.02 L384.12,424.54 L384.94,425.02 L385.76,425.74 L386.58,425.73 L387.41,426.08 L388.23,426.08 L389.05,425.11 L389.88,425.24 L390.70,424.48 L391.52,424.36 L392.35,425.48 L393.17,424.49 L393.99,424.09 L394.81,425.35 L395.64,424.61 L396.46,425.05 L397.28,425.21 L398.11,424.48 L398.93,425.34 L399.75,425.32 L400.57,424.64 L401.40,424.67 L402.22,425.13 L403.04,424.52 L403.87,424.50 L404.69,424.87 L405.51,425.87 L406.34,425.55 L407.16,425.68 L407.98,426.18 L408.81,426.70 L409.63,426.18 L410.45,426.61 L411.27,426.31 L412.10,425.80 L412.92,425.92 L413.74,426.31 L414.57,425.99 L415.39,426.12 L416.21,425.60 L417.04,425.77 L417.86,425.10 L418.68,424.85 L419.50,425.10 L420.33,426.07 L421.15,426.78 L421.97,425.85 L422.80,425.58 L423.62,425.73 L424.44,426.26 L425.26,426.69 L426.09,426.23 L426.91,426.22 L427.73,426.18 L428.56,426.11 L429.38,425.89 L430.20,426.73 L431.03,427.07 L431.85,426.04 L432.67,425.65 L433.50,425.53 L434.32,426.88 L435.14,427.54 L435.96,427.53 L436.79,427.29 L437.61,426.85 L438.43,427.52 L439.26,427.13 L440.08,427.74 L440.90,428.03 L441.73,427.22 L442.55,427.03 L443.37,426.82 L444.19,427.16 L445.02,427.17 L445.84,427.64 L446.66,427.66 L447.49,427.03 L448.31,426.57 L449.13,427.63 L449.95,428.09 L450.78,427.20 L451.60,427.08 L452.42,426.80 L453.25,427.61 L454.07,427.68 L454.89,428.01 L455.72,427.28 L456.54,427.66 L457.36,427.40 L458.19,426.74 L459.01,427.52 L459.83,427.57 L460.65,427.28 L461.48,426.87 L462.30,427.50 L463.12,427.93 L463.95,428.62 L464.77,427.69 L465.59,428.57 L466.42,429.02 L467.24,428.47 L468.06,428.34 L468.88,427.97 L469.71,428.44 L470.53,427.91 L471.35,428.82 L472.18,429.07 L473.00,428.47 L473.82,429.15 L474.64,429.14 L475.47,428.46 L476.29,428.19 L477.11,428.76 L477.94,429.29 L478.76,429.22 L479.58,428.60 L480.41,428.90 L481.23,429.49 L482.05,428.81 L482.88,428.73 L483.70,428.13 L484.52,427.81 L485.34,427.72 L486.17,428.48 L486.99,428.27 L487.81,429.02 L488.64,429.39 L489.46,429.46 L490.28,428.62 L491.11,428.29 L491.93,429.22 L492.75,429.52 L493.57,429.68 L494.40,429.78 L495.22,429.80 L496.04,429.84 L496.87,430.20 L497.69,429.79 L498.51,429.21 L499.33,429.37 L500.16,428.98 L500.98,429.26 L501.80,430.06 L502.63,429.51 L503.45,429.06 L504.27,429.84 L505.10,430.69 L505.92,430.31 L506.74,430.09 L507.56,429.97 L508.39,429.26 L509.21,429.45 L510.03,429.31 L510.86,430.49 L511.68,430.30 L512.50,429.82 L513.33,430.77 L514.15,431.27 L514.97,430.45 L515.79,429.79 L516.62,430.83 L517.44,430.46 L518.26,431.11 L519.09,430.45 L519.91,430.31 L520.73,430.92 L521.56,431.29 L522.38,430.59 L523.20,430.67 L524.02,430.32 L524.85,430.78 L525.67,431.13 L526.49,430.27 L527.32,430.35 L528.14,430.71 L528.96,430.84 L529.79,430.62 L530.61,430.55 L531.43,430.19 L532.25,430.87 L533.08,430.53 L533.90,430.65 L534.72,430.42 L535.55,430.40 L536.37,430.37 L537.19,430.28 L538.02,430.14 L538.84,430.62 L539.66,431.07 L540.49,431.01 L541.31,430.84 L542.13,431.41 L542.95,431.72 L543.78,432.35 L544.60,431.69 L545.42,430.97 L546.25,431.65 L547.07,432.35 L547.89,432.66 L548.71,432.47 L549.54,432.62 L550.36,431.58 L551.18,432.60 L552.01,432.71 L552.83,433.11 L553.65,432.44 L554.48,431.91 L555.30,432.66 L556.12,433.24 L556.94,432.90 L557.77,432.54 L558.59,431.83 L559.41,432.95 L560.24,433.41 L561.06,433.53 L561.88,433.56 L562.71,433.56 L563.53,432.78 L564.35,432.61 L565.17,433.17 L566.00,433.53 L566.82,433.57 L567.64,433.78 L568.47,432.94 L569.29,433.28 L570.11,433.08 L570.94,432.55 L571.76,432.86 L572.58,433.40 L573.40,432.65 L574.23,432.25 L575.05,433.02 L575.87,433.08 L576.70,432.45 L577.52,432.94 L578.34,433.64 L579.17,434.30 L579.99,433.15 L580.81,432.84 L581.63,433.40 L582.46,433.48 L583.28,433.57 L584.10,434.05 L584.93,433.12 L585.75,433.25 L586.57,434.04 L587.40,434.84 L588.22,434.50 L589.04,434.53 L589.86,433.87 L590.69,433.71 L591.51,433.84 L592.33,434.68 L593.16,435.13 L593.98,435.11 L594.80,435.23 L595.63,434.31 L596.45,434.47 L597.27,434.38 L598.09,433.77 L598.92,434.70 L599.74,434.75 L600.56,435.45 L601.39,434.80 L602.21,435.78 L603.03,434.94 L603.86,434.50 L604.68,434.36 L605.50,435.55 L606.32,435.86 L607.15,435.30 L607.97,436.08 L608.79,435.87 L609.62,435.81 L610.44,435.00 L611.26,435.24 L612.09,434.94 L612.91,435.74 L613.73,435.36 L614.55,435.82 L615.38,435.25 L616.20,436.37 L617.02,435.74 L617.85,436.48 L618.67,436.32 L619.49,436.30 L620.32,436.94 L621.14,436.16 L621.96,436.67 L622.78,436.96 L623.61,437.52 L624.43,437.45 L625.25,437.18 L626.08,436.66 L626.90,437.02 L627.72,436.67 L628.55,437.48 L629.37,437.43 L630.19,437.31 L631.01,436.43 L631.84,436.24 L632.66,436.46 L633.48,437.66 L634.31,437.67 L635.13,437.14 L635.95,437.69 L636.78,437.44 L637.60,437.51 L638.42,438.31 L639.24,437.10 L640.07,436.84 L640.89,437.71 L641.71,437.49 L642.54,437.94 L643.36,438.04 L644.18,437.85 L645.01,438.17 L645.83,438.29 L646.65,438.27 L647.47,437.83 L648.30,438.32 L649.12,438.67 L649.94,437.99 L650.77,438.33 L651.59,437.51 L652.41,437.75 L653.24,437.62 L654.06,438.23 L654.88,437.73 L655.70,438.73 L656.53,439.16 L657.35,439.48 L658.17,438.69 L659.00,438.27 L659.82,438.95 L660.64,438.95 L661.47,438.24 L662.29,438.32 L663.11,439.21 L663.93,439.45 L664.76,439.71 L665.58,439.91 L666.40,439.57 L667.23,439.97 L668.05,438.78 L668.87,439.03 L669.70,439.04 L670.52,438.83 L671.34,438.56 L672.16,438.35 L672.99,438.99 L673.81,439.42 L674.63,439.52 L675.46,440.25 L676.28,440.00 L677.10,439.40 L677.93,438.65 L678.75,438.61 L679.57,438.83 L680.39,439.05 L681.22,440.16" stroke="#eb3339" stroke-width="3.4" fill="none" />
</g>
<rect x="51" y="397.8" width="627.7" height="145.7" fill="none" stroke="#555" stroke-width="1" />
<line x1="48" y1="543.5" x2="51" y2="543.5" stroke="#555" stroke-width="1" />
<text transform="translate(46.2,547.1) scale(1,1.06)" font-size="10.1" text-anchor="end" fill="#1a1a1a" stroke="#1a1a1a" font-weight="normal" >0.0</text>
<line x1="48" y1="515.8" x2="51" y2="515.8" stroke="#555" stroke-width="1" />
<text transform="translate(46.2,519.4) scale(1,1.06)" font-size="10.1" text-anchor="end" fill="#1a1a1a" stroke="#1a1a1a" font-weight="normal" >0.2</text>
<line x1="48" y1="488.1" x2="51" y2="488.1" stroke="#555" stroke-width="1" />
<text transform="translate(46.2,491.7) scale(1,1.06)" font-size="10.1" text-anchor="end" fill="#1a1a1a" stroke="#1a1a1a" font-weight="normal" >0.4</text>
<line x1="48" y1="460.4" x2="51" y2="460.4" stroke="#555" stroke-width="1" />
<text transform="translate(46.2,464) scale(1,1.06)" font-size="10.1" text-anchor="end" fill="#1a1a1a" stroke="#1a1a1a" font-weight="normal" >0.6</text>
<line x1="48" y1="432.7" x2="51" y2="432.7" stroke="#555" stroke-width="1" />
<text transform="translate(46.2,436.3) scale(1,1.06)" font-size="10.1" text-anchor="end" fill="#1a1a1a" stroke="#1a1a1a" font-weight="normal" >0.8</text>
<line x1="48" y1="405" x2="51" y2="405" stroke="#555" stroke-width="1" />
<text transform="translate(46.2,408.6) scale(1,1.06)" font-size="10.1" text-anchor="end" fill="#1a1a1a" stroke="#1a1a1a" font-weight="normal" >1.0</text>
<line x1="49.4" y1="529.65" x2="51" y2="529.65" stroke="#555" stroke-width="1" />
<line x1="49.4" y1="501.95" x2="51" y2="501.95" stroke="#555" stroke-width="1" />
<line x1="49.4" y1="474.25" x2="51" y2="474.25" stroke="#555" stroke-width="1" />
<line x1="49.4" y1="446.55" x2="51" y2="446.55" stroke="#555" stroke-width="1" />
<line x1="49.4" y1="418.85" x2="51" y2="418.85" stroke="#555" stroke-width="1" />
<line x1="50.8" y1="543.5" x2="50.8" y2="546.5" stroke="#555" stroke-width="1" />
<text transform="translate(50.8,557.1) scale(1,1.06)" font-size="10.1" text-anchor="middle" fill="#1a1a1a" stroke="#1a1a1a" font-weight="normal" >0</text>
<line x1="133.1" y1="543.5" x2="133.1" y2="546.5" stroke="#555" stroke-width="1" />
<text transform="translate(133.1,557.1) scale(1,1.06)" font-size="10.1" text-anchor="middle" fill="#1a1a1a" stroke="#1a1a1a" font-weight="normal" >500</text>
<line x1="215.4" y1="543.5" x2="215.4" y2="546.5" stroke="#555" stroke-width="1" />
<text transform="translate(215.4,557.1) scale(1,1.06)" font-size="10.1" text-anchor="middle" fill="#1a1a1a" stroke="#1a1a1a" font-weight="normal" >1000</text>
<line x1="297.7" y1="543.5" x2="297.7" y2="546.5" stroke="#555" stroke-width="1" />
<text transform="translate(297.7,557.1) scale(1,1.06)" font-size="10.1" text-anchor="middle" fill="#1a1a1a" stroke="#1a1a1a" font-weight="normal" >1500</text>
<line x1="380" y1="543.5" x2="380" y2="546.5" stroke="#555" stroke-width="1" />
<text transform="translate(380,557.1) scale(1,1.06)" font-size="10.1" text-anchor="middle" fill="#1a1a1a" stroke="#1a1a1a" font-weight="normal" >2000</text>
<line x1="462.3" y1="543.5" x2="462.3" y2="546.5" stroke="#555" stroke-width="1" />
<text transform="translate(462.3,557.1) scale(1,1.06)" font-size="10.1" text-anchor="middle" fill="#1a1a1a" stroke="#1a1a1a" font-weight="normal" >2500</text>
<line x1="544.6" y1="543.5" x2="544.6" y2="546.5" stroke="#555" stroke-width="1" />
<text transform="translate(544.6,557.1) scale(1,1.06)" font-size="10.1" text-anchor="middle" fill="#1a1a1a" stroke="#1a1a1a" font-weight="normal" >3000</text>
<line x1="626.9" y1="543.5" x2="626.9" y2="546.5" stroke="#555" stroke-width="1" />
<text transform="translate(626.9,557.1) scale(1,1.06)" font-size="10.1" text-anchor="middle" fill="#1a1a1a" stroke="#1a1a1a" font-weight="normal" >3500</text>
<line x1="91.95" y1="543.5" x2="91.95" y2="545.1" stroke="#555" stroke-width="1" />
<line x1="174.25" y1="543.5" x2="174.25" y2="545.1" stroke="#555" stroke-width="1" />
<line x1="256.55" y1="543.5" x2="256.55" y2="545.1" stroke="#555" stroke-width="1" />
<line x1="338.85" y1="543.5" x2="338.85" y2="545.1" stroke="#555" stroke-width="1" />
<line x1="421.15" y1="543.5" x2="421.15" y2="545.1" stroke="#555" stroke-width="1" />
<line x1="503.45" y1="543.5" x2="503.45" y2="545.1" stroke="#555" stroke-width="1" />
<line x1="585.75" y1="543.5" x2="585.75" y2="545.1" stroke="#555" stroke-width="1" />
<line x1="668.05" y1="543.5" x2="668.05" y2="545.1" stroke="#555" stroke-width="1" />
<text transform="translate(24.2,470.8) rotate(-90) scale(1,1.15)" font-size="11.4" text-anchor="middle" fill="#1a1a1a" stroke="#1a1a1a">Normalized PCE</text>
<text transform="translate(364.7,573.6) scale(1,1.08)" font-size="11.4" text-anchor="middle" fill="#1a1a1a" stroke="#1a1a1a" font-weight="normal" >Time (h)</text>
<line x1="60.3" y1="463.8" x2="89.3" y2="463.8" stroke="#2020e8" stroke-width="2.6" />
<text transform="translate(91.8,468) scale(1,1.0)" font-size="12.3" text-anchor="start" fill="#1a1a1a" stroke="#1a1a1a" font-weight="normal" >Control</text>
<line x1="60.3" y1="478.9" x2="89.3" y2="478.9" stroke="#ee3035" stroke-width="2.6" />
<text transform="translate(91.8,483.1) scale(1,1.0)" font-size="12.3" text-anchor="start" fill="#1a1a1a" stroke="#1a1a1a" font-weight="normal" >Target</text>
<text transform="translate(52.8,430.4) scale(1,1.15)" font-size="10.8" fill="#4a4ae6" stroke="#4a4ae6">T<tspan font-size="8.2" dy="3">90</tspan><tspan dy="-3">= 405 h</tspan></text>
<text transform="translate(299.9,410.8) scale(1,1.08)" font-size="12" fill="#e5363c" stroke="#e5363c">T<tspan font-size="8.8" dy="3">90</tspan><tspan dy="-3">= 1408 h</tspan></text>
<line x1="282.3" y1="418.3" x2="298.1" y2="408.8" stroke="#e03a3e" stroke-width="0.8" />
<text transform="translate(568.2,470.0) scale(1,1.08)" font-size="12" fill="#e5363c" stroke="#e5363c">T<tspan font-size="8.8" dy="3">80</tspan><tspan dy="-3">= 3225 h</tspan></text>
<line x1="582" y1="434.2" x2="577" y2="456.5" stroke="#e5363c" stroke-width="0.8" />
<line x1="163.3" y1="444.6" x2="163.3" y2="424" stroke="#111" stroke-width="0.9" />
<path d="M163.30,420.00 L161.20,425.50 L165.40,425.50 Z" fill="#111"/>
<text transform="translate(170,444.2) scale(1,1.0)" font-size="10.5" text-anchor="start" fill="#1a1a1a" stroke="#1a1a1a" font-weight="normal" >90%</text>
<line x1="220.3" y1="457.9" x2="220.3" y2="437" stroke="#111" stroke-width="0.9" />
<path d="M220.30,433.00 L218.20,438.50 L222.40,438.50 Z" fill="#111"/>
<text transform="translate(227,460.6) scale(1,1.0)" font-size="10.5" text-anchor="start" fill="#1a1a1a" stroke="#1a1a1a" font-weight="normal" >80%</text>
<line x1="283" y1="470.8" x2="283" y2="450.3" stroke="#111" stroke-width="0.9" />
<path d="M283.00,446.30 L280.90,451.80 L285.10,451.80 Z" fill="#111"/>
<text transform="translate(288.6,473.6) scale(1,1.0)" font-size="10.5" text-anchor="start" fill="#1a1a1a" stroke="#1a1a1a" font-weight="normal" >70%</text>
<text transform="translate(447.2,522.4) scale(1,1.0)" font-size="12" letter-spacing="0.5" fill="#1a1a1a" stroke="#1a1a1a">operation, 1-sun/65<tspan font-family="Liberation Serif" font-size="12.5" letter-spacing="-0.8">&#176;C</tspan></text>
</svg></body></html>
